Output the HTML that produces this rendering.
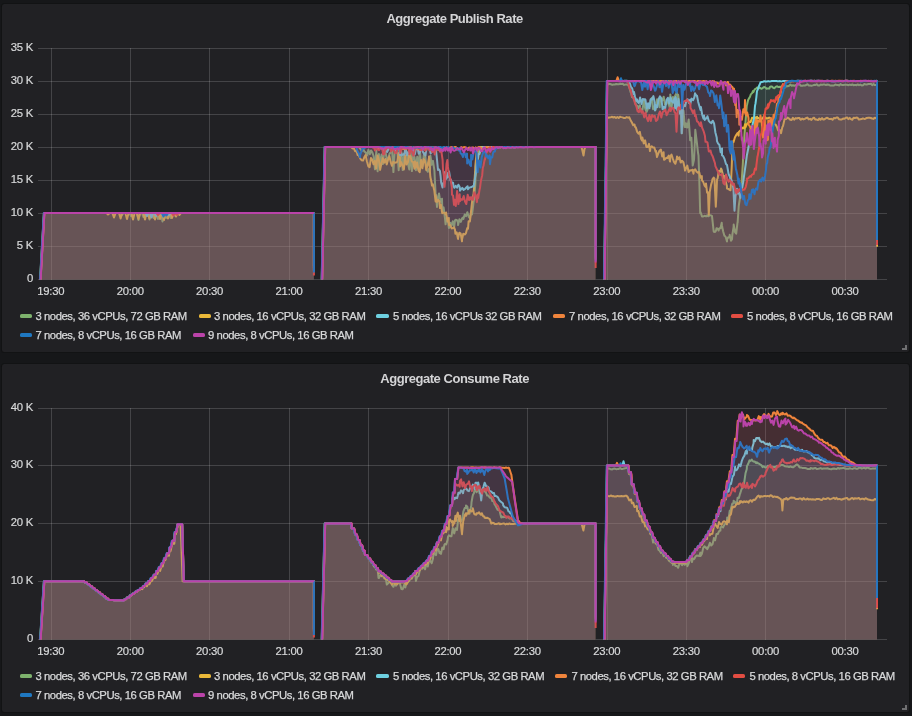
<!DOCTYPE html>
<html lang="en"><head><meta charset="utf-8"><title>Aggregate Publish / Consume Rate</title>
<style>
html,body{margin:0;padding:0;background:#161719;}
body{width:912px;height:716px;position:relative;overflow:hidden;font-family:"Liberation Sans",Arial,sans-serif;color:#d8d9da;}
.panel{position:absolute;width:907px;height:348px;background:#212124;border-radius:2.5px;box-shadow:0 0 0 1px #121314;}
.title{position:absolute;left:-0.9px;right:0.9px;top:6.8px;margin:0;text-align:center;font-size:13px;line-height:16px;font-weight:bold;letter-spacing:-0.47px;color:#d4d4d6;}
.chart{position:absolute;left:0;top:0;}
.yl,.xl,.lt{position:absolute;font-size:11.3px;line-height:15px;white-space:nowrap;}
.yl,.xl{-webkit-text-stroke:0.2px #d8d9da;}
.yl{left:0;width:30.9px;text-align:right;letter-spacing:-0.3px;}
.xl{width:40px;text-align:center;letter-spacing:-0.25px;}
.legend{list-style:none;margin:0;padding:0;}
.legend li{display:block;}
.sw{position:absolute;width:12.3px;height:4.4px;border-radius:1.6px;}
.lt{letter-spacing:-0.45px;-webkit-text-stroke:0.25px #d8d9da;}
.rz{position:absolute;right:2px;bottom:2px;width:5px;height:5px;border-right:2px solid #6f6f71;border-bottom:2px solid #6f6f71;box-sizing:border-box;}
</style></head><body>
<section class="panel" style="left:2px;top:4px">
<h2 class="title">Aggregate Publish Rate</h2>
<svg class="chart" width="907" height="348" viewBox="2 4 907 348">
<path d="M38 48.5 H887 M38 81.5 H887 M38 114.5 H887 M38 147.5 H887 M38 180.5 H887 M38 213.5 H887 M38 246.5 H887 M38 279.5 H887" stroke="#fff" stroke-opacity=".16" stroke-width="1" fill="none" shape-rendering="crispEdges"/>
<path d="M51.5 48 V280 M130.5 48 V280 M209.5 48 V280 M289.5 48 V280 M368.5 48 V280 M448.5 48 V280 M527.5 48 V280 M607.5 48 V280 M686.5 48 V280 M765.5 48 V280 M845.5 48 V280" stroke="#fff" stroke-opacity=".16" stroke-width="1" fill="none" shape-rendering="crispEdges"/>
<path d="M40.2 279.5L44 213L120.4 213L120.6 213.2L121.9 214.8L122 215L123.6 213L129.4 213L129.8 213.8L131 216L132.4 213.3L132.6 213L136.9 213L137.7 216.6L138.5 220L139 217.6L140.1 213L141.9 213L143 215.8L143.5 217L145.1 213L147.9 213L148.3 214.5L149.5 219.5L150.9 213.7L151.1 213L151.9 213L152.2 214.1L153.5 218L153.6 217.8L154.9 213.7L155.1 213L156.4 213L157.5 217.2L158 219L158.8 215.8L159.6 213L160.9 213L161.5 216.1L162.5 221.5L164.1 213L164.4 213L165.4 216.2L166 218L166.8 215.6L167.6 213L168.9 213L169.4 214.6L170.5 218L170.7 217.3L172 213.2L172.1 213L173.4 213L174.7 215L175 215.5L176 213.9L176.6 213L313.9 213L313.9 268L313.9 279.5 L40.2 279.5 Z" fill="#83b66e" fill-opacity="0.106" stroke="none"/>
<path d="M40.2 279.5L44 213L120.4 213L120.6 213.2L121.9 214.8L122 215L123.6 213L129.4 213L129.8 213.8L131 216L132.4 213.3L132.6 213L136.9 213L137.7 216.6L138.5 220L139 217.6L140.1 213L141.9 213L143 215.8L143.5 217L145.1 213L147.9 213L148.3 214.5L149.5 219.5L150.9 213.7L151.1 213L151.9 213L152.2 214.1L153.5 218L153.6 217.8L154.9 213.7L155.1 213L156.4 213L157.5 217.2L158 219L158.8 215.8L159.6 213L160.9 213L161.5 216.1L162.5 221.5L164.1 213L164.4 213L165.4 216.2L166 218L166.8 215.6L167.6 213L168.9 213L169.4 214.6L170.5 218L170.7 217.3L172 213.2L172.1 213L173.4 213L174.7 215L175 215.5L176 213.9L176.6 213L313.9 213L313.9 268" fill="none" stroke="#7eb26d" stroke-width="2" stroke-linejoin="round"/>
<path d="M321.8 279.5L324.8 147L358 147L359.1 147.3L360.4 149L361.8 151.2L362 149.6L363.1 149L364.4 151.4L365.7 152.5L367 155.6L368.4 149.7L369.7 154.2L370 153.9L371 150.4L372.3 152.4L373.6 156L375 169.3L376.3 150.7L377.6 171.3L378.9 154.1L380 163.1L380.2 164L381.6 154.4L382.9 164.1L384.2 151L385.5 152L386.8 159.2L388.2 158.5L389.5 153.9L390.8 152.1L392.1 150.4L393.4 172.1L394.8 150.3L396.1 152.9L397.4 152.3L398.7 170.2L400 150.2L400 162.2L401.4 151.7L402.7 170.1L404 155.4L405.3 151.7L406.6 151.6L408 163.9L409.3 169.6L410.6 150.6L411.9 171.1L413.2 154.9L414.6 157.3L415.9 170.2L417.2 156.8L418.5 168.7L419.8 151L420 151.1L421.2 167L422.5 166.1L423.8 154.9L425.1 152.7L426.4 169.6L427.8 171.8L429.1 168.7L430 170.1L430.4 155.7L431.7 164.7L433 160.9L433 161.1L434.4 170.3L435.7 196.2L436 194.7L437 207L438.3 196.1L439 193.5L439.6 197.2L441 201.9L442 198.8L442.3 210.4L443.6 207.4L444.9 217.5L445.6 224.3L446.2 218.7L447.6 218.2L448.9 227.9L450 227.2L450.2 222.7L451.5 225.7L452.8 221.2L454.2 226.5L455 220.4L455.5 219.8L456.8 219.9L458 222.6L458.1 225.1L459.4 219.2L460.8 221.9L462.1 218.3L463 217.6L463.4 219L464.7 214.5L466 216.2L467 213.2L467.4 212.2L468.7 216.8L470 218.2L471.3 211.1L472 214.4L472.6 210.1L473.6 202L474 199.7L475.3 184.5L475.5 177.3L476.6 166.3L477.8 156.6L477.9 156.1L479.2 151.6L480 147.3L480.6 147.1L481.9 147.2L483 147L595.6 147L595.6 258L595.6 279.5 L321.8 279.5 Z" fill="#83b66e" fill-opacity="0.106" stroke="none"/>
<path d="M321.8 279.5L324.8 147L358 147L359.1 147.3L360.4 149L361.8 151.2L362 149.6L363.1 149L364.4 151.4L365.7 152.5L367 155.6L368.4 149.7L369.7 154.2L370 153.9L371 150.4L372.3 152.4L373.6 156L375 169.3L376.3 150.7L377.6 171.3L378.9 154.1L380 163.1L380.2 164L381.6 154.4L382.9 164.1L384.2 151L385.5 152L386.8 159.2L388.2 158.5L389.5 153.9L390.8 152.1L392.1 150.4L393.4 172.1L394.8 150.3L396.1 152.9L397.4 152.3L398.7 170.2L400 150.2L400 162.2L401.4 151.7L402.7 170.1L404 155.4L405.3 151.7L406.6 151.6L408 163.9L409.3 169.6L410.6 150.6L411.9 171.1L413.2 154.9L414.6 157.3L415.9 170.2L417.2 156.8L418.5 168.7L419.8 151L420 151.1L421.2 167L422.5 166.1L423.8 154.9L425.1 152.7L426.4 169.6L427.8 171.8L429.1 168.7L430 170.1L430.4 155.7L431.7 164.7L433 160.9L433 161.1L434.4 170.3L435.7 196.2L436 194.7L437 207L438.3 196.1L439 193.5L439.6 197.2L441 201.9L442 198.8L442.3 210.4L443.6 207.4L444.9 217.5L445.6 224.3L446.2 218.7L447.6 218.2L448.9 227.9L450 227.2L450.2 222.7L451.5 225.7L452.8 221.2L454.2 226.5L455 220.4L455.5 219.8L456.8 219.9L458 222.6L458.1 225.1L459.4 219.2L460.8 221.9L462.1 218.3L463 217.6L463.4 219L464.7 214.5L466 216.2L467 213.2L467.4 212.2L468.7 216.8L470 218.2L471.3 211.1L472 214.4L472.6 210.1L473.6 202L474 199.7L475.3 184.5L475.5 177.3L476.6 166.3L477.8 156.6L477.9 156.1L479.2 151.6L480 147.3L480.6 147.1L481.9 147.2L483 147L595.6 147L595.6 258" fill="none" stroke="#7eb26d" stroke-width="2" stroke-linejoin="round"/>
<path d="M604.2 279.5L606.9 84.6L608.2 84.3L609.5 83.7L610.9 84.2L612.2 84.9L613.5 84.5L614.8 84.6L616.1 84L617.5 84.3L618.8 84.3L620.1 83.9L621.4 84L622.7 83.8L624.1 84.9L625.4 84.6L626.7 84.5L628 84.9L629.3 87.4L630.7 92.6L631 92.5L632 97L633.3 97.5L634.6 100.9L635 100.1L635.9 105.3L637.3 105.7L638.6 108.3L639.9 105.2L640 110.3L641.2 109.3L642.5 109.9L643.9 99.8L645.2 108.6L646.5 112L647.8 109.2L649.1 104L650 106L650.5 100.3L651.8 97.9L653.1 109.2L654.4 106.4L655.7 109.7L657.1 99.2L658.4 100.3L659.7 107.2L660 96.7L661 101.4L662.3 100.7L663.7 96.7L665 104.6L666.3 104L667.6 99.3L668.9 104.5L670 108.8L670.3 94.4L671.6 107L672.9 97.1L674.2 98.1L675.5 95L676.9 92.6L678 98.9L678.2 94.8L679.5 105L680.8 115L681 114.9L682 133.3L682.1 130.3L683.5 113.9L683.5 110.7L684.8 126.9L686 123.4L686.1 127.1L687.4 127.5L688.7 119.5L690 137L690.1 140.2L691.4 137.7L692.7 165.6L694 159.9L695 138.4L695.3 129.8L696.7 141.2L698 152.5L698.5 155.6L699.3 179.9L700.2 213.3L700.6 212.2L701.9 216.1L702 216.5L703.3 216.4L704.6 215.8L705.9 216.2L707 216.3L707.2 215.2L708.5 216.2L709.9 215.1L711.2 215.4L712 216.1L712.5 220.7L713.6 230.6L713.8 231.7L715.1 231.9L716 230.7L716.5 228.2L717.8 228.6L718.6 230.5L719.1 228.8L720.4 227.8L720.5 228.3L721.7 222.7L722 225.7L723.1 231.3L724.4 235.8L724.5 235.6L725.7 236.9L727 241.6L727 239.5L728.3 237.2L729.5 237L729.7 234.8L731 240.8L732 239.2L732.3 234.9L733.6 227L733.7 224.6L734.9 231L735 232.2L736.2 233.7L736.3 232.9L737.5 222.5L737.6 222.9L738.7 206.5L738.9 204.8L740.2 196.4L741.2 190L741.5 183.7L742.9 162.7L743 160.1L744.2 139.4L744.5 134.3L745.5 122.1L746.8 105.5L747 105L748.1 100L749.5 97.6L750 96.8L750.8 94.4L752.1 93.1L753 91L753.4 92.1L754.7 89.4L756.1 88.5L757 87.6L757.4 87.4L758.7 88.4L760 87.7L761.3 88.8L762.7 88.1L764 86.9L765.3 87.4L766.6 88.7L767.9 88.4L769.3 88.6L770 86.9L770.6 86.6L771.9 86.5L773.2 87.7L774.5 88.2L775.9 86.6L777.2 86.3L778.5 87.1L779.8 86.7L782.5 86.9L783.8 88L785 86.6L785.1 87.4L786.4 86L787.7 86.2L789.1 85.8L790.4 84.6L791.7 85.7L792 85.4L793 85.2L794.3 85.8L795.7 85.3L797 84.3L798.3 84.6L799.6 84.4L800.9 85.7L802.3 85.8L803.6 85.4L804.9 85.6L806.2 85L807.5 84.2L808.9 85.6L810.2 85.5L811.5 85.7L812.8 85.4L814.1 84.8L815.5 85L816.8 84.2L818.1 85.5L819.4 85.5L820.7 84.5L822.1 84.9L823.4 84.4L824.7 84.6L826 85L827.3 84.5L828.7 84.7L830 85.5L831.3 85.5L832.6 85.4L833.9 85.5L835.3 84.5L836.6 84.9L837.9 84.9L839.2 85.5L840.5 84.1L841.9 85L843.2 85L844.5 84.8L845.8 84.7L847.1 84.8L848.5 85.2L849.8 84.6L851.1 85L852.4 84.4L853.7 85.3L855.1 84.9L856.4 85.3L857.7 84.4L859 85.2L860.3 84.6L861.7 85.4L863 85.2L864.3 84L865.6 84.4L866.9 84.4L868.3 84.1L869.6 84.1L870.9 83.7L872.2 85.2L873.5 84L874.9 85.1L876.2 85L877 84.2L877 232L877 279.5 L604.2 279.5 Z" fill="#83b66e" fill-opacity="0.106" stroke="none"/>
<path d="M604.2 279.5L606.9 84.6L608.2 84.3L609.5 83.7L610.9 84.2L612.2 84.9L613.5 84.5L614.8 84.6L616.1 84L617.5 84.3L618.8 84.3L620.1 83.9L621.4 84L622.7 83.8L624.1 84.9L625.4 84.6L626.7 84.5L628 84.9L629.3 87.4L630.7 92.6L631 92.5L632 97L633.3 97.5L634.6 100.9L635 100.1L635.9 105.3L637.3 105.7L638.6 108.3L639.9 105.2L640 110.3L641.2 109.3L642.5 109.9L643.9 99.8L645.2 108.6L646.5 112L647.8 109.2L649.1 104L650 106L650.5 100.3L651.8 97.9L653.1 109.2L654.4 106.4L655.7 109.7L657.1 99.2L658.4 100.3L659.7 107.2L660 96.7L661 101.4L662.3 100.7L663.7 96.7L665 104.6L666.3 104L667.6 99.3L668.9 104.5L670 108.8L670.3 94.4L671.6 107L672.9 97.1L674.2 98.1L675.5 95L676.9 92.6L678 98.9L678.2 94.8L679.5 105L680.8 115L681 114.9L682 133.3L682.1 130.3L683.5 113.9L683.5 110.7L684.8 126.9L686 123.4L686.1 127.1L687.4 127.5L688.7 119.5L690 137L690.1 140.2L691.4 137.7L692.7 165.6L694 159.9L695 138.4L695.3 129.8L696.7 141.2L698 152.5L698.5 155.6L699.3 179.9L700.2 213.3L700.6 212.2L701.9 216.1L702 216.5L703.3 216.4L704.6 215.8L705.9 216.2L707 216.3L707.2 215.2L708.5 216.2L709.9 215.1L711.2 215.4L712 216.1L712.5 220.7L713.6 230.6L713.8 231.7L715.1 231.9L716 230.7L716.5 228.2L717.8 228.6L718.6 230.5L719.1 228.8L720.4 227.8L720.5 228.3L721.7 222.7L722 225.7L723.1 231.3L724.4 235.8L724.5 235.6L725.7 236.9L727 241.6L727 239.5L728.3 237.2L729.5 237L729.7 234.8L731 240.8L732 239.2L732.3 234.9L733.6 227L733.7 224.6L734.9 231L735 232.2L736.2 233.7L736.3 232.9L737.5 222.5L737.6 222.9L738.7 206.5L738.9 204.8L740.2 196.4L741.2 190L741.5 183.7L742.9 162.7L743 160.1L744.2 139.4L744.5 134.3L745.5 122.1L746.8 105.5L747 105L748.1 100L749.5 97.6L750 96.8L750.8 94.4L752.1 93.1L753 91L753.4 92.1L754.7 89.4L756.1 88.5L757 87.6L757.4 87.4L758.7 88.4L760 87.7L761.3 88.8L762.7 88.1L764 86.9L765.3 87.4L766.6 88.7L767.9 88.4L769.3 88.6L770 86.9L770.6 86.6L771.9 86.5L773.2 87.7L774.5 88.2L775.9 86.6L777.2 86.3L778.5 87.1L779.8 86.7L782.5 86.9L783.8 88L785 86.6L785.1 87.4L786.4 86L787.7 86.2L789.1 85.8L790.4 84.6L791.7 85.7L792 85.4L793 85.2L794.3 85.8L795.7 85.3L797 84.3L798.3 84.6L799.6 84.4L800.9 85.7L802.3 85.8L803.6 85.4L804.9 85.6L806.2 85L807.5 84.2L808.9 85.6L810.2 85.5L811.5 85.7L812.8 85.4L814.1 84.8L815.5 85L816.8 84.2L818.1 85.5L819.4 85.5L820.7 84.5L822.1 84.9L823.4 84.4L824.7 84.6L826 85L827.3 84.5L828.7 84.7L830 85.5L831.3 85.5L832.6 85.4L833.9 85.5L835.3 84.5L836.6 84.9L837.9 84.9L839.2 85.5L840.5 84.1L841.9 85L843.2 85L844.5 84.8L845.8 84.7L847.1 84.8L848.5 85.2L849.8 84.6L851.1 85L852.4 84.4L853.7 85.3L855.1 84.9L856.4 85.3L857.7 84.4L859 85.2L860.3 84.6L861.7 85.4L863 85.2L864.3 84L865.6 84.4L866.9 84.4L868.3 84.1L869.6 84.1L870.9 83.7L872.2 85.2L873.5 84L874.9 85.1L876.2 85L877 84.2L877 232" fill="none" stroke="#7eb26d" stroke-width="2" stroke-linejoin="round"/>
<path d="M40.1 279.5L43.9 213L106.4 213L107.3 213.8L108 214.5L108.6 214L109.6 213L112.4 213L112.5 213.4L113.9 217.1L114 217.5L115.2 214.2L115.6 213L119 213L119.1 213.5L120.5 218L120.6 218.5L121.8 214.4L122.2 213L125.4 213L125.7 214.3L127 219L127.1 218.8L128.4 213.8L128.6 213L131.4 213L132.3 216.8L133 219.5L133.7 216.8L134.6 213L136.9 213L137.6 215.7L138.5 219L138.9 217.3L140.1 213L143.4 213L144.2 216.3L145 219.5L145.5 217.3L146.6 213L147.9 213L148.2 214L149.5 218.5L150.8 214L151.1 213L153.4 213L153.5 213.2L154.8 218.6L155 219.5L156.1 215L156.6 213L158.4 213L158.7 214.3L160 219L160.1 218.8L161.4 213.8L161.6 213L162.4 213L164 220L164 219.9L165.3 214.1L165.6 213L166.4 213L166.7 213.9L168 218.4L168 218.5L169.3 214L169.6 213L170.4 213L170.6 213.7L171.9 217.8L172 218L173.3 214.1L173.6 213L174.4 213L174.6 213.4L175.9 216.3L176 216.5L177.2 213.8L177.6 213L177.9 213L178.5 213.8L179.5 215L181.1 213L313.9 213L313.9 270L313.9 279.5 L40.1 279.5 Z" fill="#efbc3a" fill-opacity="0.106" stroke="none"/>
<path d="M40.1 279.5L43.9 213L106.4 213L107.3 213.8L108 214.5L108.6 214L109.6 213L112.4 213L112.5 213.4L113.9 217.1L114 217.5L115.2 214.2L115.6 213L119 213L119.1 213.5L120.5 218L120.6 218.5L121.8 214.4L122.2 213L125.4 213L125.7 214.3L127 219L127.1 218.8L128.4 213.8L128.6 213L131.4 213L132.3 216.8L133 219.5L133.7 216.8L134.6 213L136.9 213L137.6 215.7L138.5 219L138.9 217.3L140.1 213L143.4 213L144.2 216.3L145 219.5L145.5 217.3L146.6 213L147.9 213L148.2 214L149.5 218.5L150.8 214L151.1 213L153.4 213L153.5 213.2L154.8 218.6L155 219.5L156.1 215L156.6 213L158.4 213L158.7 214.3L160 219L160.1 218.8L161.4 213.8L161.6 213L162.4 213L164 220L164 219.9L165.3 214.1L165.6 213L166.4 213L166.7 213.9L168 218.4L168 218.5L169.3 214L169.6 213L170.4 213L170.6 213.7L171.9 217.8L172 218L173.3 214.1L173.6 213L174.4 213L174.6 213.4L175.9 216.3L176 216.5L177.2 213.8L177.6 213L177.9 213L178.5 213.8L179.5 215L181.1 213L313.9 213L313.9 270" fill="none" stroke="#eab839" stroke-width="2" stroke-linejoin="round"/>
<path d="M321.7 279.5L324.7 147L351.1 147L352.4 148.2L352.7 148.4L353.7 148.1L355.1 151.2L356.4 150.7L357.7 155.1L358 154.5L359 155.9L360.3 158.7L361.7 160.3L363 160.6L364.3 157.3L365.6 155L366.9 161.2L367 161.5L368.3 166.3L369.6 167.1L370.9 157.9L372.2 159.6L373.5 164.3L374.9 160.8L376.2 168.6L377.5 155.4L378.8 159.6L380 167.1L380.1 169.9L381.5 163.2L382.8 158.1L384.1 162.7L385.4 159L386.7 164.4L388.1 159.5L389.4 156.3L390.7 162.1L392 165.8L393.3 161.8L394.7 162.8L396 162.6L397.3 161.7L398.6 153.3L399.9 157.8L400 166.5L401.3 162.2L402.6 166L403.9 169.5L405.2 155.5L406.5 164.6L407.9 162.3L409.2 154.3L410.5 156.7L411.8 161.6L413.1 162L414.5 168.7L415 161.6L415.8 167.5L417.1 162.5L418.4 170.3L419.7 172.1L421.1 159.9L422.4 168.3L423.7 159L425 161.1L426.3 169.9L427.7 164.6L429 157.8L429 156.6L430.3 176.7L431.6 182.8L432 185.6L432.9 184.4L434.3 190.4L435.6 201.5L435.6 195.5L436.9 202.1L438.2 199.9L439.5 201.5L440 208.1L440.9 204.7L442.2 213.2L443.5 212.6L444.8 213.2L445.6 214.4L446.1 212.4L447.5 221.5L448.8 218L449 225L450.1 224.9L451.4 227.8L452 228.5L454.1 227.3L455 229.9L455.4 233.7L456.7 232.4L458 238.9L458 238.5L459.3 232.7L460.7 233.6L462 241.3L462 239.6L463.3 233.8L464.6 234.4L465 234.4L465.9 233.2L467.3 228L468 228.8L468.6 221.3L469.9 221.4L470 220.6L471.2 209.9L472 202.4L472.5 198.6L473.6 193.6L473.9 190L475.2 170L475.3 166.3L476.5 153L477.8 149.5L478 148.1L479.1 147.6L480 147L581.5 147L582.5 151L583.4 155.1L583.5 155.5L584.5 149L584.7 148.5L585.5 147L595.6 147L595.6 259L595.6 279.5 L321.7 279.5 Z" fill="#efbc3a" fill-opacity="0.106" stroke="none"/>
<path d="M321.7 279.5L324.7 147L351.1 147L352.4 148.2L352.7 148.4L353.7 148.1L355.1 151.2L356.4 150.7L357.7 155.1L358 154.5L359 155.9L360.3 158.7L361.7 160.3L363 160.6L364.3 157.3L365.6 155L366.9 161.2L367 161.5L368.3 166.3L369.6 167.1L370.9 157.9L372.2 159.6L373.5 164.3L374.9 160.8L376.2 168.6L377.5 155.4L378.8 159.6L380 167.1L380.1 169.9L381.5 163.2L382.8 158.1L384.1 162.7L385.4 159L386.7 164.4L388.1 159.5L389.4 156.3L390.7 162.1L392 165.8L393.3 161.8L394.7 162.8L396 162.6L397.3 161.7L398.6 153.3L399.9 157.8L400 166.5L401.3 162.2L402.6 166L403.9 169.5L405.2 155.5L406.5 164.6L407.9 162.3L409.2 154.3L410.5 156.7L411.8 161.6L413.1 162L414.5 168.7L415 161.6L415.8 167.5L417.1 162.5L418.4 170.3L419.7 172.1L421.1 159.9L422.4 168.3L423.7 159L425 161.1L426.3 169.9L427.7 164.6L429 157.8L429 156.6L430.3 176.7L431.6 182.8L432 185.6L432.9 184.4L434.3 190.4L435.6 201.5L435.6 195.5L436.9 202.1L438.2 199.9L439.5 201.5L440 208.1L440.9 204.7L442.2 213.2L443.5 212.6L444.8 213.2L445.6 214.4L446.1 212.4L447.5 221.5L448.8 218L449 225L450.1 224.9L451.4 227.8L452 228.5L454.1 227.3L455 229.9L455.4 233.7L456.7 232.4L458 238.9L458 238.5L459.3 232.7L460.7 233.6L462 241.3L462 239.6L463.3 233.8L464.6 234.4L465 234.4L465.9 233.2L467.3 228L468 228.8L468.6 221.3L469.9 221.4L470 220.6L471.2 209.9L472 202.4L472.5 198.6L473.6 193.6L473.9 190L475.2 170L475.3 166.3L476.5 153L477.8 149.5L478 148.1L479.1 147.6L480 147L581.5 147L582.5 151L583.4 155.1L583.5 155.5L584.5 149L584.7 148.5L585.5 147L595.6 147L595.6 259" fill="none" stroke="#eab839" stroke-width="2" stroke-linejoin="round"/>
<path d="M604.1 279.5L606.8 117.1L608.1 117.8L609.4 117.4L610.8 117.2L612.1 116.8L613.4 117.5L614.7 116.9L616 118L617.4 117L618.7 118L620 116.7L621.3 117.1L622.6 117.4L624 118.1L625.3 118L626.6 117.1L627.9 117.5L629 117.9L629.2 117.2L630.6 120.2L631.9 122.5L633.2 125.2L634.5 124.5L635 126.9L635.8 127.4L637.2 131.9L638.5 133.8L639.8 131.8L641.1 138.8L642 140.4L642.4 137.6L643.8 143.4L645.1 140.3L646.4 147.1L647.7 147.1L649 143.9L650 151.1L650.4 148L651.7 146.2L653 147.4L654.3 147.5L655.6 151.6L656 150.8L657 157L658.3 153.3L659.6 150.5L660.9 149.5L662.2 156.5L663.6 152.3L664 159.8L664.9 159.3L666.2 157.8L667.5 158L668.8 155.6L670 161.6L670.2 156.7L671.5 154.6L672.8 158.6L674.1 162.1L675.4 163.8L676.8 158.6L677 156.4L678.1 159.2L679.4 157.2L680.7 162.6L682 160.8L683.4 162.2L684.7 168.1L685 170.6L686 168.4L687.3 165.6L688.6 172L690 170.3L691.3 170.4L692.6 169.7L693.5 173.7L693.9 170.2L695.2 169.3L696.6 171.8L697.9 172.7L698.5 171.9L699.2 172.1L700.5 177.8L701.8 176.1L702 180.4L703.2 181.7L704.5 185.5L705.8 187L706 183.4L707.1 192.6L708 192.2L708.4 204.8L708.8 214.7L709.8 191.4L709.8 191.8L711.1 184.6L712 181.8L712.4 179.3L713.7 177.6L714.5 178.7L715 190L715.8 206.7L716.4 195.2L717 179.7L717.7 178.2L718.5 172.3L719 170.9L720.3 171.7L721 168.6L721.6 169.5L723 175.1L724 178.1L724.3 176L725.6 181.2L726.9 186.1L727 188.5L728.2 188.9L729.6 189.8L730.5 190.3L730.9 184.5L731.8 164.6L732.2 153.8L732.7 141.5L733.5 142.2L734.8 137.7L735 137.2L736.2 135L737.5 133L738.6 135.6L738.8 132L740.1 130.8L741.4 129.1L742.8 127.6L744.1 128.5L745 124.3L745.4 127.3L746.7 124.4L748 122.9L749.4 121.7L750.7 122L752 117.8L753.3 118.3L754.6 117L756 118.3L757 116.7L757.3 118.6L758.6 117.9L759.9 119.2L761.2 119.3L762.6 118.5L763.9 116.4L765.2 117.3L766.5 118.4L767.8 118.2L768 118.4L769.2 117.6L770.5 118.1L771.8 120.2L773.1 122.2L774 120.1L774.4 123.8L775.8 124.8L777.1 127.3L778 130.2L778.4 130.7L779.7 129.9L781 132.5L781 133.3L782.4 126.9L783 125.9L783.7 122.9L784.5 119.4L785 118.8L786.3 118.9L787.6 117.6L789 118.5L790.3 119.8L791.6 120L792.9 117.8L794.2 119.7L795.6 118.1L796.9 118.5L798.2 117.9L799.5 117.9L800 119L800.8 119.7L802.2 118.6L803.5 119.4L804.8 118.9L806.1 118L807.4 117.6L808.8 119.4L810.1 118.8L811.4 119.9L812.7 118.4L814 117.7L815.4 119.6L816.7 119.6L818 120.1L819.3 118.5L820.6 119.7L822 118.1L823.3 119.6L824.6 119.2L825.9 118.2L827.2 117.8L828.6 118.7L829.9 119.1L831.2 118.8L832.5 119.8L833.8 118.1L835.2 118.3L836.5 117.5L837.8 117.6L839.1 119.3L840.4 119.5L841.8 119.4L843.1 118.6L844.4 118.8L845.7 117.9L847 117.4L848.4 119.1L849.7 117.9L851 119.2L852.3 119.8L853.6 117.7L855 118L856.3 117.6L857.6 117.7L858.9 119.6L860.2 119.2L861.6 119.1L862.9 118.4L864.2 118.9L865.5 118.7L866.8 117.9L868.2 117.8L869.5 117.8L870.8 118L872.1 118.5L873.4 118.9L874.8 117.8L876.1 117.9L877 119.1L877 246.8L877 279.5 L604.1 279.5 Z" fill="#efbc3a" fill-opacity="0.106" stroke="none"/>
<path d="M604.1 279.5L606.8 117.1L608.1 117.8L609.4 117.4L610.8 117.2L612.1 116.8L613.4 117.5L614.7 116.9L616 118L617.4 117L618.7 118L620 116.7L621.3 117.1L622.6 117.4L624 118.1L625.3 118L626.6 117.1L627.9 117.5L629 117.9L629.2 117.2L630.6 120.2L631.9 122.5L633.2 125.2L634.5 124.5L635 126.9L635.8 127.4L637.2 131.9L638.5 133.8L639.8 131.8L641.1 138.8L642 140.4L642.4 137.6L643.8 143.4L645.1 140.3L646.4 147.1L647.7 147.1L649 143.9L650 151.1L650.4 148L651.7 146.2L653 147.4L654.3 147.5L655.6 151.6L656 150.8L657 157L658.3 153.3L659.6 150.5L660.9 149.5L662.2 156.5L663.6 152.3L664 159.8L664.9 159.3L666.2 157.8L667.5 158L668.8 155.6L670 161.6L670.2 156.7L671.5 154.6L672.8 158.6L674.1 162.1L675.4 163.8L676.8 158.6L677 156.4L678.1 159.2L679.4 157.2L680.7 162.6L682 160.8L683.4 162.2L684.7 168.1L685 170.6L686 168.4L687.3 165.6L688.6 172L690 170.3L691.3 170.4L692.6 169.7L693.5 173.7L693.9 170.2L695.2 169.3L696.6 171.8L697.9 172.7L698.5 171.9L699.2 172.1L700.5 177.8L701.8 176.1L702 180.4L703.2 181.7L704.5 185.5L705.8 187L706 183.4L707.1 192.6L708 192.2L708.4 204.8L708.8 214.7L709.8 191.4L709.8 191.8L711.1 184.6L712 181.8L712.4 179.3L713.7 177.6L714.5 178.7L715 190L715.8 206.7L716.4 195.2L717 179.7L717.7 178.2L718.5 172.3L719 170.9L720.3 171.7L721 168.6L721.6 169.5L723 175.1L724 178.1L724.3 176L725.6 181.2L726.9 186.1L727 188.5L728.2 188.9L729.6 189.8L730.5 190.3L730.9 184.5L731.8 164.6L732.2 153.8L732.7 141.5L733.5 142.2L734.8 137.7L735 137.2L736.2 135L737.5 133L738.6 135.6L738.8 132L740.1 130.8L741.4 129.1L742.8 127.6L744.1 128.5L745 124.3L745.4 127.3L746.7 124.4L748 122.9L749.4 121.7L750.7 122L752 117.8L753.3 118.3L754.6 117L756 118.3L757 116.7L757.3 118.6L758.6 117.9L759.9 119.2L761.2 119.3L762.6 118.5L763.9 116.4L765.2 117.3L766.5 118.4L767.8 118.2L768 118.4L769.2 117.6L770.5 118.1L771.8 120.2L773.1 122.2L774 120.1L774.4 123.8L775.8 124.8L777.1 127.3L778 130.2L778.4 130.7L779.7 129.9L781 132.5L781 133.3L782.4 126.9L783 125.9L783.7 122.9L784.5 119.4L785 118.8L786.3 118.9L787.6 117.6L789 118.5L790.3 119.8L791.6 120L792.9 117.8L794.2 119.7L795.6 118.1L796.9 118.5L798.2 117.9L799.5 117.9L800 119L800.8 119.7L802.2 118.6L803.5 119.4L804.8 118.9L806.1 118L807.4 117.6L808.8 119.4L810.1 118.8L811.4 119.9L812.7 118.4L814 117.7L815.4 119.6L816.7 119.6L818 120.1L819.3 118.5L820.6 119.7L822 118.1L823.3 119.6L824.6 119.2L825.9 118.2L827.2 117.8L828.6 118.7L829.9 119.1L831.2 118.8L832.5 119.8L833.8 118.1L835.2 118.3L836.5 117.5L837.8 117.6L839.1 119.3L840.4 119.5L841.8 119.4L843.1 118.6L844.4 118.8L845.7 117.9L847 117.4L848.4 119.1L849.7 117.9L851 119.2L852.3 119.8L853.6 117.7L855 118L856.3 117.6L857.6 117.7L858.9 119.6L860.2 119.2L861.6 119.1L862.9 118.4L864.2 118.9L865.5 118.7L866.8 117.9L868.2 117.8L869.5 117.8L870.8 118L872.1 118.5L873.4 118.9L874.8 117.8L876.1 117.9L877 119.1L877 246.8" fill="none" stroke="#eab839" stroke-width="2" stroke-linejoin="round"/>
<path d="M40.5 279.5L44.2 213L145.4 213L145.9 213.9L147 216L147.2 215.6L148.5 213.1L148.6 213L149.9 213L151.2 216.6L151.5 217.5L153.1 213L154.4 213L155.1 214.4L156 216L156.4 215.2L157.6 213L161.4 213L161.7 213.6L163 216L163.1 215.9L164.4 213.4L164.6 213L167.4 213L168.3 214.2L169 215L169.7 214.2L170.6 213L313.9 213L313.9 266L313.9 279.5 L40.5 279.5 Z" fill="#73d4e1" fill-opacity="0.106" stroke="none"/>
<path d="M40.5 279.5L44.2 213L145.4 213L145.9 213.9L147 216L147.2 215.6L148.5 213.1L148.6 213L149.9 213L151.2 216.6L151.5 217.5L153.1 213L154.4 213L155.1 214.4L156 216L156.4 215.2L157.6 213L161.4 213L161.7 213.6L163 216L163.1 215.9L164.4 213.4L164.6 213L167.4 213L168.3 214.2L169 215L169.7 214.2L170.6 213L313.9 213L313.9 266" fill="none" stroke="#6ed0e0" stroke-width="2" stroke-linejoin="round"/>
<path d="M322.1 279.5L325.1 147L380 147L380.5 147.3L381.8 147.4L383.1 149.4L384 152.9L384.4 148.4L385.8 147.5L387.1 152L388.4 149.3L389.7 147.3L391.1 147L392.4 147.1L393.7 147.6L395 150.5L396.3 147.1L397.6 147.6L399 147.7L400 155L400.3 147.2L401.6 155.4L402.9 154.4L404.2 154.8L405.6 147.3L406.9 155.2L408.2 152.4L409.5 153.1L410.9 150.6L412.2 151.5L413.5 147.9L414.8 154.4L416.1 148.2L417.4 147.7L418.8 153.8L420 151.7L420.1 150.3L421.4 147.1L422.7 151.5L424.1 154L425.4 155.4L426.7 147.7L428 147.6L429 147L429.3 147.5L430.6 153.4L432 151.2L433.3 150.3L434.6 149.8L435.6 147.4L435.9 149.2L437.2 161.7L438 170L438.6 169L439.9 170.8L440.6 176L441.2 182.8L442.5 187.6L443 183.9L443.9 181.9L445 172L445.2 177.3L446.5 178.8L447.8 173L448 176.9L449.1 171.6L450.4 180.3L451 179.9L451.8 183.3L453.1 182.8L453.5 186.3L454.4 187.8L455.7 185.7L457.1 187.7L458.4 184.7L459.7 187L460 190.7L461 189.2L462.3 187.9L463.6 189.9L465 189L466.3 187.5L467.6 186.3L468 189.3L468.9 187.9L470.2 187.4L471.6 187L472.9 186.2L473.6 186.5L474.2 183.8L475 178.2L475.5 174.6L476.5 165L476.9 162.8L478.2 157.2L478.6 154L479.5 153.9L480.8 149L481 147.6L482.1 147.6L483.4 147.3L484 147L595.6 147L595.6 257L595.6 279.5 L322.1 279.5 Z" fill="#73d4e1" fill-opacity="0.106" stroke="none"/>
<path d="M322.1 279.5L325.1 147L380 147L380.5 147.3L381.8 147.4L383.1 149.4L384 152.9L384.4 148.4L385.8 147.5L387.1 152L388.4 149.3L389.7 147.3L391.1 147L392.4 147.1L393.7 147.6L395 150.5L396.3 147.1L397.6 147.6L399 147.7L400 155L400.3 147.2L401.6 155.4L402.9 154.4L404.2 154.8L405.6 147.3L406.9 155.2L408.2 152.4L409.5 153.1L410.9 150.6L412.2 151.5L413.5 147.9L414.8 154.4L416.1 148.2L417.4 147.7L418.8 153.8L420 151.7L420.1 150.3L421.4 147.1L422.7 151.5L424.1 154L425.4 155.4L426.7 147.7L428 147.6L429 147L429.3 147.5L430.6 153.4L432 151.2L433.3 150.3L434.6 149.8L435.6 147.4L435.9 149.2L437.2 161.7L438 170L438.6 169L439.9 170.8L440.6 176L441.2 182.8L442.5 187.6L443 183.9L443.9 181.9L445 172L445.2 177.3L446.5 178.8L447.8 173L448 176.9L449.1 171.6L450.4 180.3L451 179.9L451.8 183.3L453.1 182.8L453.5 186.3L454.4 187.8L455.7 185.7L457.1 187.7L458.4 184.7L459.7 187L460 190.7L461 189.2L462.3 187.9L463.6 189.9L465 189L466.3 187.5L467.6 186.3L468 189.3L468.9 187.9L470.2 187.4L471.6 187L472.9 186.2L473.6 186.5L474.2 183.8L475 178.2L475.5 174.6L476.5 165L476.9 162.8L478.2 157.2L478.6 154L479.5 153.9L480.8 149L481 147.6L482.1 147.6L483.4 147.3L484 147L595.6 147L595.6 257" fill="none" stroke="#6ed0e0" stroke-width="2" stroke-linejoin="round"/>
<path d="M604.5 279.5L607.1 81L611.1 81L612.4 80.9L613.8 80.9L615.1 81L616.4 81L617.7 81.1L619 81L620.4 81.2L621.7 80.9L623 81.1L624.3 80.7L625.6 80.8L627 80.7L627 81.3L628.3 82.2L629.6 82.9L630 83.8L630.9 86.8L632.2 88.4L633.5 94L634 92L634.9 96.3L636.2 100.9L637 99.4L637.5 101.5L638.8 103.1L640.1 97.4L641.5 103.9L642.8 99L644.1 99.6L645 99.2L645.4 99.7L646.8 108.5L648.1 103.2L649.4 108.3L650.7 99.2L652 99.5L653.4 96.1L654.7 102.4L655 110.5L656 105.2L657.3 107.2L658.6 99.2L660 96.3L661.3 98.2L662.6 109.2L663.9 106.9L665 110L665.2 108.1L666.5 100.1L667.9 97.7L669.2 103.5L670.5 97.3L671.8 101.3L673.1 102.6L674.5 98.4L675 108.5L675.8 97.1L677.1 109.9L678.4 98.9L679.8 113.5L681 107.5L681.1 105.4L681.6 133.3L682.4 119.7L683 105.1L683.7 105L685 106.3L686.4 100.6L687.7 99.2L689 103L690 99.8L690.3 103.9L691.6 98.6L693 100.2L694.3 97.5L695 93.3L695.6 94.3L696.9 96.3L697 95.8L698.2 101.9L699.5 106.5L700.5 109.9L700.9 107L702.2 114.7L703.5 118.8L704 115.4L704.8 119.9L706.1 118.4L707 117.6L707.5 116.2L708.8 120.9L710.1 122.4L711.4 123.2L712 121.6L712.8 120.8L714.1 123.5L715.4 132.5L716.7 137.5L717 141.1L718 143.3L719.4 144.9L720.7 152.2L722 148.5L722 155.2L723.3 156.3L724.6 159.2L726 164L727 164.9L727.3 166.7L728.6 174L729.9 176.8L731 181.8L731.2 179.6L732.5 183.2L733.5 189.6L733.9 198.9L734.5 210.7L735.2 200.3L735.5 195.8L736.5 192.4L737 188.7L737.8 193.6L739.1 192.8L740.4 197.9L740.5 192L741.8 189.8L742 188.7L743.1 182.5L744.4 173.4L745.8 163.5L747 154.3L747.1 154.3L748.4 147.8L749.7 139.6L750 137.2L751 130.6L752.4 125.2L753.6 120L753.7 121.9L755 105.9L755.5 103.5L756.3 97.6L757 91.2L757.6 89.9L759 86.2L759 86L760.3 83.2L760.4 82.4L761.6 82L762.9 81.7L764.2 81.3L765 81.2L765.5 81.6L766.9 81.5L768.2 81.1L769.5 81.4L770.8 81.3L772.1 80.9L773.5 81L774.8 81L776.1 80.9L777.4 81.3L778.8 81.3L780.1 81.1L781.4 81.4L782.7 81.1L784 80.9L785.4 81.1L786.7 81.1L788 80.9L789.3 81L790.6 81.2L792 81.1L793.3 80.9L794.6 81.1L795.9 81.1L797.2 80.8L798.5 80.9L799.9 81.1L801.2 81.1L802.5 81L803.8 81.2L805.1 81L806.5 81.1L807.8 80.9L809.1 80.9L810.4 80.8L811.8 80.8L813.1 81.1L814.4 80.8L815.7 81L817 81L818.4 80.9L821 81.1L822.3 81.1L823.6 81L826.3 81L827.6 80.8L828.9 80.9L830.2 81.1L831.5 81.2L832.9 81.1L834.2 81.2L835.5 81.1L836.8 81.1L838.1 81.2L839.5 80.9L842.1 81.1L843.4 80.9L844.8 81L846.1 80.8L847.4 80.8L848.7 80.9L850 81.1L851.4 81.1L852.7 81L854 81.1L856.6 80.9L859.3 80.9L860.6 81.2L863.2 81L865.9 81L867.2 81.1L868.5 81L869.8 81L871.1 80.9L872.5 81.1L873.8 81.2L875.1 81.1L876.4 80.8L877 80.9L877 233L877 279.5 L604.5 279.5 Z" fill="#73d4e1" fill-opacity="0.106" stroke="none"/>
<path d="M604.5 279.5L607.1 81L611.1 81L612.4 80.9L613.8 80.9L615.1 81L616.4 81L617.7 81.1L619 81L620.4 81.2L621.7 80.9L623 81.1L624.3 80.7L625.6 80.8L627 80.7L627 81.3L628.3 82.2L629.6 82.9L630 83.8L630.9 86.8L632.2 88.4L633.5 94L634 92L634.9 96.3L636.2 100.9L637 99.4L637.5 101.5L638.8 103.1L640.1 97.4L641.5 103.9L642.8 99L644.1 99.6L645 99.2L645.4 99.7L646.8 108.5L648.1 103.2L649.4 108.3L650.7 99.2L652 99.5L653.4 96.1L654.7 102.4L655 110.5L656 105.2L657.3 107.2L658.6 99.2L660 96.3L661.3 98.2L662.6 109.2L663.9 106.9L665 110L665.2 108.1L666.5 100.1L667.9 97.7L669.2 103.5L670.5 97.3L671.8 101.3L673.1 102.6L674.5 98.4L675 108.5L675.8 97.1L677.1 109.9L678.4 98.9L679.8 113.5L681 107.5L681.1 105.4L681.6 133.3L682.4 119.7L683 105.1L683.7 105L685 106.3L686.4 100.6L687.7 99.2L689 103L690 99.8L690.3 103.9L691.6 98.6L693 100.2L694.3 97.5L695 93.3L695.6 94.3L696.9 96.3L697 95.8L698.2 101.9L699.5 106.5L700.5 109.9L700.9 107L702.2 114.7L703.5 118.8L704 115.4L704.8 119.9L706.1 118.4L707 117.6L707.5 116.2L708.8 120.9L710.1 122.4L711.4 123.2L712 121.6L712.8 120.8L714.1 123.5L715.4 132.5L716.7 137.5L717 141.1L718 143.3L719.4 144.9L720.7 152.2L722 148.5L722 155.2L723.3 156.3L724.6 159.2L726 164L727 164.9L727.3 166.7L728.6 174L729.9 176.8L731 181.8L731.2 179.6L732.5 183.2L733.5 189.6L733.9 198.9L734.5 210.7L735.2 200.3L735.5 195.8L736.5 192.4L737 188.7L737.8 193.6L739.1 192.8L740.4 197.9L740.5 192L741.8 189.8L742 188.7L743.1 182.5L744.4 173.4L745.8 163.5L747 154.3L747.1 154.3L748.4 147.8L749.7 139.6L750 137.2L751 130.6L752.4 125.2L753.6 120L753.7 121.9L755 105.9L755.5 103.5L756.3 97.6L757 91.2L757.6 89.9L759 86.2L759 86L760.3 83.2L760.4 82.4L761.6 82L762.9 81.7L764.2 81.3L765 81.2L765.5 81.6L766.9 81.5L768.2 81.1L769.5 81.4L770.8 81.3L772.1 80.9L773.5 81L774.8 81L776.1 80.9L777.4 81.3L778.8 81.3L780.1 81.1L781.4 81.4L782.7 81.1L784 80.9L785.4 81.1L786.7 81.1L788 80.9L789.3 81L790.6 81.2L792 81.1L793.3 80.9L794.6 81.1L795.9 81.1L797.2 80.8L798.5 80.9L799.9 81.1L801.2 81.1L802.5 81L803.8 81.2L805.1 81L806.5 81.1L807.8 80.9L809.1 80.9L810.4 80.8L811.8 80.8L813.1 81.1L814.4 80.8L815.7 81L817 81L818.4 80.9L821 81.1L822.3 81.1L823.6 81L826.3 81L827.6 80.8L828.9 80.9L830.2 81.1L831.5 81.2L832.9 81.1L834.2 81.2L835.5 81.1L836.8 81.1L838.1 81.2L839.5 80.9L842.1 81.1L843.4 80.9L844.8 81L846.1 80.8L847.4 80.8L848.7 80.9L850 81.1L851.4 81.1L852.7 81L854 81.1L856.6 80.9L859.3 80.9L860.6 81.2L863.2 81L865.9 81L867.2 81.1L868.5 81L869.8 81L871.1 80.9L872.5 81.1L873.8 81.2L875.1 81.1L876.4 80.8L877 80.9L877 233" fill="none" stroke="#6ed0e0" stroke-width="2" stroke-linejoin="round"/>
<path d="M40.6 279.5L44.4 213L313.9 213L313.9 271L313.9 279.5 L40.6 279.5 Z" fill="#f4883d" fill-opacity="0.106" stroke="none"/>
<path d="M40.6 279.5L44.4 213L313.9 213L313.9 271" fill="none" stroke="#ef843c" stroke-width="2" stroke-linejoin="round"/>
<path d="M322.2 279.5L325.2 147L371.4 147L374 147.2L375 148.6L375.4 147.5L376.7 147.4L378 148.7L379.3 147.6L380.6 148.4L382 147.6L383.3 148.6L384.6 147.6L385.9 147.4L387.2 147.4L388.6 147.6L389.9 147L391.2 148.8L392.5 147.8L393.8 147L395.2 147.3L396.5 147.1L397.8 147L399.1 147.8L400.4 148.9L401.8 148.9L403.1 149.3L404.4 148.7L405.7 149.3L407 147.4L408.4 147.3L409.7 147L411 147.1L412.3 148.1L413.6 147.1L415 148.7L416.3 147L417.6 149.4L420.2 147L421.6 149.7L422.9 148L424.2 147.9L425.5 148.5L426.8 147L428.2 148.1L429.5 147.8L430.8 147L432.1 147.3L433.4 147L434.8 147.7L436.1 148.4L437.4 149.6L438.7 150L440 149.3L440 147L441.4 149.1L442.7 147.8L444 147L445.3 148.6L446.6 147.4L448 148.8L449.3 149L450.6 147.2L451.9 147L453.2 147.8L454.6 147.1L455.9 147L457.2 149.7L458.5 149.1L459.8 149.2L461.2 147.1L462.5 147.9L463.8 147.2L465.1 147.1L466.4 148.7L467.8 148.8L469.1 147.6L470.4 147.8L471.7 148.1L473 147.4L474.4 149L475.7 147.4L477 149L478.3 147.1L479.6 147.2L481 147.7L482.3 149.4L483.6 148.7L484.9 147.7L486.2 147L487.6 147.2L488.9 147.5L490 147.1L490.2 148.7L491.5 149.2L492.8 147L494.2 147L495.5 148.1L496.8 147L498.1 148L499.4 147.3L500 147.9L500.8 147.1L502.1 147L503.4 147L507.4 147.3L508.7 147.1L510 147L511.3 147.4L512.6 147L514 147.2L515.3 147.3L516.6 147L517.9 147L519.2 147.1L520.6 147L521.9 147.1L523.2 147L595.6 147L595.6 260L595.6 279.5 L322.2 279.5 Z" fill="#f4883d" fill-opacity="0.106" stroke="none"/>
<path d="M322.2 279.5L325.2 147L371.4 147L374 147.2L375 148.6L375.4 147.5L376.7 147.4L378 148.7L379.3 147.6L380.6 148.4L382 147.6L383.3 148.6L384.6 147.6L385.9 147.4L387.2 147.4L388.6 147.6L389.9 147L391.2 148.8L392.5 147.8L393.8 147L395.2 147.3L396.5 147.1L397.8 147L399.1 147.8L400.4 148.9L401.8 148.9L403.1 149.3L404.4 148.7L405.7 149.3L407 147.4L408.4 147.3L409.7 147L411 147.1L412.3 148.1L413.6 147.1L415 148.7L416.3 147L417.6 149.4L420.2 147L421.6 149.7L422.9 148L424.2 147.9L425.5 148.5L426.8 147L428.2 148.1L429.5 147.8L430.8 147L432.1 147.3L433.4 147L434.8 147.7L436.1 148.4L437.4 149.6L438.7 150L440 149.3L440 147L441.4 149.1L442.7 147.8L444 147L445.3 148.6L446.6 147.4L448 148.8L449.3 149L450.6 147.2L451.9 147L453.2 147.8L454.6 147.1L455.9 147L457.2 149.7L458.5 149.1L459.8 149.2L461.2 147.1L462.5 147.9L463.8 147.2L465.1 147.1L466.4 148.7L467.8 148.8L469.1 147.6L470.4 147.8L471.7 148.1L473 147.4L474.4 149L475.7 147.4L477 149L478.3 147.1L479.6 147.2L481 147.7L482.3 149.4L483.6 148.7L484.9 147.7L486.2 147L487.6 147.2L488.9 147.5L490 147.1L490.2 148.7L491.5 149.2L492.8 147L494.2 147L495.5 148.1L496.8 147L498.1 148L499.4 147.3L500 147.9L500.8 147.1L502.1 147L503.4 147L507.4 147.3L508.7 147.1L510 147L511.3 147.4L512.6 147L514 147.2L515.3 147.3L516.6 147L517.9 147L519.2 147.1L520.6 147L521.9 147.1L523.2 147L595.6 147L595.6 260" fill="none" stroke="#ef843c" stroke-width="2" stroke-linejoin="round"/>
<path d="M604.6 279.5L607.3 81L616.4 81L616.5 80.6L617.6 77.3L617.9 78.1L618.8 81L631.1 81L632.4 81.1L633.7 81L635 81L636.3 81.1L637.7 81L640.3 81L641.6 81.1L642.9 81L645.6 81L646.9 81.2L648.2 81.2L649.5 81L650.9 81.2L652.2 81.1L656.1 81.1L657.5 81L658.8 81.2L661.4 81L662.7 81L664.1 81.2L665.4 81L666.7 81.1L668 81L669.3 81.2L670.7 81.2L672 81.4L673.3 81.3L674.6 81.1L675.9 81L677.3 81.2L679.9 81.4L681.2 81.4L682.5 81L685.2 81.2L686.5 81.1L687.8 81.4L689.1 81L690.5 81.3L691.8 81.3L693.1 81.1L694.4 81L695.7 81.5L697.1 81.3L698.4 81L699.7 81.1L700 81.1L701 81.5L702.3 81.2L703.7 81L705 81.5L706.3 81.1L707.6 82.1L708.9 82.2L710.3 81.7L711.6 81.6L712.9 81L714 82.4L714.2 81.2L715.5 83.2L716.9 82.5L718 83.6L718.2 83.2L719.5 83.7L720.8 83L722 83.7L722.1 83.1L723.5 82.5L724.8 82.7L725 82.1L726.1 85.5L727.4 82L728 82L728.7 84.9L730.1 84.6L731.4 86.2L732.7 87.5L733 90.2L734 88.7L735.3 105.2L735.5 93.5L736.7 117.2L737 109.8L738 110L739 114.2L739.3 124.8L740.6 116.4L741 119.2L741.9 119.8L743.3 109.2L744.6 112.7L745 100L745.9 115.2L747.2 112.5L748.5 118L748.6 124.7L749.9 126.3L751.2 130.6L752 129.1L752.5 129.5L753.8 138.3L755.1 122.7L756 119.6L756.5 131L757.8 120.5L759.1 121.6L760 121.6L760.4 115.4L761.7 122L763.1 137.6L764 136.8L764.4 114.4L765.7 138.2L767 140.2L768 139.8L768.3 120.8L769.7 121.6L771 118.1L771 129.9L772.3 125.9L773.6 114.8L773.7 122.5L774.9 115.4L776.3 109.4L777 103.7L777.6 104.9L778.9 98.2L780.2 94.9L780.5 94.9L781.5 87.5L782.9 84.1L783 84.6L784.2 85.8L785.5 82.8L786.8 82L788 81.5L789.5 81.4L790.8 81.6L792.1 81.2L793.4 81.3L794.7 80.9L795 81.1L796.1 81L797.4 81L798.7 80.8L800 81.1L801.3 80.9L802.7 81.1L804 81L805.3 80.8L806.6 81.2L807.9 81.1L809.3 80.9L810.6 80.8L811.9 81.2L813.2 81L815.9 81L817.2 80.8L818.5 80.8L819.8 80.9L821.1 80.8L822.5 80.9L823.8 80.9L825.1 81.1L826.4 80.8L827.7 81L829.1 80.9L830.4 81L833 80.8L834.3 81.1L835.7 80.8L837 81.1L838.3 80.9L839.6 80.8L840.9 81L843.6 81.2L844.9 80.9L846.2 80.8L847.5 81.2L848.9 80.9L850.2 81L851.5 81L852.8 81.2L854.1 81.1L855.5 81.1L856.8 80.9L858.1 81.1L859.4 81L860.7 81.1L862.1 81.1L863.4 80.9L864.7 80.9L866 81L867.3 80.9L870 80.9L871.3 81L872.6 81.2L873.9 81.2L875.3 81.1L876.6 81.1L877 81.2L877 236L877 279.5 L604.6 279.5 Z" fill="#f4883d" fill-opacity="0.106" stroke="none"/>
<path d="M604.6 279.5L607.3 81L616.4 81L616.5 80.6L617.6 77.3L617.9 78.1L618.8 81L631.1 81L632.4 81.1L633.7 81L635 81L636.3 81.1L637.7 81L640.3 81L641.6 81.1L642.9 81L645.6 81L646.9 81.2L648.2 81.2L649.5 81L650.9 81.2L652.2 81.1L656.1 81.1L657.5 81L658.8 81.2L661.4 81L662.7 81L664.1 81.2L665.4 81L666.7 81.1L668 81L669.3 81.2L670.7 81.2L672 81.4L673.3 81.3L674.6 81.1L675.9 81L677.3 81.2L679.9 81.4L681.2 81.4L682.5 81L685.2 81.2L686.5 81.1L687.8 81.4L689.1 81L690.5 81.3L691.8 81.3L693.1 81.1L694.4 81L695.7 81.5L697.1 81.3L698.4 81L699.7 81.1L700 81.1L701 81.5L702.3 81.2L703.7 81L705 81.5L706.3 81.1L707.6 82.1L708.9 82.2L710.3 81.7L711.6 81.6L712.9 81L714 82.4L714.2 81.2L715.5 83.2L716.9 82.5L718 83.6L718.2 83.2L719.5 83.7L720.8 83L722 83.7L722.1 83.1L723.5 82.5L724.8 82.7L725 82.1L726.1 85.5L727.4 82L728 82L728.7 84.9L730.1 84.6L731.4 86.2L732.7 87.5L733 90.2L734 88.7L735.3 105.2L735.5 93.5L736.7 117.2L737 109.8L738 110L739 114.2L739.3 124.8L740.6 116.4L741 119.2L741.9 119.8L743.3 109.2L744.6 112.7L745 100L745.9 115.2L747.2 112.5L748.5 118L748.6 124.7L749.9 126.3L751.2 130.6L752 129.1L752.5 129.5L753.8 138.3L755.1 122.7L756 119.6L756.5 131L757.8 120.5L759.1 121.6L760 121.6L760.4 115.4L761.7 122L763.1 137.6L764 136.8L764.4 114.4L765.7 138.2L767 140.2L768 139.8L768.3 120.8L769.7 121.6L771 118.1L771 129.9L772.3 125.9L773.6 114.8L773.7 122.5L774.9 115.4L776.3 109.4L777 103.7L777.6 104.9L778.9 98.2L780.2 94.9L780.5 94.9L781.5 87.5L782.9 84.1L783 84.6L784.2 85.8L785.5 82.8L786.8 82L788 81.5L789.5 81.4L790.8 81.6L792.1 81.2L793.4 81.3L794.7 80.9L795 81.1L796.1 81L797.4 81L798.7 80.8L800 81.1L801.3 80.9L802.7 81.1L804 81L805.3 80.8L806.6 81.2L807.9 81.1L809.3 80.9L810.6 80.8L811.9 81.2L813.2 81L815.9 81L817.2 80.8L818.5 80.8L819.8 80.9L821.1 80.8L822.5 80.9L823.8 80.9L825.1 81.1L826.4 80.8L827.7 81L829.1 80.9L830.4 81L833 80.8L834.3 81.1L835.7 80.8L837 81.1L838.3 80.9L839.6 80.8L840.9 81L843.6 81.2L844.9 80.9L846.2 80.8L847.5 81.2L848.9 80.9L850.2 81L851.5 81L852.8 81.2L854.1 81.1L855.5 81.1L856.8 80.9L858.1 81.1L859.4 81L860.7 81.1L862.1 81.1L863.4 80.9L864.7 80.9L866 81L867.3 80.9L870 80.9L871.3 81L872.6 81.2L873.9 81.2L875.3 81.1L876.6 81.1L877 81.2L877 236" fill="none" stroke="#ef843c" stroke-width="2" stroke-linejoin="round"/>
<path d="M40.5 279.5L44.3 213L156.4 213L156.5 213.1L157.8 214.8L158 215L159.1 213.6L159.6 213L163.4 213L164.4 214.6L165 215.5L165.7 214.3L166.6 213L171.9 213L172.3 213.7L173.5 215.5L175 213.2L175.1 213L175.4 213L176.3 214.1L177 215L177.6 214.2L178.6 213L313.9 213L313.9 275.5L313.9 279.5 L40.5 279.5 Z" fill="#e75143" fill-opacity="0.106" stroke="none"/>
<path d="M40.5 279.5L44.3 213L156.4 213L156.5 213.1L157.8 214.8L158 215L159.1 213.6L159.6 213L163.4 213L164.4 214.6L165 215.5L165.7 214.3L166.6 213L171.9 213L172.3 213.7L173.5 215.5L175 213.2L175.1 213L175.4 213L176.3 214.1L177 215L177.6 214.2L178.6 213L313.9 213L313.9 275.5" fill="none" stroke="#e24d42" stroke-width="2" stroke-linejoin="round"/>
<path d="M322.1 279.5L325.1 147L372 147L372.6 147.4L373.9 147L375 150.5L375.3 149.2L376.6 148.5L377.9 149.7L379.2 149.9L380.5 147.6L381.9 147L383.2 154.4L384.5 154L385 147.3L385.8 149.8L387.1 147.5L388.5 147.2L389.8 148.3L391.1 151.4L392.4 149.3L393.7 149.7L395.1 152.9L396.4 153.1L397.7 147L399 147.1L400 148.1L400.3 153.1L401.7 148.4L403 147.3L404.3 147L405.6 148L406.9 148.6L408.3 147.1L409.6 154.3L410.9 147.5L412.2 152.2L413.5 155.6L414.9 148.7L416.2 147.2L417.5 147L418.8 147.4L420 150L420.1 149.3L421.5 150.4L422.8 147.4L424.1 149.1L425.4 150.6L426.7 148.9L428.1 147.1L429.4 150.4L430.7 147.5L432 151.9L433.3 151.6L434 147L434.7 154.4L436 148.3L437.3 149.4L438.6 147.8L439.9 151.8L441 151.7L441.3 151L442.6 159.9L443 169.2L443.9 176.2L444.5 186.8L445.2 179.3L446 171.2L446.5 164.3L447.3 160.1L447.9 166.7L449 174.8L449.2 175.6L450.5 178.9L451.8 187.1L452 194.6L453.1 195.8L454 204.8L454.5 199.8L455.8 206.1L457.1 190.9L458.4 204.1L459.7 194.2L460 201.2L461.1 199.3L462.4 199.7L463.7 196L465 201.5L466.3 204L467.7 194.7L469 200.1L470 197.3L470.3 199.5L471.6 197.2L472.9 199.9L474.3 192.3L475.6 195.4L476.9 202.2L477.8 194.5L478.2 198.1L479.5 190L480 187.9L480.9 180.9L482.2 175.2L482.8 168L483.5 165.7L484.8 158.9L485 159.5L486.1 153.5L487 151.8L487.5 151.4L488.8 148.5L490 147L490.1 147.6L491.4 148L492.7 147.1L493 147L595.6 147L595.6 268L595.6 279.5 L322.1 279.5 Z" fill="#e75143" fill-opacity="0.106" stroke="none"/>
<path d="M322.1 279.5L325.1 147L372 147L372.6 147.4L373.9 147L375 150.5L375.3 149.2L376.6 148.5L377.9 149.7L379.2 149.9L380.5 147.6L381.9 147L383.2 154.4L384.5 154L385 147.3L385.8 149.8L387.1 147.5L388.5 147.2L389.8 148.3L391.1 151.4L392.4 149.3L393.7 149.7L395.1 152.9L396.4 153.1L397.7 147L399 147.1L400 148.1L400.3 153.1L401.7 148.4L403 147.3L404.3 147L405.6 148L406.9 148.6L408.3 147.1L409.6 154.3L410.9 147.5L412.2 152.2L413.5 155.6L414.9 148.7L416.2 147.2L417.5 147L418.8 147.4L420 150L420.1 149.3L421.5 150.4L422.8 147.4L424.1 149.1L425.4 150.6L426.7 148.9L428.1 147.1L429.4 150.4L430.7 147.5L432 151.9L433.3 151.6L434 147L434.7 154.4L436 148.3L437.3 149.4L438.6 147.8L439.9 151.8L441 151.7L441.3 151L442.6 159.9L443 169.2L443.9 176.2L444.5 186.8L445.2 179.3L446 171.2L446.5 164.3L447.3 160.1L447.9 166.7L449 174.8L449.2 175.6L450.5 178.9L451.8 187.1L452 194.6L453.1 195.8L454 204.8L454.5 199.8L455.8 206.1L457.1 190.9L458.4 204.1L459.7 194.2L460 201.2L461.1 199.3L462.4 199.7L463.7 196L465 201.5L466.3 204L467.7 194.7L469 200.1L470 197.3L470.3 199.5L471.6 197.2L472.9 199.9L474.3 192.3L475.6 195.4L476.9 202.2L477.8 194.5L478.2 198.1L479.5 190L480 187.9L480.9 180.9L482.2 175.2L482.8 168L483.5 165.7L484.8 158.9L485 159.5L486.1 153.5L487 151.8L487.5 151.4L488.8 148.5L490 147L490.1 147.6L491.4 148L492.7 147.1L493 147L595.6 147L595.6 268" fill="none" stroke="#e24d42" stroke-width="2" stroke-linejoin="round"/>
<path d="M604.5 279.5L607.2 81L616.4 81L617.8 80.9L619.1 81.1L620.4 80.9L621.7 80.9L623 81.1L624.4 80.9L626 80.9L627 81.6L628.3 82.9L628.5 84L629.6 88.4L631 91L632 96.1L632.3 95.9L633.6 98.2L634.9 102.9L635 103.6L636.2 105.5L637.6 111.3L638.9 112.2L640.2 108.2L641.5 112.7L642 111.3L642.8 111.3L644.2 117.4L645.5 112.4L646.8 118.1L648.1 121.1L649.4 114.9L650 116.7L650.8 121L652.1 115.1L653.4 116.8L654.7 115.7L656 120.9L656 121L657.4 119.7L658.7 114.5L660 111.5L661.3 117.5L662.6 112.3L664 111.1L665.3 109.5L666.6 115.2L667.9 112.5L669.2 109.5L670 107.5L670.6 111.1L671.9 108.3L673.2 107.7L674.5 111.9L675.5 113.4L675.8 119.1L676.5 131.8L677.2 118.8L677.8 108.9L678.5 107.4L679.8 108.7L680 109.4L681.1 105.1L682.4 106.6L683.8 101.6L685.1 100.7L686.4 101L687 99.5L687.7 100.9L689 102.1L690.4 103.8L690.5 107.9L691.7 110L693 113L694.3 110.2L695 116.1L695.6 114.6L697 121.3L698.3 122.1L699.6 125L700.5 126L700.9 122.3L702.2 127.9L703.6 131.1L704.9 135.7L705.5 141.8L706.2 141.4L707.5 142.5L708.8 151.4L710.2 151.5L710.5 150.4L711.5 154.2L712.8 156.6L714.1 160.6L715 163.3L715.4 166.1L716.8 169L718.1 172.2L718.6 172.3L719.4 174.7L720.7 174.8L722 175.7L722 174.1L723.4 183.1L724.5 184.4L724.7 184.1L726 174.6L727.3 178.6L728.6 181.8L729 181.1L730 179.9L731.3 183.4L732 182.1L732.6 184.8L733.9 183.7L735.2 190.1L736.6 193.5L737 189.5L737.9 192L739.2 189.1L740.5 189.4L741 192.2L741.8 189.1L743.2 189.7L743.8 189.7L744.5 189.6L745.8 186.8L747 181.2L747.1 178.4L748.4 178.3L749.8 176.2L751 176.8L751.1 175.9L752.4 174.4L753.7 174L753.8 173.5L755 168.4L756 169.7L756.4 165.1L757.5 156.2L757.7 156L759 148.4L760.3 139.7L760.4 137L761.6 132.2L763 125.2L763 124.1L764.3 116.9L765.4 110.1L765.6 108.5L766.9 108.8L768 104.2L768.2 107.7L769.6 102.9L770.4 102L770.9 99.9L772.2 101L773.5 100.2L774 101.4L774.8 102.2L776.2 97.1L777 99.8L777.5 96L778.8 94.9L780 94.6L780.1 92.4L781.4 88.8L782 87.7L783.8 84.1L784.1 84L785.4 82.8L786 82.2L786.7 81.4L788 81.2L790 80.9L790.7 81L792 81L793.3 81.2L796 81.2L797.3 81L798.6 80.9L799.9 81.1L801.2 80.8L802.6 81.2L803.9 81.1L805.2 80.9L806.5 81.1L809.2 81.1L810.5 81.2L811.8 81L814.4 80.8L815.8 81.2L817.1 81L818.4 81.2L821 81.2L822.4 81L823.7 81.2L825 81L827.6 81L829 81.1L830.3 80.9L831.6 80.8L834.2 81.2L835.6 81.2L836.9 81.1L838.2 80.8L839.5 81L842.2 80.8L843.5 81L844.8 80.9L846.1 80.9L847.4 80.8L848.8 81L850.1 80.9L851.4 81L854 80.8L855.4 81L858 81.2L859.3 81.1L860.6 80.8L862 81.1L864.6 81.1L865.9 80.9L867.2 81.1L868.6 81L869.9 81L871.2 80.8L872.5 81.1L873.8 80.9L875.2 80.9L876.5 81.1L877 81.2L877 245L877 279.5 L604.5 279.5 Z" fill="#e75143" fill-opacity="0.106" stroke="none"/>
<path d="M604.5 279.5L607.2 81L616.4 81L617.8 80.9L619.1 81.1L620.4 80.9L621.7 80.9L623 81.1L624.4 80.9L626 80.9L627 81.6L628.3 82.9L628.5 84L629.6 88.4L631 91L632 96.1L632.3 95.9L633.6 98.2L634.9 102.9L635 103.6L636.2 105.5L637.6 111.3L638.9 112.2L640.2 108.2L641.5 112.7L642 111.3L642.8 111.3L644.2 117.4L645.5 112.4L646.8 118.1L648.1 121.1L649.4 114.9L650 116.7L650.8 121L652.1 115.1L653.4 116.8L654.7 115.7L656 120.9L656 121L657.4 119.7L658.7 114.5L660 111.5L661.3 117.5L662.6 112.3L664 111.1L665.3 109.5L666.6 115.2L667.9 112.5L669.2 109.5L670 107.5L670.6 111.1L671.9 108.3L673.2 107.7L674.5 111.9L675.5 113.4L675.8 119.1L676.5 131.8L677.2 118.8L677.8 108.9L678.5 107.4L679.8 108.7L680 109.4L681.1 105.1L682.4 106.6L683.8 101.6L685.1 100.7L686.4 101L687 99.5L687.7 100.9L689 102.1L690.4 103.8L690.5 107.9L691.7 110L693 113L694.3 110.2L695 116.1L695.6 114.6L697 121.3L698.3 122.1L699.6 125L700.5 126L700.9 122.3L702.2 127.9L703.6 131.1L704.9 135.7L705.5 141.8L706.2 141.4L707.5 142.5L708.8 151.4L710.2 151.5L710.5 150.4L711.5 154.2L712.8 156.6L714.1 160.6L715 163.3L715.4 166.1L716.8 169L718.1 172.2L718.6 172.3L719.4 174.7L720.7 174.8L722 175.7L722 174.1L723.4 183.1L724.5 184.4L724.7 184.1L726 174.6L727.3 178.6L728.6 181.8L729 181.1L730 179.9L731.3 183.4L732 182.1L732.6 184.8L733.9 183.7L735.2 190.1L736.6 193.5L737 189.5L737.9 192L739.2 189.1L740.5 189.4L741 192.2L741.8 189.1L743.2 189.7L743.8 189.7L744.5 189.6L745.8 186.8L747 181.2L747.1 178.4L748.4 178.3L749.8 176.2L751 176.8L751.1 175.9L752.4 174.4L753.7 174L753.8 173.5L755 168.4L756 169.7L756.4 165.1L757.5 156.2L757.7 156L759 148.4L760.3 139.7L760.4 137L761.6 132.2L763 125.2L763 124.1L764.3 116.9L765.4 110.1L765.6 108.5L766.9 108.8L768 104.2L768.2 107.7L769.6 102.9L770.4 102L770.9 99.9L772.2 101L773.5 100.2L774 101.4L774.8 102.2L776.2 97.1L777 99.8L777.5 96L778.8 94.9L780 94.6L780.1 92.4L781.4 88.8L782 87.7L783.8 84.1L784.1 84L785.4 82.8L786 82.2L786.7 81.4L788 81.2L790 80.9L790.7 81L792 81L793.3 81.2L796 81.2L797.3 81L798.6 80.9L799.9 81.1L801.2 80.8L802.6 81.2L803.9 81.1L805.2 80.9L806.5 81.1L809.2 81.1L810.5 81.2L811.8 81L814.4 80.8L815.8 81.2L817.1 81L818.4 81.2L821 81.2L822.4 81L823.7 81.2L825 81L827.6 81L829 81.1L830.3 80.9L831.6 80.8L834.2 81.2L835.6 81.2L836.9 81.1L838.2 80.8L839.5 81L842.2 80.8L843.5 81L844.8 80.9L846.1 80.9L847.4 80.8L848.8 81L850.1 80.9L851.4 81L854 80.8L855.4 81L858 81.2L859.3 81.1L860.6 80.8L862 81.1L864.6 81.1L865.9 80.9L867.2 81.1L868.6 81L869.9 81L871.2 80.8L872.5 81.1L873.8 80.9L875.2 80.9L876.5 81.1L877 81.2L877 245" fill="none" stroke="#e24d42" stroke-width="2" stroke-linejoin="round"/>
<path d="M40 279.5L43.8 213L161.9 213L162.6 214.5L163.5 216.5L164.9 213.4L165.1 213L165.2 213.5L166.5 215.5L166.6 215.4L167.9 213.3L168.1 213L313.9 213L313.9 272.5L313.9 279.5 L40 279.5 Z" fill="#247cc2" fill-opacity="0.106" stroke="none"/>
<path d="M40 279.5L43.8 213L161.9 213L162.6 214.5L163.5 216.5L164.9 213.4L165.1 213L165.2 213.5L166.5 215.5L166.6 215.4L167.9 213.3L168.1 213L313.9 213L313.9 272.5" fill="none" stroke="#1f78c1" stroke-width="2" stroke-linejoin="round"/>
<path d="M321.6 279.5L324.6 147L356 147L357.6 151.2L358 152L358.9 153.5L360 157.2L360.2 154.9L361.6 151L362.9 148.2L363 148.4L364.2 148.3L365.5 147.4L366 147L370.8 147L372.1 147.1L373.4 147L374.8 147L376.1 147.2L377.4 147L378.7 147L380 147.1L381.4 147L382.7 147.2L384 147L385.3 147.1L386.6 147.1L388 147L389.3 147.3L390.6 147L393.2 147.2L395.9 147L397.2 147L398.5 147.5L399.8 147L401.2 147.1L402.5 147.1L403.8 147L405.1 147L406.4 147.1L407.8 147L409.1 147.4L410.4 147.4L411.7 147.5L413 147.3L414.4 147.4L415.7 147.9L417 147.4L418.3 147.4L419.6 148.1L421 147.1L422.3 147.2L423.6 147.4L426.2 147L430.2 147L431.5 147.4L432.8 147.3L434.2 147.7L435.5 147.5L436.8 147.5L438.1 147.1L439.4 147.3L440 147L440.8 147.1L442.1 148.2L443.4 147.1L444.7 147.1L446 147.5L447.4 147.2L448.7 147.3L450 148.6L451.3 149.4L452.6 147.4L454 148.1L455.3 148.6L456.6 149.8L457 147.9L457.9 148.3L459.2 150.7L460 147.7L460.6 153.3L461.9 154.4L463 157L463.2 153.5L464.5 152.6L465.8 157.2L467 153.6L467.2 163.5L468.5 159.6L469.8 164.6L471 166L471.1 154.7L472.4 159.4L473.8 151.6L475.1 151.4L476.4 150.9L477.7 172.3L478 163.6L479 160.6L480.4 167.6L481.7 157.1L483 153L484.3 151.6L485.6 152.9L486 156.6L487 155.2L488.3 158.3L489.6 155.3L490 164.2L490.9 157.3L492.2 157.6L493 153.1L493.6 151.8L494.9 151.6L495.5 147.3L496.2 148.7L497.5 147.6L498 147.8L498.8 147.8L500.2 147.1L505.4 147.1L506.8 147L508.1 147L509.4 147.2L510.7 147.1L512 147.2L513.4 147L514.7 147.2L516 147L517.3 147.1L518.6 147L520 147.1L521.3 147.4L522.6 147L526.6 147L527.9 147.1L529.2 147.1L530.5 147L531.8 147.1L533.2 147L534.5 147L535.8 147.1L537.1 147L595.6 147L595.6 261L595.6 279.5 L321.6 279.5 Z" fill="#247cc2" fill-opacity="0.106" stroke="none"/>
<path d="M321.6 279.5L324.6 147L356 147L357.6 151.2L358 152L358.9 153.5L360 157.2L360.2 154.9L361.6 151L362.9 148.2L363 148.4L364.2 148.3L365.5 147.4L366 147L370.8 147L372.1 147.1L373.4 147L374.8 147L376.1 147.2L377.4 147L378.7 147L380 147.1L381.4 147L382.7 147.2L384 147L385.3 147.1L386.6 147.1L388 147L389.3 147.3L390.6 147L393.2 147.2L395.9 147L397.2 147L398.5 147.5L399.8 147L401.2 147.1L402.5 147.1L403.8 147L405.1 147L406.4 147.1L407.8 147L409.1 147.4L410.4 147.4L411.7 147.5L413 147.3L414.4 147.4L415.7 147.9L417 147.4L418.3 147.4L419.6 148.1L421 147.1L422.3 147.2L423.6 147.4L426.2 147L430.2 147L431.5 147.4L432.8 147.3L434.2 147.7L435.5 147.5L436.8 147.5L438.1 147.1L439.4 147.3L440 147L440.8 147.1L442.1 148.2L443.4 147.1L444.7 147.1L446 147.5L447.4 147.2L448.7 147.3L450 148.6L451.3 149.4L452.6 147.4L454 148.1L455.3 148.6L456.6 149.8L457 147.9L457.9 148.3L459.2 150.7L460 147.7L460.6 153.3L461.9 154.4L463 157L463.2 153.5L464.5 152.6L465.8 157.2L467 153.6L467.2 163.5L468.5 159.6L469.8 164.6L471 166L471.1 154.7L472.4 159.4L473.8 151.6L475.1 151.4L476.4 150.9L477.7 172.3L478 163.6L479 160.6L480.4 167.6L481.7 157.1L483 153L484.3 151.6L485.6 152.9L486 156.6L487 155.2L488.3 158.3L489.6 155.3L490 164.2L490.9 157.3L492.2 157.6L493 153.1L493.6 151.8L494.9 151.6L495.5 147.3L496.2 148.7L497.5 147.6L498 147.8L498.8 147.8L500.2 147.1L505.4 147.1L506.8 147L508.1 147L509.4 147.2L510.7 147.1L512 147.2L513.4 147L514.7 147.2L516 147L517.3 147.1L518.6 147L520 147.1L521.3 147.4L522.6 147L526.6 147L527.9 147.1L529.2 147.1L530.5 147L531.8 147.1L533.2 147L534.5 147L535.8 147.1L537.1 147L595.6 147L595.6 261" fill="none" stroke="#1f78c1" stroke-width="2" stroke-linejoin="round"/>
<path d="M604 279.5L606.7 81L619.9 81L621 78.2L621.2 78.8L622.1 81L625.2 81L626.5 81.2L627.8 81.1L629.1 81.2L630.5 81.2L631.8 81L632 81.3L633.1 81.2L634.4 86.3L635 85.5L635.7 82.8L637.1 81L638.4 81.2L639.7 81.8L641 82.3L642.3 90.1L643.7 82.7L645 86.8L645 81L646.3 81L647.6 89.2L648.9 81.9L650.3 81.2L651.6 84.4L652.9 84.3L654.2 87.7L655 90.7L655.5 90.6L656.9 85.7L658.2 81.1L659.5 87.2L660.8 83.2L662.1 91.8L663.5 82.2L664.8 81.3L665 82.7L666.1 86.1L667.4 81L668.7 87.7L670.1 82.6L671.4 81.1L672.7 92.9L674 88.8L675 82.5L675.3 89.9L676.7 92.8L678 81.6L679.3 87.1L680.6 83.9L681 82.4L681.9 96.8L682 108.5L683.3 85L683.5 89.3L684.6 89.7L685.9 83.9L687.2 82.4L688.5 83.2L689.9 86L690 82.7L691.2 90.9L692.5 86.4L693.8 90.7L695.1 88.2L696.5 82.6L697.8 84.3L699.1 89.3L700 85.3L700.4 83.2L701.7 83.6L703.1 85L704.4 84.5L705.7 85.7L706 85.9L707 86.8L708.3 92.4L709.7 94L710 96.1L711 90.5L712.3 91.2L713.6 93.5L714.9 102L715 98.1L716.3 95.4L717.6 105.4L718.9 104.9L719 108.2L720.2 95.4L721.5 104.8L722.9 118.3L723.5 112.5L724.2 126.2L725.5 123.8L726 114.9L726.8 131.8L728.1 125L728.5 128.9L729.5 149.1L730.8 153.6L731 141.2L732.1 141.9L733.4 159.6L733.5 150.3L734.7 157.6L736 169.6L736.1 169.3L737.4 175.2L738.5 183.5L738.7 178.5L740 186.6L740.4 183.5L741.3 192.1L742.7 197.6L743 199.3L744 196L745.3 203.8L746.3 205L746.6 205.1L747.9 200.2L749 199.3L749.3 194.2L750.6 198.8L751.9 189.8L752 192.4L753.2 189.2L754.5 194.3L755 191.1L755.9 188.5L757 188.5L757.2 189.7L758.5 181.6L759.8 180.3L760.5 179.5L761.1 181.6L762.5 177.6L763.8 180.6L764 179.8L765.1 175.7L766 169.6L766.4 164.7L767.2 162.8L767.7 157.4L769.1 152.2L769.7 147.2L770.4 147.7L771.7 138L772 134.3L773 127.9L774.3 121.6L774.5 120.5L775.7 118.3L777 110.7L777 108.9L778.3 104L779.6 102.2L780 98.8L780.9 99.2L782.3 94.7L783.6 90.3L783.8 87.5L784.9 87.5L786.2 82.6L786.3 82.9L787.5 82.4L788.9 81.4L789 80.9L790.2 81.3L791.5 80.7L792.8 80.7L794.1 81.1L795.5 81.1L796.8 81.3L798.1 80.8L800.7 80.8L802.1 80.9L803.4 80.7L804.7 80.9L806 81.2L807.3 81.3L808.7 80.9L810 80.9L811.3 80.8L812.6 81L813.9 81.1L815.3 81.1L816.6 80.8L817.9 80.8L820.5 81L821.9 81.2L823.2 80.9L824.5 81.2L825.8 80.9L827.1 81.2L828.5 81.2L829.8 80.9L832.4 81.3L835.1 81.1L836.4 81.2L837.7 81L839 81L840.3 81.2L841.7 80.9L843 80.9L844.3 81.2L845.6 80.9L848.3 81.1L849.6 80.9L850.9 80.8L852.2 81.1L854.9 81.1L856.2 80.9L857.5 81.1L858.8 81L860.1 81.2L862.8 81.2L864.1 80.9L865.4 80.8L866.7 81L868.1 81.1L869.4 81L870.7 81.1L872 81.1L873.3 80.9L874.7 80.8L876 81.1L877 80.9L877 240L877 279.5 L604 279.5 Z" fill="#247cc2" fill-opacity="0.106" stroke="none"/>
<path d="M604 279.5L606.7 81L619.9 81L621 78.2L621.2 78.8L622.1 81L625.2 81L626.5 81.2L627.8 81.1L629.1 81.2L630.5 81.2L631.8 81L632 81.3L633.1 81.2L634.4 86.3L635 85.5L635.7 82.8L637.1 81L638.4 81.2L639.7 81.8L641 82.3L642.3 90.1L643.7 82.7L645 86.8L645 81L646.3 81L647.6 89.2L648.9 81.9L650.3 81.2L651.6 84.4L652.9 84.3L654.2 87.7L655 90.7L655.5 90.6L656.9 85.7L658.2 81.1L659.5 87.2L660.8 83.2L662.1 91.8L663.5 82.2L664.8 81.3L665 82.7L666.1 86.1L667.4 81L668.7 87.7L670.1 82.6L671.4 81.1L672.7 92.9L674 88.8L675 82.5L675.3 89.9L676.7 92.8L678 81.6L679.3 87.1L680.6 83.9L681 82.4L681.9 96.8L682 108.5L683.3 85L683.5 89.3L684.6 89.7L685.9 83.9L687.2 82.4L688.5 83.2L689.9 86L690 82.7L691.2 90.9L692.5 86.4L693.8 90.7L695.1 88.2L696.5 82.6L697.8 84.3L699.1 89.3L700 85.3L700.4 83.2L701.7 83.6L703.1 85L704.4 84.5L705.7 85.7L706 85.9L707 86.8L708.3 92.4L709.7 94L710 96.1L711 90.5L712.3 91.2L713.6 93.5L714.9 102L715 98.1L716.3 95.4L717.6 105.4L718.9 104.9L719 108.2L720.2 95.4L721.5 104.8L722.9 118.3L723.5 112.5L724.2 126.2L725.5 123.8L726 114.9L726.8 131.8L728.1 125L728.5 128.9L729.5 149.1L730.8 153.6L731 141.2L732.1 141.9L733.4 159.6L733.5 150.3L734.7 157.6L736 169.6L736.1 169.3L737.4 175.2L738.5 183.5L738.7 178.5L740 186.6L740.4 183.5L741.3 192.1L742.7 197.6L743 199.3L744 196L745.3 203.8L746.3 205L746.6 205.1L747.9 200.2L749 199.3L749.3 194.2L750.6 198.8L751.9 189.8L752 192.4L753.2 189.2L754.5 194.3L755 191.1L755.9 188.5L757 188.5L757.2 189.7L758.5 181.6L759.8 180.3L760.5 179.5L761.1 181.6L762.5 177.6L763.8 180.6L764 179.8L765.1 175.7L766 169.6L766.4 164.7L767.2 162.8L767.7 157.4L769.1 152.2L769.7 147.2L770.4 147.7L771.7 138L772 134.3L773 127.9L774.3 121.6L774.5 120.5L775.7 118.3L777 110.7L777 108.9L778.3 104L779.6 102.2L780 98.8L780.9 99.2L782.3 94.7L783.6 90.3L783.8 87.5L784.9 87.5L786.2 82.6L786.3 82.9L787.5 82.4L788.9 81.4L789 80.9L790.2 81.3L791.5 80.7L792.8 80.7L794.1 81.1L795.5 81.1L796.8 81.3L798.1 80.8L800.7 80.8L802.1 80.9L803.4 80.7L804.7 80.9L806 81.2L807.3 81.3L808.7 80.9L810 80.9L811.3 80.8L812.6 81L813.9 81.1L815.3 81.1L816.6 80.8L817.9 80.8L820.5 81L821.9 81.2L823.2 80.9L824.5 81.2L825.8 80.9L827.1 81.2L828.5 81.2L829.8 80.9L832.4 81.3L835.1 81.1L836.4 81.2L837.7 81L839 81L840.3 81.2L841.7 80.9L843 80.9L844.3 81.2L845.6 80.9L848.3 81.1L849.6 80.9L850.9 80.8L852.2 81.1L854.9 81.1L856.2 80.9L857.5 81.1L858.8 81L860.1 81.2L862.8 81.2L864.1 80.9L865.4 80.8L866.7 81L868.1 81.1L869.4 81L870.7 81.1L872 81.1L873.3 80.9L874.7 80.8L876 81.1L877 80.9L877 240" fill="none" stroke="#1f78c1" stroke-width="2" stroke-linejoin="round"/>
<path d="M40.6 279.5L44.4 213L313.9 213L313.9 279.5 L40.6 279.5 Z" fill="#bf47aa" fill-opacity="0.106" stroke="none"/>
<path d="M40.6 279.5L44.4 213L313.9 213" fill="none" stroke="#ba43a9" stroke-width="2" stroke-linejoin="round"/>
<path d="M322.2 279.5L325.2 147L378 147L379.3 147.3L380.6 147.7L382 148.9L382 148.1L383.3 148.5L384.6 148.2L385.9 147.2L387.2 147.2L388.6 147.3L391.2 147.9L392.5 147L393.8 149L395.2 149.2L396.5 148.8L397.8 148.3L399.1 149L400.4 147L401.8 147L403.1 147.5L404.4 147.2L405.7 148.1L407 147.7L408.4 147.4L409.7 148.9L411 147.1L412.3 149.6L413.6 147.6L415 147.2L416.3 147.4L417.6 147L418.9 147.1L420.2 147.5L421.6 147.2L422.9 149.4L424.2 147L425.5 147L426.8 147.5L428.2 147.3L429.5 147.7L430 149.2L430.8 147.5L432.1 149.9L433 148.5L433.4 150.6L434.8 147.4L436 147.1L436.1 147.7L438.7 147.5L440 150.8L441.4 149.2L442.7 151.2L444 148.5L445 147.8L445.3 150.7L446.6 147.5L448 150.6L449.3 147.9L450.6 152.6L451.9 147.5L453.2 150.4L454.6 150.7L455.9 149.7L457.2 148L458.5 149.1L459.8 149.6L461.2 147.5L462.5 149.6L463.8 152.3L465.1 149.7L466.4 147.5L467.8 150.1L469.1 149.3L470 148.1L470.4 150.5L471.7 147.5L473 153.4L474.4 147.9L475.7 147.9L477 150.7L478.3 147.7L479.6 148.2L481 151.1L482.3 151.2L483.6 147.5L484.9 147.5L486.2 151.7L487.6 149.7L488.9 148.7L490.2 151.8L491.5 148.8L492 147.5L492.8 149.2L494.2 148.7L495.5 147.4L496.8 147.1L497 147L498.1 148L499.4 147L500.8 147.3L502.1 147.1L503.4 148.3L504.7 147.6L506 148.3L507.4 147.3L508.7 147.5L510 147.9L511.3 147.6L512.6 147.1L514 147.8L515.3 147.7L516.6 147.1L517.9 147.6L519.2 147.2L520.6 147L521.9 147.2L523.2 147.5L524.5 147.4L525.8 147L527.2 147.3L528.5 147.2L529.8 147L531.1 147.1L532.4 147L533.8 147.2L536.4 147L595.6 147L595.6 262.5L595.6 279.5 L322.2 279.5 Z" fill="#bf47aa" fill-opacity="0.106" stroke="none"/>
<path d="M322.2 279.5L325.2 147L378 147L379.3 147.3L380.6 147.7L382 148.9L382 148.1L383.3 148.5L384.6 148.2L385.9 147.2L387.2 147.2L388.6 147.3L391.2 147.9L392.5 147L393.8 149L395.2 149.2L396.5 148.8L397.8 148.3L399.1 149L400.4 147L401.8 147L403.1 147.5L404.4 147.2L405.7 148.1L407 147.7L408.4 147.4L409.7 148.9L411 147.1L412.3 149.6L413.6 147.6L415 147.2L416.3 147.4L417.6 147L418.9 147.1L420.2 147.5L421.6 147.2L422.9 149.4L424.2 147L425.5 147L426.8 147.5L428.2 147.3L429.5 147.7L430 149.2L430.8 147.5L432.1 149.9L433 148.5L433.4 150.6L434.8 147.4L436 147.1L436.1 147.7L438.7 147.5L440 150.8L441.4 149.2L442.7 151.2L444 148.5L445 147.8L445.3 150.7L446.6 147.5L448 150.6L449.3 147.9L450.6 152.6L451.9 147.5L453.2 150.4L454.6 150.7L455.9 149.7L457.2 148L458.5 149.1L459.8 149.6L461.2 147.5L462.5 149.6L463.8 152.3L465.1 149.7L466.4 147.5L467.8 150.1L469.1 149.3L470 148.1L470.4 150.5L471.7 147.5L473 153.4L474.4 147.9L475.7 147.9L477 150.7L478.3 147.7L479.6 148.2L481 151.1L482.3 151.2L483.6 147.5L484.9 147.5L486.2 151.7L487.6 149.7L488.9 148.7L490.2 151.8L491.5 148.8L492 147.5L492.8 149.2L494.2 148.7L495.5 147.4L496.8 147.1L497 147L498.1 148L499.4 147L500.8 147.3L502.1 147.1L503.4 148.3L504.7 147.6L506 148.3L507.4 147.3L508.7 147.5L510 147.9L511.3 147.6L512.6 147.1L514 147.8L515.3 147.7L516.6 147.1L517.9 147.6L519.2 147.2L520.6 147L521.9 147.2L523.2 147.5L524.5 147.4L525.8 147L527.2 147.3L528.5 147.2L529.8 147L531.1 147.1L532.4 147L533.8 147.2L536.4 147L595.6 147L595.6 262.5" fill="none" stroke="#ba43a9" stroke-width="2" stroke-linejoin="round"/>
<path d="M604.6 279.5L607.3 81L617.9 81L619.2 81.2L621.8 81.2L623.1 81.1L624.5 81.2L627.1 81L629.7 81L631.1 81.3L632.4 81L633.7 81.3L635 81.3L636.3 81.1L637.7 81L639 81L640 81.2L640.3 81.1L641.6 81.2L642.9 81.1L644.3 81.1L645.6 81.6L646.9 82.5L648 82.6L648.2 81L649.5 81L650.9 90.1L652 86L652.2 81L653.5 82.7L654 82L654.8 81L656.1 83.6L657.5 81L658.8 82.3L660.1 84.4L661.4 81.8L662.7 81.1L664.1 83.2L665 83.1L665.4 81.2L666.7 81.9L668 82.8L669.3 84.2L670.7 81L672 81.5L673.3 85.2L674.6 81L675.9 82.4L677.3 83.3L678.6 81L679.9 82.8L680 83.7L681.2 81.3L682.5 81L683.9 81.1L685.2 82.3L686.5 81.1L687.8 84.9L689.1 82.5L690.5 81.8L691.8 81.4L693.1 81.3L694.4 82.6L695.7 81.7L697.1 85.4L698.4 82.9L699.7 81.1L700 83.5L701 81.9L702.3 82.9L703.7 82.1L705 84.5L706.3 81.1L707.6 83.8L708.9 81.6L710.3 81L711.6 85.5L712.9 81.4L714.2 87L715 83.6L715.5 82.2L716.9 86.7L718.2 86.6L719.5 85.9L720.8 81L721 81.1L722.1 83.1L723.5 89.8L723.5 84.1L724.8 82.5L725 82L726.1 84L727.4 84.3L728 93.1L728.7 87.5L730.1 85.6L731 95.9L731.4 91L732.7 90.2L734 101.9L735 90.9L735.3 102.9L736.7 94.7L738 94L738.6 98.7L739.3 109.1L740.3 111.4L740.6 122.7L741.8 140L741.9 137L743.3 149.3L743.6 158.4L744.6 148.7L745 143.6L745.9 141.6L747 133L747.2 133.6L748.5 143.9L749.9 145.3L750 129.9L751.2 144.4L752.5 126.1L753.6 138.8L753.8 149L755.1 138.9L756.5 128.9L757 132.9L757.8 127.4L759.1 136L759.5 145.8L760.4 143.4L761.7 151L762 157.4L763.1 153.2L763.5 140.3L764.4 140.6L765.4 131.5L765.7 143.8L767 125.5L768 124.2L768.3 135.1L769.7 123.4L771 127.5L772 141.4L772.3 133.2L773.6 147.9L774.9 137.7L775 145.9L776.3 145L777 151.6L777.6 140.1L778.8 135.7L778.9 121.3L780.2 120.7L781 113.1L781.5 119L782.9 111.6L784.2 105.9L785.5 117.8L786.8 107.9L788.1 103L789.5 99.4L790.5 108.1L790.8 97.6L792.1 91.9L793.4 94.7L794 98.3L796.1 88.1L797.2 83.2L797.4 83.2L798.7 84.2L800 82.2L800 81L801.3 81.8L802.7 81.4L803 81.1L804 81L805.3 80.8L806.6 81L807.9 80.8L809.3 80.8L810.6 80.9L811.9 80.8L813.2 81.2L814.5 81.3L815.9 81.1L817.2 81.3L818.5 80.8L819.8 80.7L821.1 81.2L822.5 80.8L823.8 81.2L825.1 81L826.4 81.2L827.7 80.8L829.1 81L830.4 80.9L833 81.3L834.3 81.2L835.7 81.3L837 81.1L839.6 80.9L840.9 81L842.3 81.2L844.9 80.8L846.2 80.8L847.5 81L848.9 81.2L850.2 81.1L851.5 80.9L852.8 80.9L854.1 81.1L855.5 81.2L856.8 81.1L859.4 81.1L860.7 81L862.1 81L863.4 80.8L866 80.8L867.3 81L868.7 80.8L870 81.1L871.3 81.2L873.9 81.2L875.3 81.1L876.6 81.2L877 81.2L877 279.5 L604.6 279.5 Z" fill="#bf47aa" fill-opacity="0.106" stroke="none"/>
<path d="M604.6 279.5L607.3 81L617.9 81L619.2 81.2L621.8 81.2L623.1 81.1L624.5 81.2L627.1 81L629.7 81L631.1 81.3L632.4 81L633.7 81.3L635 81.3L636.3 81.1L637.7 81L639 81L640 81.2L640.3 81.1L641.6 81.2L642.9 81.1L644.3 81.1L645.6 81.6L646.9 82.5L648 82.6L648.2 81L649.5 81L650.9 90.1L652 86L652.2 81L653.5 82.7L654 82L654.8 81L656.1 83.6L657.5 81L658.8 82.3L660.1 84.4L661.4 81.8L662.7 81.1L664.1 83.2L665 83.1L665.4 81.2L666.7 81.9L668 82.8L669.3 84.2L670.7 81L672 81.5L673.3 85.2L674.6 81L675.9 82.4L677.3 83.3L678.6 81L679.9 82.8L680 83.7L681.2 81.3L682.5 81L683.9 81.1L685.2 82.3L686.5 81.1L687.8 84.9L689.1 82.5L690.5 81.8L691.8 81.4L693.1 81.3L694.4 82.6L695.7 81.7L697.1 85.4L698.4 82.9L699.7 81.1L700 83.5L701 81.9L702.3 82.9L703.7 82.1L705 84.5L706.3 81.1L707.6 83.8L708.9 81.6L710.3 81L711.6 85.5L712.9 81.4L714.2 87L715 83.6L715.5 82.2L716.9 86.7L718.2 86.6L719.5 85.9L720.8 81L721 81.1L722.1 83.1L723.5 89.8L723.5 84.1L724.8 82.5L725 82L726.1 84L727.4 84.3L728 93.1L728.7 87.5L730.1 85.6L731 95.9L731.4 91L732.7 90.2L734 101.9L735 90.9L735.3 102.9L736.7 94.7L738 94L738.6 98.7L739.3 109.1L740.3 111.4L740.6 122.7L741.8 140L741.9 137L743.3 149.3L743.6 158.4L744.6 148.7L745 143.6L745.9 141.6L747 133L747.2 133.6L748.5 143.9L749.9 145.3L750 129.9L751.2 144.4L752.5 126.1L753.6 138.8L753.8 149L755.1 138.9L756.5 128.9L757 132.9L757.8 127.4L759.1 136L759.5 145.8L760.4 143.4L761.7 151L762 157.4L763.1 153.2L763.5 140.3L764.4 140.6L765.4 131.5L765.7 143.8L767 125.5L768 124.2L768.3 135.1L769.7 123.4L771 127.5L772 141.4L772.3 133.2L773.6 147.9L774.9 137.7L775 145.9L776.3 145L777 151.6L777.6 140.1L778.8 135.7L778.9 121.3L780.2 120.7L781 113.1L781.5 119L782.9 111.6L784.2 105.9L785.5 117.8L786.8 107.9L788.1 103L789.5 99.4L790.5 108.1L790.8 97.6L792.1 91.9L793.4 94.7L794 98.3L796.1 88.1L797.2 83.2L797.4 83.2L798.7 84.2L800 82.2L800 81L801.3 81.8L802.7 81.4L803 81.1L804 81L805.3 80.8L806.6 81L807.9 80.8L809.3 80.8L810.6 80.9L811.9 80.8L813.2 81.2L814.5 81.3L815.9 81.1L817.2 81.3L818.5 80.8L819.8 80.7L821.1 81.2L822.5 80.8L823.8 81.2L825.1 81L826.4 81.2L827.7 80.8L829.1 81L830.4 80.9L833 81.3L834.3 81.2L835.7 81.3L837 81.1L839.6 80.9L840.9 81L842.3 81.2L844.9 80.8L846.2 80.8L847.5 81L848.9 81.2L850.2 81.1L851.5 80.9L852.8 80.9L854.1 81.1L855.5 81.2L856.8 81.1L859.4 81.1L860.7 81L862.1 81L863.4 80.8L866 80.8L867.3 81L868.7 80.8L870 81.1L871.3 81.2L873.9 81.2L875.3 81.1L876.6 81.2L877 81.2" fill="none" stroke="#ba43a9" stroke-width="2" stroke-linejoin="round"/>
</svg>
<span class="yl" style="top:35.6px">35 K</span>
<span class="yl" style="top:68.6px">30 K</span>
<span class="yl" style="top:101.6px">25 K</span>
<span class="yl" style="top:134.6px">20 K</span>
<span class="yl" style="top:167.6px">15 K</span>
<span class="yl" style="top:200.6px">10 K</span>
<span class="yl" style="top:233.6px">5 K</span>
<span class="yl" style="top:266.6px">0</span>
<span class="xl" style="left:28.8px;top:280.2px">19:30</span>
<span class="xl" style="left:108.2px;top:280.2px">20:00</span>
<span class="xl" style="left:187.6px;top:280.2px">20:30</span>
<span class="xl" style="left:267.1px;top:280.2px">21:00</span>
<span class="xl" style="left:346.5px;top:280.2px">21:30</span>
<span class="xl" style="left:425.9px;top:280.2px">22:00</span>
<span class="xl" style="left:505.3px;top:280.2px">22:30</span>
<span class="xl" style="left:584.7px;top:280.2px">23:00</span>
<span class="xl" style="left:664.2px;top:280.2px">23:30</span>
<span class="xl" style="left:743.6px;top:280.2px">00:00</span>
<span class="xl" style="left:823px;top:280.2px">00:30</span>
<ul class="legend">
<li><i class="sw" style="left:17.7px;top:310px;background:#7eb26d"></i><span class="lt" style="left:33.5px;top:304.9px">3 nodes, 36 vCPUs, 72 GB RAM</span></li>
<li><i class="sw" style="left:196.5px;top:310px;background:#eab839"></i><span class="lt" style="left:212.1px;top:304.9px">3 nodes, 16 vCPUs, 32 GB RAM</span></li>
<li><i class="sw" style="left:374.3px;top:310px;background:#6ed0e0"></i><span class="lt" style="left:390.9px;top:304.9px">5 nodes, 16 vCPUs 32 GB RAM</span></li>
<li><i class="sw" style="left:550.6px;top:310px;background:#ef843c"></i><span class="lt" style="left:567.1px;top:304.9px">7 nodes, 16 vCPUs, 32 GB RAM</span></li>
<li><i class="sw" style="left:728.6px;top:310px;background:#e24d42"></i><span class="lt" style="left:745.1px;top:304.9px">5 nodes, 8 vCPUs, 16 GB RAM</span></li>
<li><i class="sw" style="left:17.7px;top:328.9px;background:#1f78c1"></i><span class="lt" style="left:33.5px;top:323.8px">7 nodes, 8 vCPUs, 16 GB RAM</span></li>
<li><i class="sw" style="left:190.6px;top:328.9px;background:#ba43a9"></i><span class="lt" style="left:206.1px;top:323.8px">9 nodes, 8 vCPUs, 16 GB RAM</span></li>
</ul>
<span class="rz"></span>
</section>
<section class="panel" style="left:2px;top:364px">
<h2 class="title">Aggregate Consume Rate</h2>
<svg class="chart" width="907" height="348" viewBox="2 364 907 348">
<path d="M38 408.5 H887 M38 465.5 H887 M38 523.5 H887 M38 581.5 H887 M38 639.5 H887" stroke="#fff" stroke-opacity=".16" stroke-width="1" fill="none" shape-rendering="crispEdges"/>
<path d="M51.5 408 V640 M130.5 408 V640 M209.5 408 V640 M289.5 408 V640 M368.5 408 V640 M448.5 408 V640 M527.5 408 V640 M607.5 408 V640 M686.5 408 V640 M765.5 408 V640 M845.5 408 V640" stroke="#fff" stroke-opacity=".16" stroke-width="1" fill="none" shape-rendering="crispEdges"/>
<path d="M40.2 639.5L44 581.2L83.6 581.2L84.6 582.3L86.2 582.3L87.6 584.3L88.9 584.3L90.2 586.3L91.5 586.3L92.8 588.3L94.2 588.3L95.5 590.3L96.8 590.3L98.1 592.3L99.4 592.3L100.8 594.3L102.1 594.3L103.4 596.3L104.7 596.3L106 598.4L107.4 598.4L108.7 600L110 600L111.3 600.1L112.6 600.1L114 600.2L117.9 600.2L119.2 600.3L120.6 600.3L121.9 600.4L123.8 600.4L124.5 599.2L125.8 599.2L127.2 597.4L129.1 597.4L129.8 595.5L131.1 595.5L132.4 593.7L133.8 593.7L135.1 591.8L136.4 591.8L137.7 590.1L139 590.1L140.4 588.9L141.7 589.1L142.4 588.6L143 586.3L144.3 586.6L145.6 584L147 585.6L148.3 582L149 583.3L150.9 579.5L152.2 580L153.6 575.5L154.9 575.5L155.7 575.8L156.2 572.2L157.5 572.4L158.8 568.5L160.2 568.5L161.5 564.1L162.3 563.9L162.8 564.2L164.1 559.7L165.4 559L166.8 555.6L168.1 554.1L169 555.5L169.4 550.2L170.7 548.3L172 541.6L173.4 541.7L174.3 541.6L174.7 532.9L176 533L177.3 526.5L177.8 524.5L182 524.5L182.6 545.8L183.6 581.2L313.9 581.2L313.9 630L313.9 639.5 L40.2 639.5 Z" fill="#83b66e" fill-opacity="0.106" stroke="none"/>
<path d="M40.2 639.5L44 581.2L83.6 581.2L84.6 582.3L86.2 582.3L87.6 584.3L88.9 584.3L90.2 586.3L91.5 586.3L92.8 588.3L94.2 588.3L95.5 590.3L96.8 590.3L98.1 592.3L99.4 592.3L100.8 594.3L102.1 594.3L103.4 596.3L104.7 596.3L106 598.4L107.4 598.4L108.7 600L110 600L111.3 600.1L112.6 600.1L114 600.2L117.9 600.2L119.2 600.3L120.6 600.3L121.9 600.4L123.8 600.4L124.5 599.2L125.8 599.2L127.2 597.4L129.1 597.4L129.8 595.5L131.1 595.5L132.4 593.7L133.8 593.7L135.1 591.8L136.4 591.8L137.7 590.1L139 590.1L140.4 588.9L141.7 589.1L142.4 588.6L143 586.3L144.3 586.6L145.6 584L147 585.6L148.3 582L149 583.3L150.9 579.5L152.2 580L153.6 575.5L154.9 575.5L155.7 575.8L156.2 572.2L157.5 572.4L158.8 568.5L160.2 568.5L161.5 564.1L162.3 563.9L162.8 564.2L164.1 559.7L165.4 559L166.8 555.6L168.1 554.1L169 555.5L169.4 550.2L170.7 548.3L172 541.6L173.4 541.7L174.3 541.6L174.7 532.9L176 533L177.3 526.5L177.8 524.5L182 524.5L182.6 545.8L183.6 581.2L313.9 581.2L313.9 630" fill="none" stroke="#7eb26d" stroke-width="2" stroke-linejoin="round"/>
<path d="M321.8 639.5L324.8 523.5L351.2 523.5L351.7 528.5L353.8 528.5L355.2 534.6L356.5 534.6L357.8 540L359.1 540L360.4 545.3L361.8 545.3L363.1 550.7L364.4 550.7L365 555.1L367 555.1L368.4 558.4L370 558.4L371 562.6L372.3 562.6L373.6 565.7L374 566.6L375 566.6L376.3 569.6L377.6 569.2L378.5 577.8L378.9 578L380.2 575.3L381.6 576.3L382.9 575.5L384.2 578.3L385.5 576.6L386.8 584.5L388.2 583.3L389.5 581.7L390.8 582.1L392 582.2L392.1 585.1L393.4 586.8L394.8 583L396.1 585.7L397.4 582.3L398.7 582.3L400 583.7L401.4 589L402.7 589.2L404 585.3L405.3 582L405.3 587.4L406.6 581.8L408 581.5L409.3 581.1L410.6 577.8L411.9 578.7L413.2 575.4L414.6 575.5L415.4 573.1L415.9 580.9L417.2 576.8L418.5 576L419.8 570.6L421.2 568.1L422.5 568.7L423.8 565.7L425.1 569.3L426.4 563.5L427 563.2L427.8 566.5L429.1 560L430.4 561L431.7 563.2L433 558.5L433 556.9L434.4 552.9L435.7 554.5L436 555.2L437 549.5L438.3 549L439.6 553.1L440 551.9L441 553.9L442.3 547.4L443.6 549.2L444.4 544.8L444.9 544L446.2 544.4L447.6 539.9L448 536.8L448.9 535.4L450.2 536.2L451.5 536.2L452.7 528.1L452.8 528.6L454.2 533.4L455.5 528.2L456.8 530L457 529.9L458.1 519.6L459.4 519.2L460.8 520.4L461 521.1L462.1 519.5L463.4 511.3L464.7 508.1L466 507.9L466 505.4L467.4 506.8L468 510.5L468.7 513.6L469.5 513.8L470 511.6L471.3 505.5L471.5 502.2L472.6 496.3L473 494.7L474 492.9L474.5 490.2L475.3 489.9L476.6 492.2L477.9 490.5L479.2 489.9L479.5 493.1L480.6 491.3L481.9 490.3L483.2 489.9L484.5 488.6L484.6 491.5L485.8 492.2L487.2 495.6L488.5 495.4L489.6 497.4L489.8 497.7L491.1 497.3L492.4 501.1L493.8 501.4L494.6 504.5L495.1 504.9L496.4 507.5L497.7 509.9L499 510.2L499.6 510.6L500.4 514.2L501.3 517.6L501.7 516.2L503 517.3L504.3 516.8L505.6 517.3L507 517.3L508.3 517.1L509.6 518.5L509.7 518.1L510.9 518.4L512.2 519.1L513 520.7L513.6 521.3L514.9 521.1L516.2 521.8L517.5 523L518 523L518.8 523.4L520.2 523.4L521.5 523.5L595.6 523.5L595.6 618L595.6 639.5 L321.8 639.5 Z" fill="#83b66e" fill-opacity="0.106" stroke="none"/>
<path d="M321.8 639.5L324.8 523.5L351.2 523.5L351.7 528.5L353.8 528.5L355.2 534.6L356.5 534.6L357.8 540L359.1 540L360.4 545.3L361.8 545.3L363.1 550.7L364.4 550.7L365 555.1L367 555.1L368.4 558.4L370 558.4L371 562.6L372.3 562.6L373.6 565.7L374 566.6L375 566.6L376.3 569.6L377.6 569.2L378.5 577.8L378.9 578L380.2 575.3L381.6 576.3L382.9 575.5L384.2 578.3L385.5 576.6L386.8 584.5L388.2 583.3L389.5 581.7L390.8 582.1L392 582.2L392.1 585.1L393.4 586.8L394.8 583L396.1 585.7L397.4 582.3L398.7 582.3L400 583.7L401.4 589L402.7 589.2L404 585.3L405.3 582L405.3 587.4L406.6 581.8L408 581.5L409.3 581.1L410.6 577.8L411.9 578.7L413.2 575.4L414.6 575.5L415.4 573.1L415.9 580.9L417.2 576.8L418.5 576L419.8 570.6L421.2 568.1L422.5 568.7L423.8 565.7L425.1 569.3L426.4 563.5L427 563.2L427.8 566.5L429.1 560L430.4 561L431.7 563.2L433 558.5L433 556.9L434.4 552.9L435.7 554.5L436 555.2L437 549.5L438.3 549L439.6 553.1L440 551.9L441 553.9L442.3 547.4L443.6 549.2L444.4 544.8L444.9 544L446.2 544.4L447.6 539.9L448 536.8L448.9 535.4L450.2 536.2L451.5 536.2L452.7 528.1L452.8 528.6L454.2 533.4L455.5 528.2L456.8 530L457 529.9L458.1 519.6L459.4 519.2L460.8 520.4L461 521.1L462.1 519.5L463.4 511.3L464.7 508.1L466 507.9L466 505.4L467.4 506.8L468 510.5L468.7 513.6L469.5 513.8L470 511.6L471.3 505.5L471.5 502.2L472.6 496.3L473 494.7L474 492.9L474.5 490.2L475.3 489.9L476.6 492.2L477.9 490.5L479.2 489.9L479.5 493.1L480.6 491.3L481.9 490.3L483.2 489.9L484.5 488.6L484.6 491.5L485.8 492.2L487.2 495.6L488.5 495.4L489.6 497.4L489.8 497.7L491.1 497.3L492.4 501.1L493.8 501.4L494.6 504.5L495.1 504.9L496.4 507.5L497.7 509.9L499 510.2L499.6 510.6L500.4 514.2L501.3 517.6L501.7 516.2L503 517.3L504.3 516.8L505.6 517.3L507 517.3L508.3 517.1L509.6 518.5L509.7 518.1L510.9 518.4L512.2 519.1L513 520.7L513.6 521.3L514.9 521.1L516.2 521.8L517.5 523L518 523L518.8 523.4L520.2 523.4L521.5 523.5L595.6 523.5L595.6 618" fill="none" stroke="#7eb26d" stroke-width="2" stroke-linejoin="round"/>
<path d="M604.2 639.5L606.9 469.3L608.2 468.6L609.5 468.6L610.9 469.3L612.2 469.4L613.5 468.7L614.8 468.6L616.1 469.2L617.5 469.1L618.8 468.9L620.1 468.1L621.4 468.9L622.7 468.9L624.1 468.5L626.7 467.9L628 468.1L628.9 473.9L629.3 474.2L630.7 474.6L631.7 484.9L633.3 484.9L634.6 493.7L636.8 493.7L637.3 501.6L638.6 501.5L639.9 508.6L641.2 508.4L642.5 515.6L643.9 515.5L645.1 522.2L646.5 522.1L647.8 528.5L649.1 529.3L650.5 534.3L651.8 535.3L653.1 542.6L653.5 539.3L654.4 540.3L655.7 543.7L657.1 543.6L658.4 549.7L659.7 550.8L661 552.9L661.9 552.1L662.3 552L663.7 556.2L665 554.7L666.3 557.9L667.6 557.7L668.9 560.8L670.3 561.8L671.6 562.8L672.8 562.7L672.9 564.9L674.2 563.5L675.5 565.9L676.9 566L678.2 567.8L679.5 563.3L680.8 563.3L682.1 565.2L683.5 563.4L684.8 564.7L686.1 563.9L687 562.4L687.4 566.2L688.7 563.4L690.1 558.7L691.4 558.4L692 562L692.7 558.3L694 559.2L695.3 557.1L695.4 556.5L696.7 555.6L698 555.8L699.3 556.1L700.4 552.6L700.6 556.1L701.9 553.8L703.3 547.6L704.6 546.3L705.9 547.9L707.1 547.5L707.2 549.2L708.5 546.8L709.9 542.8L711.2 545.5L712.5 544.2L713.8 539L713.8 538L715.1 540.3L716.5 533.9L717.8 534L719.1 531.1L720.4 530.6L720.5 527.5L721.7 526.5L723.1 527.4L724.4 524.6L725.7 523.5L727 521.6L727.2 517.6L728.3 521L729.7 510.8L730 514.1L731 508.3L732.3 503.5L733.5 503.5L733.6 500.8L734.9 501.8L736.3 504.5L736.8 504.2L737.6 497.7L738.9 497.9L740.2 493.1L740.2 493.5L741.5 489.2L742.9 487.2L743.5 486.9L744.2 482.4L745.5 473.3L746.8 469L746.9 466.3L748.1 464.1L749.5 460.4L750.2 461.1L750.8 460.5L751.9 459.6L752.1 460.5L753.4 461.5L754.7 461.5L756.1 463.2L756.9 462.2L757.4 463L758.7 463.5L760 464.4L761.3 465.1L762.7 467.1L763.6 466.3L764 466.5L765.3 467.4L766.6 467.3L767.9 465.7L769.3 466L770.3 466.3L770.6 467.1L771.9 466.7L773.2 466.9L774.5 466.9L775.9 466.7L777 465.8L777.2 466.2L778.5 466.2L779.8 465L780.4 465.6L781.1 464.8L782.5 465L783.8 465.5L785.1 466.3L786.4 466.6L787.7 466.5L789.1 467.1L790.4 466.2L791.7 467.1L793 467.3L793.8 466.8L794.3 466.4L795.7 465.2L797 464.4L797.1 464.7L798.3 465.4L799.6 467.4L800.9 467.4L802.3 467.9L803.6 467.9L804.9 468L806.2 468.3L807.5 468.9L808.9 469L810.2 468.9L810.5 468.1L811.5 468.3L812.8 468.7L814.1 468.2L815.5 467.9L816.8 469L818.1 468.8L819.4 468.5L820.7 468.1L822.1 468.9L823.4 468.5L824.7 468.4L826 468.6L827.3 468.2L828.7 468.7L830 469L831.3 469.2L832.6 468.8L833.9 468.5L835.3 468.8L836.6 469L837.9 467.9L839.2 468.7L840.5 468.3L841.9 468.2L843.2 467.9L844.5 468.2L845.8 468.7L847.1 468.7L848.5 468.8L849.8 468.2L851.1 468.6L852.4 468.9L853.7 468.3L855.1 468.2L856.4 468.8L857.7 468.7L859 467.9L860.3 467.5L861.7 468.6L863 468.1L864.3 467.9L865.6 468.5L866.9 467.8L868.3 467.8L869.6 468.5L870.9 468.7L872.2 468.6L873.5 468.4L874.9 468.4L876.2 468.2L877 468.6L877 592L877 639.5 L604.2 639.5 Z" fill="#83b66e" fill-opacity="0.106" stroke="none"/>
<path d="M604.2 639.5L606.9 469.3L608.2 468.6L609.5 468.6L610.9 469.3L612.2 469.4L613.5 468.7L614.8 468.6L616.1 469.2L617.5 469.1L618.8 468.9L620.1 468.1L621.4 468.9L622.7 468.9L624.1 468.5L626.7 467.9L628 468.1L628.9 473.9L629.3 474.2L630.7 474.6L631.7 484.9L633.3 484.9L634.6 493.7L636.8 493.7L637.3 501.6L638.6 501.5L639.9 508.6L641.2 508.4L642.5 515.6L643.9 515.5L645.1 522.2L646.5 522.1L647.8 528.5L649.1 529.3L650.5 534.3L651.8 535.3L653.1 542.6L653.5 539.3L654.4 540.3L655.7 543.7L657.1 543.6L658.4 549.7L659.7 550.8L661 552.9L661.9 552.1L662.3 552L663.7 556.2L665 554.7L666.3 557.9L667.6 557.7L668.9 560.8L670.3 561.8L671.6 562.8L672.8 562.7L672.9 564.9L674.2 563.5L675.5 565.9L676.9 566L678.2 567.8L679.5 563.3L680.8 563.3L682.1 565.2L683.5 563.4L684.8 564.7L686.1 563.9L687 562.4L687.4 566.2L688.7 563.4L690.1 558.7L691.4 558.4L692 562L692.7 558.3L694 559.2L695.3 557.1L695.4 556.5L696.7 555.6L698 555.8L699.3 556.1L700.4 552.6L700.6 556.1L701.9 553.8L703.3 547.6L704.6 546.3L705.9 547.9L707.1 547.5L707.2 549.2L708.5 546.8L709.9 542.8L711.2 545.5L712.5 544.2L713.8 539L713.8 538L715.1 540.3L716.5 533.9L717.8 534L719.1 531.1L720.4 530.6L720.5 527.5L721.7 526.5L723.1 527.4L724.4 524.6L725.7 523.5L727 521.6L727.2 517.6L728.3 521L729.7 510.8L730 514.1L731 508.3L732.3 503.5L733.5 503.5L733.6 500.8L734.9 501.8L736.3 504.5L736.8 504.2L737.6 497.7L738.9 497.9L740.2 493.1L740.2 493.5L741.5 489.2L742.9 487.2L743.5 486.9L744.2 482.4L745.5 473.3L746.8 469L746.9 466.3L748.1 464.1L749.5 460.4L750.2 461.1L750.8 460.5L751.9 459.6L752.1 460.5L753.4 461.5L754.7 461.5L756.1 463.2L756.9 462.2L757.4 463L758.7 463.5L760 464.4L761.3 465.1L762.7 467.1L763.6 466.3L764 466.5L765.3 467.4L766.6 467.3L767.9 465.7L769.3 466L770.3 466.3L770.6 467.1L771.9 466.7L773.2 466.9L774.5 466.9L775.9 466.7L777 465.8L777.2 466.2L778.5 466.2L779.8 465L780.4 465.6L781.1 464.8L782.5 465L783.8 465.5L785.1 466.3L786.4 466.6L787.7 466.5L789.1 467.1L790.4 466.2L791.7 467.1L793 467.3L793.8 466.8L794.3 466.4L795.7 465.2L797 464.4L797.1 464.7L798.3 465.4L799.6 467.4L800.9 467.4L802.3 467.9L803.6 467.9L804.9 468L806.2 468.3L807.5 468.9L808.9 469L810.2 468.9L810.5 468.1L811.5 468.3L812.8 468.7L814.1 468.2L815.5 467.9L816.8 469L818.1 468.8L819.4 468.5L820.7 468.1L822.1 468.9L823.4 468.5L824.7 468.4L826 468.6L827.3 468.2L828.7 468.7L830 469L831.3 469.2L832.6 468.8L833.9 468.5L835.3 468.8L836.6 469L837.9 467.9L839.2 468.7L840.5 468.3L841.9 468.2L843.2 467.9L844.5 468.2L845.8 468.7L847.1 468.7L848.5 468.8L849.8 468.2L851.1 468.6L852.4 468.9L853.7 468.3L855.1 468.2L856.4 468.8L857.7 468.7L859 467.9L860.3 467.5L861.7 468.6L863 468.1L864.3 467.9L865.6 468.5L866.9 467.8L868.3 467.8L869.6 468.5L870.9 468.7L872.2 468.6L873.5 468.4L874.9 468.4L876.2 468.2L877 468.6L877 592" fill="none" stroke="#7eb26d" stroke-width="2" stroke-linejoin="round"/>
<path d="M40.1 639.5L43.9 581.2L83.5 581.2L84.6 582.3L86.1 582.3L87.5 584.3L88.8 584.3L90.1 586.3L91.4 586.3L92.7 588.3L94.1 588.3L95.4 590.3L96.7 590.3L98 592.3L99.3 592.3L100.7 594.3L102 594.3L103.3 596.3L104.6 596.3L105.9 598.4L107.3 598.4L108.6 600L109.9 600L111.2 600.1L112.5 600.1L113.9 600.2L117.8 600.2L119.1 600.3L120.5 600.3L121.8 600.4L123.8 600.4L124.4 599.2L125.7 599.2L127.1 597.4L129.1 597.4L129.7 595.5L131 595.5L132.3 593.7L133.7 593.7L135 591.8L135.8 591.8L136.3 591.9L137.6 590.5L138.9 590.3L140.3 589.2L141.6 588.8L142.4 589.1L142.9 586.6L144.2 587.1L145.5 584.5L146.9 586.3L148.2 583.1L149 583.3L149.5 584.1L150.8 581.2L152.1 580.8L153.5 576.6L154.8 578.1L155.7 577.8L156.1 572.8L157.4 573.9L158.7 569.3L160.1 570.9L161.4 566.2L162.3 566.5L162.7 566.5L164 559.6L165.3 560.2L166.7 555L168 554.8L169 555.7L169.3 549.6L170.6 551.1L171.9 544.9L173.3 543.4L174.3 543.7L174.6 534L175.9 534.2L177.2 527.9L178 524.6L180.6 524.6L181.2 541L182.5 578.4L182.6 581.2L313.9 581.2L313.9 631L313.9 639.5 L40.1 639.5 Z" fill="#efbc3a" fill-opacity="0.106" stroke="none"/>
<path d="M40.1 639.5L43.9 581.2L83.5 581.2L84.6 582.3L86.1 582.3L87.5 584.3L88.8 584.3L90.1 586.3L91.4 586.3L92.7 588.3L94.1 588.3L95.4 590.3L96.7 590.3L98 592.3L99.3 592.3L100.7 594.3L102 594.3L103.3 596.3L104.6 596.3L105.9 598.4L107.3 598.4L108.6 600L109.9 600L111.2 600.1L112.5 600.1L113.9 600.2L117.8 600.2L119.1 600.3L120.5 600.3L121.8 600.4L123.8 600.4L124.4 599.2L125.7 599.2L127.1 597.4L129.1 597.4L129.7 595.5L131 595.5L132.3 593.7L133.7 593.7L135 591.8L135.8 591.8L136.3 591.9L137.6 590.5L138.9 590.3L140.3 589.2L141.6 588.8L142.4 589.1L142.9 586.6L144.2 587.1L145.5 584.5L146.9 586.3L148.2 583.1L149 583.3L149.5 584.1L150.8 581.2L152.1 580.8L153.5 576.6L154.8 578.1L155.7 577.8L156.1 572.8L157.4 573.9L158.7 569.3L160.1 570.9L161.4 566.2L162.3 566.5L162.7 566.5L164 559.6L165.3 560.2L166.7 555L168 554.8L169 555.7L169.3 549.6L170.6 551.1L171.9 544.9L173.3 543.4L174.3 543.7L174.6 534L175.9 534.2L177.2 527.9L178 524.6L180.6 524.6L181.2 541L182.5 578.4L182.6 581.2L313.9 581.2L313.9 631" fill="none" stroke="#eab839" stroke-width="2" stroke-linejoin="round"/>
<path d="M321.7 639.5L324.7 523.5L351.1 523.5L351.7 528.5L353.7 528.5L355.1 534.6L356.4 534.6L357.7 540L359 540L360.3 545.3L361.7 545.3L363 550.7L364.3 550.7L365 555.1L366.9 555.1L368.3 558.4L369.6 558.4L370.9 561.7L372 561.7L372.2 561.8L373.5 565.1L374.9 565.8L376.2 568.9L377.5 569.4L378.8 572.9L380 571.9L380.1 572.2L381.5 576L382.8 574.3L384.1 576.8L385.4 579L386.7 578.5L388.1 580.4L389.4 581L390.7 582.9L392 584.5L392 582.2L393.3 582L394.7 584.3L396 583.1L397.3 584.3L398.6 582.1L399.9 582.4L401.3 582.6L402.6 582.4L403.9 582.3L405.2 581.5L405.3 583.4L406.5 584.4L407.9 582L409.2 579.3L410.5 578.9L411.8 577.1L413.1 574.5L414.5 574.7L415.4 574.2L415.8 574.5L417.1 572.1L418.4 570.7L419.7 570.3L421.1 567.3L422.4 567.2L423.7 564.6L425 565L426.3 564.1L427 563.1L427.7 563.5L429 558.8L430.3 558.9L431.6 553.9L432.9 553.7L434.3 549.7L435.6 550.7L436.9 546.2L437 546.8L438.2 544.1L439.5 538.4L440.9 540.4L441 540.1L442.2 534.4L443.5 533.1L444 531.8L444.8 531.7L446 526.5L446.1 532.2L447.5 527.8L448.8 529.4L449 520.6L450.1 519.4L451.4 521.9L452.7 521L452.7 525.9L454.1 522.9L454.4 523.1L455.4 515.7L456 521.1L456.7 516L457.8 512.6L458 513.8L459.3 521.1L460 515.7L460.7 523L462 534.2L462 533.6L463.3 520.4L463.5 520.3L464.6 515.6L465.9 513.2L466 515.8L467.3 513.3L468.6 513.6L469 510.7L469.9 509.9L471.2 511.5L472.5 511L472.8 508.3L473.9 512.8L474.5 514.3L476.2 514.8L476.5 513.3L477.8 513.4L479.1 512.4L480.5 514.5L481.2 514.8L481.8 513.2L483.1 516.2L484.4 516.4L484.6 517.8L485.7 517.9L487.1 517.7L488.4 518.3L489.6 519L489.7 519L491 522.6L491.3 523.6L492.3 522.8L493.7 523.1L495 524.1L496.3 524L497.6 523.8L498.9 523.2L500 524.3L500.3 523.8L501.6 523.9L502.9 523.6L504.2 523.5L505.5 524.4L506.9 523.7L508.2 524.2L509.5 523.4L510.8 524.1L512.1 524.1L513.5 524L514.8 523.8L516.1 523.5L517.4 523.3L520 524.1L520.1 523.8L521.4 523.9L522.7 523.5L525.3 523.9L526.7 524L528 523.7L531.9 523.7L533.3 523.5L534.6 523.4L535.9 523.6L537.2 523.5L581.5 523.5L582.5 527L583.4 530.5L583.4 530.4L584.4 525L584.7 524.5L585.5 523.5L595.6 523.5L595.6 619L595.6 639.5 L321.7 639.5 Z" fill="#efbc3a" fill-opacity="0.106" stroke="none"/>
<path d="M321.7 639.5L324.7 523.5L351.1 523.5L351.7 528.5L353.7 528.5L355.1 534.6L356.4 534.6L357.7 540L359 540L360.3 545.3L361.7 545.3L363 550.7L364.3 550.7L365 555.1L366.9 555.1L368.3 558.4L369.6 558.4L370.9 561.7L372 561.7L372.2 561.8L373.5 565.1L374.9 565.8L376.2 568.9L377.5 569.4L378.8 572.9L380 571.9L380.1 572.2L381.5 576L382.8 574.3L384.1 576.8L385.4 579L386.7 578.5L388.1 580.4L389.4 581L390.7 582.9L392 584.5L392 582.2L393.3 582L394.7 584.3L396 583.1L397.3 584.3L398.6 582.1L399.9 582.4L401.3 582.6L402.6 582.4L403.9 582.3L405.2 581.5L405.3 583.4L406.5 584.4L407.9 582L409.2 579.3L410.5 578.9L411.8 577.1L413.1 574.5L414.5 574.7L415.4 574.2L415.8 574.5L417.1 572.1L418.4 570.7L419.7 570.3L421.1 567.3L422.4 567.2L423.7 564.6L425 565L426.3 564.1L427 563.1L427.7 563.5L429 558.8L430.3 558.9L431.6 553.9L432.9 553.7L434.3 549.7L435.6 550.7L436.9 546.2L437 546.8L438.2 544.1L439.5 538.4L440.9 540.4L441 540.1L442.2 534.4L443.5 533.1L444 531.8L444.8 531.7L446 526.5L446.1 532.2L447.5 527.8L448.8 529.4L449 520.6L450.1 519.4L451.4 521.9L452.7 521L452.7 525.9L454.1 522.9L454.4 523.1L455.4 515.7L456 521.1L456.7 516L457.8 512.6L458 513.8L459.3 521.1L460 515.7L460.7 523L462 534.2L462 533.6L463.3 520.4L463.5 520.3L464.6 515.6L465.9 513.2L466 515.8L467.3 513.3L468.6 513.6L469 510.7L469.9 509.9L471.2 511.5L472.5 511L472.8 508.3L473.9 512.8L474.5 514.3L476.2 514.8L476.5 513.3L477.8 513.4L479.1 512.4L480.5 514.5L481.2 514.8L481.8 513.2L483.1 516.2L484.4 516.4L484.6 517.8L485.7 517.9L487.1 517.7L488.4 518.3L489.6 519L489.7 519L491 522.6L491.3 523.6L492.3 522.8L493.7 523.1L495 524.1L496.3 524L497.6 523.8L498.9 523.2L500 524.3L500.3 523.8L501.6 523.9L502.9 523.6L504.2 523.5L505.5 524.4L506.9 523.7L508.2 524.2L509.5 523.4L510.8 524.1L512.1 524.1L513.5 524L514.8 523.8L516.1 523.5L517.4 523.3L520 524.1L520.1 523.8L521.4 523.9L522.7 523.5L525.3 523.9L526.7 524L528 523.7L531.9 523.7L533.3 523.5L534.6 523.4L535.9 523.6L537.2 523.5L581.5 523.5L582.5 527L583.4 530.5L583.4 530.4L584.4 525L584.7 524.5L585.5 523.5L595.6 523.5L595.6 619" fill="none" stroke="#eab839" stroke-width="2" stroke-linejoin="round"/>
<path d="M604.1 639.5L606.8 495.5L608.1 496L609.4 496.3L610.8 495.5L612.1 496.2L613.4 496.1L614.7 496.6L616 496.6L617.4 495.9L618.7 496.2L620 496.2L621.3 496.1L622.6 496.3L624 496.3L625.3 495.7L626.6 495.7L626.7 496L627.9 497.3L629.2 500.4L630.6 499.7L631 499.6L631.9 503.2L633.2 502.7L634.5 507L635.8 506.5L636.8 506L637.2 511.2L638.5 511.1L639.8 516.5L641.1 516.1L642.4 521.9L643.8 521.8L645.1 525.9L645.1 526.4L646.4 526.1L647.7 529.5L650 529.5L650.4 533.6L651.7 533.6L653 538.6L654.3 538.6L655.6 542.8L657 542.8L658.3 547L659.6 547L660.9 551.2L662.2 551.2L663.6 554L664.9 554L666.2 556.8L667.5 556.8L668.8 559.6L670.2 559.6L671.5 562.4L672.8 562.4L674.1 562.8L686 562.8L687 561L688.6 561L690 557.4L691.3 557.4L692.6 553.7L693.9 553.7L695.2 550.2L696.6 550.2L697.9 547L700 547L700.5 544.3L701.8 544.7L703.2 542L704.5 540.5L705.8 539.1L707.1 539.1L707.1 537.5L708.4 532L709.8 535.4L711.1 533.9L712.4 533.7L713.7 527.4L713.8 525.4L715 523.6L716.4 526.2L717.7 527.9L719 522.1L720.3 524L720.5 524L721.6 524.7L723 521.9L724.3 521.2L725.6 522.1L726.9 524.3L727.2 520.4L728.2 521.8L728.9 522.1L729.6 515.9L730.1 515.2L730.9 514.4L732.2 507L733.5 507.4L733.5 506.6L734.8 506.9L736.2 504.3L737.3 503.8L737.5 502.9L738.8 504L740.1 501.1L740.2 502.8L741.4 501.3L742.8 502.5L744.1 501.3L745.4 502L746.7 501.3L748 502.1L748.5 502.7L749.4 500.8L750.7 500.2L752 501.8L753.3 499.7L753.6 499.9L754.6 500.1L756 498.5L757.3 496.5L757.7 496L758.6 495.5L759.9 497.4L760.3 496.2L761.2 496.2L762.6 496.6L763.9 496.1L765.2 495.9L766.5 496.2L767.8 495.9L769.2 496.4L770.5 495.3L771.8 495.8L773.1 497.1L774.4 496.4L775.8 496.9L777.1 496.8L778.4 497.5L779.7 498.4L780.4 498.6L781 499.6L781.6 500L782.4 510L782.4 510.5L783.3 499.5L783.7 499.2L784.5 499.1L785 499.2L786.3 498L787.6 499.6L789 498.8L790.3 497.8L791.6 497.5L792.9 497.7L794.2 497.8L795.6 499L796.9 499.1L798.2 499.1L799.5 498.4L800.8 498.5L802.2 499.8L803.5 498L804.8 499.3L806.1 499.5L807.4 498.6L808.8 499.6L810.1 499.1L811.4 499.5L812.7 499.2L814 499.4L815.4 499.8L816.7 498.9L818 499.1L819.3 499L820.6 499.8L822 500L823.3 498.3L824.6 498.9L825.9 499.1L827.2 498.2L828.6 498.3L829.9 499.3L831.2 498.9L832.5 498.4L833.8 497.8L835.2 499L836.5 497.8L837.8 499.3L839.1 498.9L840.4 499.3L841.8 499.7L843.1 499L845.7 498.2L847 497.9L848.4 499.6L849.7 499.5L851 498.4L852.3 497.9L853.6 499.1L855 498.2L856.3 498.6L857.6 498.4L858.9 497.9L860.2 499.4L861.6 498.8L862.9 498.7L864.2 499.4L865.5 498.3L866.8 498.8L868.2 499.5L869.5 499.7L870.8 500L872.1 500.2L873.4 500.2L874.8 499L876.1 499.6L877 499.2L877 609.3L877 639.5 L604.1 639.5 Z" fill="#efbc3a" fill-opacity="0.106" stroke="none"/>
<path d="M604.1 639.5L606.8 495.5L608.1 496L609.4 496.3L610.8 495.5L612.1 496.2L613.4 496.1L614.7 496.6L616 496.6L617.4 495.9L618.7 496.2L620 496.2L621.3 496.1L622.6 496.3L624 496.3L625.3 495.7L626.6 495.7L626.7 496L627.9 497.3L629.2 500.4L630.6 499.7L631 499.6L631.9 503.2L633.2 502.7L634.5 507L635.8 506.5L636.8 506L637.2 511.2L638.5 511.1L639.8 516.5L641.1 516.1L642.4 521.9L643.8 521.8L645.1 525.9L645.1 526.4L646.4 526.1L647.7 529.5L650 529.5L650.4 533.6L651.7 533.6L653 538.6L654.3 538.6L655.6 542.8L657 542.8L658.3 547L659.6 547L660.9 551.2L662.2 551.2L663.6 554L664.9 554L666.2 556.8L667.5 556.8L668.8 559.6L670.2 559.6L671.5 562.4L672.8 562.4L674.1 562.8L686 562.8L687 561L688.6 561L690 557.4L691.3 557.4L692.6 553.7L693.9 553.7L695.2 550.2L696.6 550.2L697.9 547L700 547L700.5 544.3L701.8 544.7L703.2 542L704.5 540.5L705.8 539.1L707.1 539.1L707.1 537.5L708.4 532L709.8 535.4L711.1 533.9L712.4 533.7L713.7 527.4L713.8 525.4L715 523.6L716.4 526.2L717.7 527.9L719 522.1L720.3 524L720.5 524L721.6 524.7L723 521.9L724.3 521.2L725.6 522.1L726.9 524.3L727.2 520.4L728.2 521.8L728.9 522.1L729.6 515.9L730.1 515.2L730.9 514.4L732.2 507L733.5 507.4L733.5 506.6L734.8 506.9L736.2 504.3L737.3 503.8L737.5 502.9L738.8 504L740.1 501.1L740.2 502.8L741.4 501.3L742.8 502.5L744.1 501.3L745.4 502L746.7 501.3L748 502.1L748.5 502.7L749.4 500.8L750.7 500.2L752 501.8L753.3 499.7L753.6 499.9L754.6 500.1L756 498.5L757.3 496.5L757.7 496L758.6 495.5L759.9 497.4L760.3 496.2L761.2 496.2L762.6 496.6L763.9 496.1L765.2 495.9L766.5 496.2L767.8 495.9L769.2 496.4L770.5 495.3L771.8 495.8L773.1 497.1L774.4 496.4L775.8 496.9L777.1 496.8L778.4 497.5L779.7 498.4L780.4 498.6L781 499.6L781.6 500L782.4 510L782.4 510.5L783.3 499.5L783.7 499.2L784.5 499.1L785 499.2L786.3 498L787.6 499.6L789 498.8L790.3 497.8L791.6 497.5L792.9 497.7L794.2 497.8L795.6 499L796.9 499.1L798.2 499.1L799.5 498.4L800.8 498.5L802.2 499.8L803.5 498L804.8 499.3L806.1 499.5L807.4 498.6L808.8 499.6L810.1 499.1L811.4 499.5L812.7 499.2L814 499.4L815.4 499.8L816.7 498.9L818 499.1L819.3 499L820.6 499.8L822 500L823.3 498.3L824.6 498.9L825.9 499.1L827.2 498.2L828.6 498.3L829.9 499.3L831.2 498.9L832.5 498.4L833.8 497.8L835.2 499L836.5 497.8L837.8 499.3L839.1 498.9L840.4 499.3L841.8 499.7L843.1 499L845.7 498.2L847 497.9L848.4 499.6L849.7 499.5L851 498.4L852.3 497.9L853.6 499.1L855 498.2L856.3 498.6L857.6 498.4L858.9 497.9L860.2 499.4L861.6 498.8L862.9 498.7L864.2 499.4L865.5 498.3L866.8 498.8L868.2 499.5L869.5 499.7L870.8 500L872.1 500.2L873.4 500.2L874.8 499L876.1 499.6L877 499.2L877 609.3" fill="none" stroke="#eab839" stroke-width="2" stroke-linejoin="round"/>
<path d="M40.5 639.5L44.2 581.2L83.8 581.2L84.6 582.3L86.5 582.3L87.8 584.3L89.1 584.3L90.5 586.3L91.8 586.3L93.1 588.3L94.4 588.3L95.7 590.3L97 590.3L98.4 592.3L99.7 592.3L101 594.3L102.3 594.3L103.7 596.3L105 596.3L106.3 598.4L107.6 598.4L108.9 600L110.2 600L111.6 600.1L112.9 600.1L114.2 600.2L118.2 600.2L119.5 600.3L120.8 600.3L122.1 600.4L123.8 600.4L124.8 599.2L126.1 599.2L127.4 597.4L129.1 597.4L130.1 595.5L131.4 595.5L132.7 593.7L134 593.7L135.3 591.8L136.7 591.8L138 590L139.3 590L140.6 588.1L142.4 588.1L143.2 585.9L144.6 585.9L145.9 583.5L147.2 583.5L148.5 581.1L149.8 581.1L151.2 577.9L152.5 577.9L153.8 574.8L155.7 574.8L156.4 571.1L157.8 571.1L159.1 567.2L160.4 567.2L161.7 563.2L163.1 563.2L164.4 558.2L165.7 558.2L167 553.2L169 553.2L169.7 547.4L171 547.4L172.3 540.8L174.3 540.8L174.9 532L176.2 532L177.6 524.4L177.6 524.3L182.2 524.3L182.8 547.4L183.8 581.2L313.9 581.2L313.9 629L313.9 639.5 L40.5 639.5 Z" fill="#73d4e1" fill-opacity="0.106" stroke="none"/>
<path d="M40.5 639.5L44.2 581.2L83.8 581.2L84.6 582.3L86.5 582.3L87.8 584.3L89.1 584.3L90.5 586.3L91.8 586.3L93.1 588.3L94.4 588.3L95.7 590.3L97 590.3L98.4 592.3L99.7 592.3L101 594.3L102.3 594.3L103.7 596.3L105 596.3L106.3 598.4L107.6 598.4L108.9 600L110.2 600L111.6 600.1L112.9 600.1L114.2 600.2L118.2 600.2L119.5 600.3L120.8 600.3L122.1 600.4L123.8 600.4L124.8 599.2L126.1 599.2L127.4 597.4L129.1 597.4L130.1 595.5L131.4 595.5L132.7 593.7L134 593.7L135.3 591.8L136.7 591.8L138 590L139.3 590L140.6 588.1L142.4 588.1L143.2 585.9L144.6 585.9L145.9 583.5L147.2 583.5L148.5 581.1L149.8 581.1L151.2 577.9L152.5 577.9L153.8 574.8L155.7 574.8L156.4 571.1L157.8 571.1L159.1 567.2L160.4 567.2L161.7 563.2L163.1 563.2L164.4 558.2L165.7 558.2L167 553.2L169 553.2L169.7 547.4L171 547.4L172.3 540.8L174.3 540.8L174.9 532L176.2 532L177.6 524.4L177.6 524.3L182.2 524.3L182.8 547.4L183.8 581.2L313.9 581.2L313.9 629" fill="none" stroke="#6ed0e0" stroke-width="2" stroke-linejoin="round"/>
<path d="M322.1 639.5L325.1 523.5L351.4 523.5L351.7 528.5L354.1 528.5L355.4 534.6L356.7 534.6L358.1 540L359.4 540L360.7 545.3L362 545.3L363.3 550.7L364.6 550.7L365 555.1L367.3 555.1L368.6 558.4L369.9 558.4L371.2 561.7L372.6 561.7L373.9 565L375.2 565L376.5 568.3L377.9 568.3L378.5 571.2L380.5 571.2L381.8 573.4L383.1 573.4L384.4 575.5L385.8 575.5L387.1 577.7L388.4 577.7L389.7 579.9L391.1 579.9L392 581.6L404.2 581.6L405.3 581.1L406.9 581.1L408.2 578.6L409.5 578.6L410.9 576.1L412.2 576.1L413.5 573.6L414.8 573.6L415.4 571L417.4 571L418.8 568.3L420.1 568.3L421.4 565.7L422.7 565.7L424.1 563L425.4 563L426.7 560.4L428 560.4L429.3 556L430.6 556L432 551.5L433.3 551.5L434.6 547.1L435.9 547.1L437 542.4L438.6 542.4L439.9 536.6L441.2 536.6L442.5 530.8L443.9 530.8L445.2 523.7L446.5 523.7L447.8 515.9L449.1 515.9L450.4 505.6L452 505.6L452.3 498.2L453.1 497.5L454.4 498L454.4 499.3L455.7 497.6L457.1 498.1L457.8 495.4L458.4 492.7L459.7 493.5L461 490.4L462.3 491.8L463 493.2L463.6 490.1L465 488.7L466.3 488.5L467.6 490.6L468.9 491.2L469.5 489.8L470.2 487.6L471.6 487.9L472.9 484.6L474.2 488L474.5 489.1L475.5 482.8L476.9 482.7L478 485.1L478.2 482.4L479.5 488.6L480 490.8L480.8 497.1L481.2 500.5L482.1 492.7L482.5 489L483.4 487.1L484.6 482.7L484.8 482.8L486.1 486.2L487.4 486.4L488.7 487.5L489 490.6L491.4 491.7L492.7 493.1L494 492.9L494.6 496L495.3 495.7L496.6 496.4L498 497.3L499.3 500.3L500.6 501.4L501.9 502.6L503 503.5L503.2 505.3L504.6 507.2L505.9 507.4L507.2 507.9L508.5 511.4L509.7 511.7L509.9 512.9L511.2 513.6L512.5 517.1L513.8 518.9L514.7 521.2L515.1 520.4L516.5 522L517.8 523.5L518 523.1L519.1 523L520.4 523.5L595.6 523.5L595.6 617L595.6 639.5 L322.1 639.5 Z" fill="#73d4e1" fill-opacity="0.106" stroke="none"/>
<path d="M322.1 639.5L325.1 523.5L351.4 523.5L351.7 528.5L354.1 528.5L355.4 534.6L356.7 534.6L358.1 540L359.4 540L360.7 545.3L362 545.3L363.3 550.7L364.6 550.7L365 555.1L367.3 555.1L368.6 558.4L369.9 558.4L371.2 561.7L372.6 561.7L373.9 565L375.2 565L376.5 568.3L377.9 568.3L378.5 571.2L380.5 571.2L381.8 573.4L383.1 573.4L384.4 575.5L385.8 575.5L387.1 577.7L388.4 577.7L389.7 579.9L391.1 579.9L392 581.6L404.2 581.6L405.3 581.1L406.9 581.1L408.2 578.6L409.5 578.6L410.9 576.1L412.2 576.1L413.5 573.6L414.8 573.6L415.4 571L417.4 571L418.8 568.3L420.1 568.3L421.4 565.7L422.7 565.7L424.1 563L425.4 563L426.7 560.4L428 560.4L429.3 556L430.6 556L432 551.5L433.3 551.5L434.6 547.1L435.9 547.1L437 542.4L438.6 542.4L439.9 536.6L441.2 536.6L442.5 530.8L443.9 530.8L445.2 523.7L446.5 523.7L447.8 515.9L449.1 515.9L450.4 505.6L452 505.6L452.3 498.2L453.1 497.5L454.4 498L454.4 499.3L455.7 497.6L457.1 498.1L457.8 495.4L458.4 492.7L459.7 493.5L461 490.4L462.3 491.8L463 493.2L463.6 490.1L465 488.7L466.3 488.5L467.6 490.6L468.9 491.2L469.5 489.8L470.2 487.6L471.6 487.9L472.9 484.6L474.2 488L474.5 489.1L475.5 482.8L476.9 482.7L478 485.1L478.2 482.4L479.5 488.6L480 490.8L480.8 497.1L481.2 500.5L482.1 492.7L482.5 489L483.4 487.1L484.6 482.7L484.8 482.8L486.1 486.2L487.4 486.4L488.7 487.5L489 490.6L491.4 491.7L492.7 493.1L494 492.9L494.6 496L495.3 495.7L496.6 496.4L498 497.3L499.3 500.3L500.6 501.4L501.9 502.6L503 503.5L503.2 505.3L504.6 507.2L505.9 507.4L507.2 507.9L508.5 511.4L509.7 511.7L509.9 512.9L511.2 513.6L512.5 517.1L513.8 518.9L514.7 521.2L515.1 520.4L516.5 522L517.8 523.5L518 523.1L519.1 523L520.4 523.5L595.6 523.5L595.6 617" fill="none" stroke="#6ed0e0" stroke-width="2" stroke-linejoin="round"/>
<path d="M604.5 639.5L607.1 465.5L622.4 465.5L623.5 461.3L624.3 464.4L624.6 465.5L628.3 465.5L628.9 472.3L630.9 472.3L631.7 484.3L633.6 484.3L634.9 492.8L636.8 492.8L637.5 500.7L638.8 500.7L640.1 508.2L641.5 508.2L642.8 514.5L644.1 514.5L645.1 520.6L646.8 520.6L648.1 526.4L649.4 526.4L650.7 532.2L652 532.2L653.4 537.8L654.7 537.8L656 542L657.3 542L658.6 546.2L660 546.2L661.3 550.4L662.6 550.4L663.9 553.2L665.2 553.2L666.5 556L667.9 556L669.2 558.8L670.5 558.8L671.8 561.6L673.1 561.6L674.5 562L686.4 562L687 560.2L689 560.2L690.3 556.6L691.6 556.6L693 552.9L694.3 552.9L695.4 549.4L696.9 549.4L698.2 546.2L699.5 546.2L700.9 543.1L702.2 543.1L703.5 539.8L704.8 539.8L706.1 535.5L707.5 535.5L708.8 531.2L710.1 531.2L711.4 527L712.8 527L714 521.1L715.4 521.1L716.7 516.1L718 516.2L719.4 509.7L720.5 511.1L720.7 509.5L722 502.4L723.3 502.3L724.6 498.4L726 499.4L726.8 490.7L727.3 490.9L728.6 491.6L729.9 483.8L731 484L732.5 476.6L733.9 474.8L735.1 466.7L735.2 470.2L736.5 470.2L737.8 468.3L739.1 464.4L740.2 465.3L740.5 466.3L741.8 461L743.1 457.7L744.4 455.6L745.8 451.1L746.9 453.7L747.1 449.8L748.4 448.2L749.7 449.7L751 449.9L751.9 450.5L752.4 447.1L753.6 443.3L753.7 439.9L755 441.2L756.3 438L757.6 438.1L757.7 438.5L759 437.8L760.3 441.2L760.3 440.6L761.6 442.2L762.9 441.6L765.5 444L766.9 443.8L767 443.5L768.2 444.9L769.5 443.4L770.8 446.2L772.1 446.2L773.5 447.4L774.8 447L776.1 447.4L777 446.9L777.4 446.1L778.8 446.3L780.1 446.1L781.4 445.7L782.7 446L784 445.6L785.4 446.5L785.4 446.1L786.7 446.5L788 447.2L789.3 446.2L790.6 448.2L792 447.3L793.3 447.7L793.8 448.2L794.6 449.5L797.2 450.1L798.5 449.2L799.9 450.5L801.2 450.6L802 449.7L802.5 450.4L803.8 451.5L805.1 451.3L806.5 451L807.8 452.2L809.1 452.6L810.4 453.5L810.5 453.5L811.8 455.1L813.1 456L814.4 457.8L815.7 458.4L817 458.5L818.4 458.2L819.7 459.7L820.6 460.2L821 459.8L822.3 459.5L823.6 461.2L825 461.4L826.3 462L827.3 462.1L827.6 462.4L828.9 462.1L830.2 461.9L831.5 463L832.9 463.4L834.2 463.5L835.5 464L835.6 463.6L836.8 463.4L838.1 464.3L839.5 464.9L840.8 464.7L842.1 464.9L843.4 465L844.8 465.5L845 465.3L846.1 465.4L847.4 465.3L848.7 465.4L851.4 465.2L852.7 465.3L854 465.3L855.3 465.4L856.6 465.7L858 465.4L859.3 465.3L860.6 465.4L861.9 465.6L863.2 465.4L864.5 465.6L865.9 465.7L867.2 465.7L868.5 465.5L869.8 465.5L871.1 465.4L872.5 465.4L873.8 465.6L875.1 465.3L876.4 465.5L877 465.4L877 593L877 639.5 L604.5 639.5 Z" fill="#73d4e1" fill-opacity="0.106" stroke="none"/>
<path d="M604.5 639.5L607.1 465.5L622.4 465.5L623.5 461.3L624.3 464.4L624.6 465.5L628.3 465.5L628.9 472.3L630.9 472.3L631.7 484.3L633.6 484.3L634.9 492.8L636.8 492.8L637.5 500.7L638.8 500.7L640.1 508.2L641.5 508.2L642.8 514.5L644.1 514.5L645.1 520.6L646.8 520.6L648.1 526.4L649.4 526.4L650.7 532.2L652 532.2L653.4 537.8L654.7 537.8L656 542L657.3 542L658.6 546.2L660 546.2L661.3 550.4L662.6 550.4L663.9 553.2L665.2 553.2L666.5 556L667.9 556L669.2 558.8L670.5 558.8L671.8 561.6L673.1 561.6L674.5 562L686.4 562L687 560.2L689 560.2L690.3 556.6L691.6 556.6L693 552.9L694.3 552.9L695.4 549.4L696.9 549.4L698.2 546.2L699.5 546.2L700.9 543.1L702.2 543.1L703.5 539.8L704.8 539.8L706.1 535.5L707.5 535.5L708.8 531.2L710.1 531.2L711.4 527L712.8 527L714 521.1L715.4 521.1L716.7 516.1L718 516.2L719.4 509.7L720.5 511.1L720.7 509.5L722 502.4L723.3 502.3L724.6 498.4L726 499.4L726.8 490.7L727.3 490.9L728.6 491.6L729.9 483.8L731 484L732.5 476.6L733.9 474.8L735.1 466.7L735.2 470.2L736.5 470.2L737.8 468.3L739.1 464.4L740.2 465.3L740.5 466.3L741.8 461L743.1 457.7L744.4 455.6L745.8 451.1L746.9 453.7L747.1 449.8L748.4 448.2L749.7 449.7L751 449.9L751.9 450.5L752.4 447.1L753.6 443.3L753.7 439.9L755 441.2L756.3 438L757.6 438.1L757.7 438.5L759 437.8L760.3 441.2L760.3 440.6L761.6 442.2L762.9 441.6L765.5 444L766.9 443.8L767 443.5L768.2 444.9L769.5 443.4L770.8 446.2L772.1 446.2L773.5 447.4L774.8 447L776.1 447.4L777 446.9L777.4 446.1L778.8 446.3L780.1 446.1L781.4 445.7L782.7 446L784 445.6L785.4 446.5L785.4 446.1L786.7 446.5L788 447.2L789.3 446.2L790.6 448.2L792 447.3L793.3 447.7L793.8 448.2L794.6 449.5L797.2 450.1L798.5 449.2L799.9 450.5L801.2 450.6L802 449.7L802.5 450.4L803.8 451.5L805.1 451.3L806.5 451L807.8 452.2L809.1 452.6L810.4 453.5L810.5 453.5L811.8 455.1L813.1 456L814.4 457.8L815.7 458.4L817 458.5L818.4 458.2L819.7 459.7L820.6 460.2L821 459.8L822.3 459.5L823.6 461.2L825 461.4L826.3 462L827.3 462.1L827.6 462.4L828.9 462.1L830.2 461.9L831.5 463L832.9 463.4L834.2 463.5L835.5 464L835.6 463.6L836.8 463.4L838.1 464.3L839.5 464.9L840.8 464.7L842.1 464.9L843.4 465L844.8 465.5L845 465.3L846.1 465.4L847.4 465.3L848.7 465.4L851.4 465.2L852.7 465.3L854 465.3L855.3 465.4L856.6 465.7L858 465.4L859.3 465.3L860.6 465.4L861.9 465.6L863.2 465.4L864.5 465.6L865.9 465.7L867.2 465.7L868.5 465.5L869.8 465.5L871.1 465.4L872.5 465.4L873.8 465.6L875.1 465.3L876.4 465.5L877 465.4L877 593" fill="none" stroke="#6ed0e0" stroke-width="2" stroke-linejoin="round"/>
<path d="M40.6 639.5L44.4 581.2L84 581.2L84.6 582.3L86.6 582.3L88 584.3L89.3 584.3L90.6 586.3L91.9 586.3L93.2 588.3L94.6 588.3L95.9 590.3L97.2 590.3L98.5 592.3L99.8 592.3L101.2 594.3L102.5 594.3L103.8 596.3L105.1 596.3L106.4 598.4L107.8 598.4L109.1 600L110.4 600L111.7 600.1L113 600.1L114.4 600.2L118.3 600.2L119.6 600.3L121 600.3L122.3 600.4L123.8 600.4L124.9 599.2L126.2 599.2L127.6 597.4L129.1 597.4L130.2 595.5L131.5 595.5L132.8 593.7L134.2 593.7L135.5 591.8L136.8 591.8L138.1 590L139.4 590L140.8 588.1L142.4 588.1L143.4 585.9L144.7 585.9L146 583.5L147.4 583.5L148.7 581.1L150 581.1L151.3 577.9L152.6 577.9L154 574.8L155.7 574.8L156.6 571.1L157.9 571.1L159.2 567.2L160.6 567.2L161.9 563.2L163.2 563.2L164.5 558.2L165.8 558.2L167.2 553.2L169 553.2L169.8 547.4L171.1 547.4L172.4 540.8L174.3 540.8L175.1 532L176.4 532L177.6 524.3L182.2 524.3L183 552.8L183.8 581.2L313.9 581.2L313.9 632L313.9 639.5 L40.6 639.5 Z" fill="#f4883d" fill-opacity="0.106" stroke="none"/>
<path d="M40.6 639.5L44.4 581.2L84 581.2L84.6 582.3L86.6 582.3L88 584.3L89.3 584.3L90.6 586.3L91.9 586.3L93.2 588.3L94.6 588.3L95.9 590.3L97.2 590.3L98.5 592.3L99.8 592.3L101.2 594.3L102.5 594.3L103.8 596.3L105.1 596.3L106.4 598.4L107.8 598.4L109.1 600L110.4 600L111.7 600.1L113 600.1L114.4 600.2L118.3 600.2L119.6 600.3L121 600.3L122.3 600.4L123.8 600.4L124.9 599.2L126.2 599.2L127.6 597.4L129.1 597.4L130.2 595.5L131.5 595.5L132.8 593.7L134.2 593.7L135.5 591.8L136.8 591.8L138.1 590L139.4 590L140.8 588.1L142.4 588.1L143.4 585.9L144.7 585.9L146 583.5L147.4 583.5L148.7 581.1L150 581.1L151.3 577.9L152.6 577.9L154 574.8L155.7 574.8L156.6 571.1L157.9 571.1L159.2 567.2L160.6 567.2L161.9 563.2L163.2 563.2L164.5 558.2L165.8 558.2L167.2 553.2L169 553.2L169.8 547.4L171.1 547.4L172.4 540.8L174.3 540.8L175.1 532L176.4 532L177.6 524.3L182.2 524.3L183 552.8L183.8 581.2L313.9 581.2L313.9 632" fill="none" stroke="#ef843c" stroke-width="2" stroke-linejoin="round"/>
<path d="M322.2 639.5L325.2 523.5L351.6 523.5L351.7 528.5L354.2 528.5L355.6 534.6L356.9 534.6L358.2 540L359.5 540L360.8 545.3L362.2 545.3L363.5 550.7L364.8 550.7L365 555.1L367.4 555.1L368.8 558.4L370.1 558.4L371.4 561.7L372.7 561.7L374 565L375.4 565L376.7 568.3L378 568.3L378.5 571.2L380.6 571.2L382 573.4L383.3 573.4L384.6 575.5L385.9 575.5L387.2 577.7L388.6 577.7L389.9 579.9L391.2 579.9L392 581.6L404.4 581.6L405.3 581.1L407 581.1L408.4 578.6L409.7 578.6L411 576.1L412.3 576.1L413.6 573.6L415 573.6L415.4 571L417.6 571L418.9 568.3L420.2 568.3L421.6 565.7L422.9 565.7L424.2 563L425.5 563L426.8 560.4L428.2 560.4L429.5 556L430.8 556L432.1 551.5L433.4 551.5L434.8 547.1L436.1 547.1L437 542.4L438.7 542.4L440 536.6L441.4 536.6L442.7 530.8L444 530.8L445.3 523.7L446.6 523.7L448 515.9L449.3 515.9L450.6 505.6L452 505.6L453.2 492.6L454.6 492.6L455 478.9L457.2 478.9L458.4 467.6L459.8 467.6L461.2 467.5L462.5 467.5L463.8 467.7L465.1 467.5L466.4 467.5L467.8 467.4L469.1 467.9L470 467.8L470.4 467.4L471.7 467.2L473 467.2L474.4 467.6L475.7 467.5L477 467.7L478.3 467.6L481 467.6L482.3 467.5L483.6 467.5L484.9 467.3L486.2 467.4L487.6 467.8L488.9 467.4L490.2 467.4L491.5 467.6L492.8 467.7L494.2 467.3L495.5 467.7L496.8 467.6L498.1 467.9L499.4 467.3L500.8 467.4L502.1 467.8L503.4 467.7L504.7 467.9L506 467.5L507.4 467.9L508.7 467.6L508.9 467.8L510 470.7L511.3 474.8L511.4 475L512.6 483.9L514 493.3L514.7 498.6L515.3 502.4L516.6 510.9L517.9 519.5L518 520L519.2 521.7L520.5 523.5L595.6 523.5L595.6 620L595.6 639.5 L322.2 639.5 Z" fill="#f4883d" fill-opacity="0.106" stroke="none"/>
<path d="M322.2 639.5L325.2 523.5L351.6 523.5L351.7 528.5L354.2 528.5L355.6 534.6L356.9 534.6L358.2 540L359.5 540L360.8 545.3L362.2 545.3L363.5 550.7L364.8 550.7L365 555.1L367.4 555.1L368.8 558.4L370.1 558.4L371.4 561.7L372.7 561.7L374 565L375.4 565L376.7 568.3L378 568.3L378.5 571.2L380.6 571.2L382 573.4L383.3 573.4L384.6 575.5L385.9 575.5L387.2 577.7L388.6 577.7L389.9 579.9L391.2 579.9L392 581.6L404.4 581.6L405.3 581.1L407 581.1L408.4 578.6L409.7 578.6L411 576.1L412.3 576.1L413.6 573.6L415 573.6L415.4 571L417.6 571L418.9 568.3L420.2 568.3L421.6 565.7L422.9 565.7L424.2 563L425.5 563L426.8 560.4L428.2 560.4L429.5 556L430.8 556L432.1 551.5L433.4 551.5L434.8 547.1L436.1 547.1L437 542.4L438.7 542.4L440 536.6L441.4 536.6L442.7 530.8L444 530.8L445.3 523.7L446.6 523.7L448 515.9L449.3 515.9L450.6 505.6L452 505.6L453.2 492.6L454.6 492.6L455 478.9L457.2 478.9L458.4 467.6L459.8 467.6L461.2 467.5L462.5 467.5L463.8 467.7L465.1 467.5L466.4 467.5L467.8 467.4L469.1 467.9L470 467.8L470.4 467.4L471.7 467.2L473 467.2L474.4 467.6L475.7 467.5L477 467.7L478.3 467.6L481 467.6L482.3 467.5L483.6 467.5L484.9 467.3L486.2 467.4L487.6 467.8L488.9 467.4L490.2 467.4L491.5 467.6L492.8 467.7L494.2 467.3L495.5 467.7L496.8 467.6L498.1 467.9L499.4 467.3L500.8 467.4L502.1 467.8L503.4 467.7L504.7 467.9L506 467.5L507.4 467.9L508.7 467.6L508.9 467.8L510 470.7L511.3 474.8L511.4 475L512.6 483.9L514 493.3L514.7 498.6L515.3 502.4L516.6 510.9L517.9 519.5L518 520L519.2 521.7L520.5 523.5L595.6 523.5L595.6 620" fill="none" stroke="#ef843c" stroke-width="2" stroke-linejoin="round"/>
<path d="M604.6 639.5L607 465.5L615.9 465.5L616.2 464.7L617 462.8L617.6 464.2L618.1 465.5L628.6 465.5L629.4 473.9L631.4 473.9L632.1 485.4L633.4 485.4L634.7 493.7L636.5 493.7L637.4 501.6L638.7 501.6L640 508.9L641.3 508.9L642.6 515.2L644 515.2L644.8 521.3L646.6 521.3L647.9 527.1L649.2 527.1L650.6 532.9L651.9 532.9L653.2 538.2L654.5 538.2L655.8 542.5L657.2 542.5L658.5 546.7L659.8 546.7L661.1 550.7L662.4 550.7L663.8 553.5L665.1 553.5L666.4 556.3L667.7 556.3L669 559.1L670.4 559.1L671.7 562L686.7 562L687.5 559.8L688.8 559.8L690.2 556.1L691.5 556.1L692.8 552.5L694.1 552.5L695.1 549.1L696.8 549.1L698.1 545.9L699.4 545.9L700.7 542.7L702 542.7L703.4 539.3L704.7 539.3L706 535L707.3 535L708.6 530.7L710 530.7L711.3 526.3L712.6 526.3L713.9 520.3L715.7 520.3L716.6 513.9L717.9 513.9L719.2 507.3L720.5 507.3L721.8 500L723.7 500L724.5 491.2L725.8 491.2L726.9 481.3L728.4 481.3L729.8 471.2L731.1 471.2L732.4 455.1L733.7 455.1L735 438.8L736.4 438.8L737.7 420.8L739 420.8L739.6 414.5L740.3 417L741 418L741.6 416.7L743 414.6L744.3 419.4L745.6 417.7L746.9 416.6L746.9 415L748.2 416.1L749.6 419.7L750.9 419.9L751.9 420L752.2 421.2L753.5 420L754.8 420.4L756.2 420.4L757.5 419.6L758.8 416.1L760.1 419.3L760.3 417L761.4 418.3L762.8 416.1L764.1 414L765.4 415.7L766.7 415.9L768 415.5L768.6 413.9L769.4 415.6L770.7 416.8L772 416.5L773.3 412.4L774.6 412.6L776 415L777 412.3L777.3 411.1L778.6 414.2L779.9 415.2L781.2 413.4L782 414.5L782.6 412.7L783.9 414L785.2 414.5L785.4 414.2L786.5 413.4L787.8 415.8L789.2 415.4L790.5 416L791.8 417.4L793.1 418.2L793.8 417.6L794.4 418L795.8 419.2L797.1 420.3L798.4 420.7L799.7 422L801 422.7L802 422.4L802.4 423.3L803.7 424.2L805 425L806.3 425.5L807.6 427.3L809 428.4L810.3 429.6L810.5 430L811.6 430.8L812.9 430.8L814.2 433.4L815.6 435.5L816.9 435.7L818.2 437.9L818.9 438.5L819.5 439.4L820.8 439.7L822.2 439.7L823.5 441.9L824.8 442.1L826.1 443.4L827.3 443L827.4 442.7L828.8 445.2L830.1 445.2L831.4 445.7L832.7 447.9L834 446.9L835.4 448.4L835.6 447.8L836.7 448.6L839.3 452.6L840.6 452.8L842 455.2L843.3 457.3L844 456.6L844.6 456.6L845.9 457.8L847.2 459.5L848.6 459.7L849.9 461.5L851.2 461.8L852.4 462.6L852.5 462.5L853.8 463.2L855.2 464.4L856.5 464.9L857.4 464.9L857.8 465.1L859.1 465L860.4 465.3L861.8 465.4L862 465.6L864.4 465.4L867 465.4L868.4 465.6L869.7 465.7L871 465.7L872.3 465.4L875 465.6L877 465.6L877 596L877 639.5 L604.6 639.5 Z" fill="#f4883d" fill-opacity="0.106" stroke="none"/>
<path d="M604.6 639.5L607 465.5L615.9 465.5L616.2 464.7L617 462.8L617.6 464.2L618.1 465.5L628.6 465.5L629.4 473.9L631.4 473.9L632.1 485.4L633.4 485.4L634.7 493.7L636.5 493.7L637.4 501.6L638.7 501.6L640 508.9L641.3 508.9L642.6 515.2L644 515.2L644.8 521.3L646.6 521.3L647.9 527.1L649.2 527.1L650.6 532.9L651.9 532.9L653.2 538.2L654.5 538.2L655.8 542.5L657.2 542.5L658.5 546.7L659.8 546.7L661.1 550.7L662.4 550.7L663.8 553.5L665.1 553.5L666.4 556.3L667.7 556.3L669 559.1L670.4 559.1L671.7 562L686.7 562L687.5 559.8L688.8 559.8L690.2 556.1L691.5 556.1L692.8 552.5L694.1 552.5L695.1 549.1L696.8 549.1L698.1 545.9L699.4 545.9L700.7 542.7L702 542.7L703.4 539.3L704.7 539.3L706 535L707.3 535L708.6 530.7L710 530.7L711.3 526.3L712.6 526.3L713.9 520.3L715.7 520.3L716.6 513.9L717.9 513.9L719.2 507.3L720.5 507.3L721.8 500L723.7 500L724.5 491.2L725.8 491.2L726.9 481.3L728.4 481.3L729.8 471.2L731.1 471.2L732.4 455.1L733.7 455.1L735 438.8L736.4 438.8L737.7 420.8L739 420.8L739.6 414.5L740.3 417L741 418L741.6 416.7L743 414.6L744.3 419.4L745.6 417.7L746.9 416.6L746.9 415L748.2 416.1L749.6 419.7L750.9 419.9L751.9 420L752.2 421.2L753.5 420L754.8 420.4L756.2 420.4L757.5 419.6L758.8 416.1L760.1 419.3L760.3 417L761.4 418.3L762.8 416.1L764.1 414L765.4 415.7L766.7 415.9L768 415.5L768.6 413.9L769.4 415.6L770.7 416.8L772 416.5L773.3 412.4L774.6 412.6L776 415L777 412.3L777.3 411.1L778.6 414.2L779.9 415.2L781.2 413.4L782 414.5L782.6 412.7L783.9 414L785.2 414.5L785.4 414.2L786.5 413.4L787.8 415.8L789.2 415.4L790.5 416L791.8 417.4L793.1 418.2L793.8 417.6L794.4 418L795.8 419.2L797.1 420.3L798.4 420.7L799.7 422L801 422.7L802 422.4L802.4 423.3L803.7 424.2L805 425L806.3 425.5L807.6 427.3L809 428.4L810.3 429.6L810.5 430L811.6 430.8L812.9 430.8L814.2 433.4L815.6 435.5L816.9 435.7L818.2 437.9L818.9 438.5L819.5 439.4L820.8 439.7L822.2 439.7L823.5 441.9L824.8 442.1L826.1 443.4L827.3 443L827.4 442.7L828.8 445.2L830.1 445.2L831.4 445.7L832.7 447.9L834 446.9L835.4 448.4L835.6 447.8L836.7 448.6L839.3 452.6L840.6 452.8L842 455.2L843.3 457.3L844 456.6L844.6 456.6L845.9 457.8L847.2 459.5L848.6 459.7L849.9 461.5L851.2 461.8L852.4 462.6L852.5 462.5L853.8 463.2L855.2 464.4L856.5 464.9L857.4 464.9L857.8 465.1L859.1 465L860.4 465.3L861.8 465.4L862 465.6L864.4 465.4L867 465.4L868.4 465.6L869.7 465.7L871 465.7L872.3 465.4L875 465.6L877 465.6L877 596" fill="none" stroke="#ef843c" stroke-width="2" stroke-linejoin="round"/>
<path d="M40.5 639.5L44.3 581.2L83.9 581.2L84.6 582.3L86.5 582.3L87.9 584.3L89.2 584.3L90.5 586.3L91.8 586.3L93.1 588.3L94.5 588.3L95.8 590.3L97.1 590.3L98.4 592.3L99.7 592.3L101.1 594.3L102.4 594.3L103.7 596.3L105 596.3L106.3 598.4L107.7 598.4L109 600L110.3 600L111.6 600.1L112.9 600.1L114.3 600.2L118.2 600.2L119.5 600.3L120.9 600.3L122.2 600.4L123.8 600.4L124.8 599.2L126.1 599.2L127.5 597.4L129.1 597.4L130.1 595.5L131.4 595.5L132.7 593.7L134.1 593.7L135.4 591.8L136.7 591.8L138 590L139.3 590L140.7 588.1L142.4 588.1L143.3 585.9L144.6 585.9L145.9 583.5L147.3 583.5L148.6 581.1L149.9 581.1L151.2 577.9L152.5 577.9L153.9 574.8L155.7 574.8L156.5 571.1L157.8 571.1L159.1 567.2L160.5 567.2L161.8 563.2L163.1 563.2L164.4 558.2L165.7 558.2L167.1 553.2L169 553.2L169.7 547.4L171 547.4L172.3 540.8L174.3 540.8L175 532L176.3 532L177.6 524.3L182.2 524.3L183.8 581.2L313.9 581.2L313.9 637.5L313.9 639.5 L40.5 639.5 Z" fill="#e75143" fill-opacity="0.106" stroke="none"/>
<path d="M40.5 639.5L44.3 581.2L83.9 581.2L84.6 582.3L86.5 582.3L87.9 584.3L89.2 584.3L90.5 586.3L91.8 586.3L93.1 588.3L94.5 588.3L95.8 590.3L97.1 590.3L98.4 592.3L99.7 592.3L101.1 594.3L102.4 594.3L103.7 596.3L105 596.3L106.3 598.4L107.7 598.4L109 600L110.3 600L111.6 600.1L112.9 600.1L114.3 600.2L118.2 600.2L119.5 600.3L120.9 600.3L122.2 600.4L123.8 600.4L124.8 599.2L126.1 599.2L127.5 597.4L129.1 597.4L130.1 595.5L131.4 595.5L132.7 593.7L134.1 593.7L135.4 591.8L136.7 591.8L138 590L139.3 590L140.7 588.1L142.4 588.1L143.3 585.9L144.6 585.9L145.9 583.5L147.3 583.5L148.6 581.1L149.9 581.1L151.2 577.9L152.5 577.9L153.9 574.8L155.7 574.8L156.5 571.1L157.8 571.1L159.1 567.2L160.5 567.2L161.8 563.2L163.1 563.2L164.4 558.2L165.7 558.2L167.1 553.2L169 553.2L169.7 547.4L171 547.4L172.3 540.8L174.3 540.8L175 532L176.3 532L177.6 524.3L182.2 524.3L183.8 581.2L313.9 581.2L313.9 637.5" fill="none" stroke="#e24d42" stroke-width="2" stroke-linejoin="round"/>
<path d="M322.1 639.5L325.1 523.5L351.5 523.5L351.7 528.5L354.1 528.5L355.5 534.6L356.8 534.6L358.1 540L359.4 540L360.7 545.3L362.1 545.3L363.4 550.7L364.7 550.7L365 555.1L367.3 555.1L368.7 558.4L370 558.4L371.3 561.7L372.6 561.7L373.9 565L375.3 565L376.6 568.3L377.9 568.3L378.5 571.2L380.5 571.2L381.9 573.4L383.2 573.4L384.5 575.5L385.8 575.5L387.1 577.7L388.5 577.7L389.8 579.9L391.1 579.9L392 581.6L404.3 581.6L405.3 581.1L406.9 581.1L408.3 578.6L409.6 578.6L410.9 576.1L412.2 576.1L413.5 573.6L414.9 573.6L415.4 571L417.5 571L418.8 568.3L420.1 568.3L421.5 565.7L422.8 565.7L424.1 563L425.4 563L426.7 560.4L428.1 560.4L429.4 556L430.7 556L432 551.5L433.3 551.5L434.7 547.1L436 547.1L437 542.4L438.6 542.4L439.9 536.6L441.3 536.6L442.6 530.8L443.9 530.8L445.2 523.7L446.5 523.7L447.9 515.9L449.2 515.9L450.5 505.6L452 505.6L453.1 492.6L453.5 492.6L454.5 493.4L455 485.2L455.8 484.3L456.1 484.3L457.1 485.7L458.4 484.8L459.7 486.8L460 480.8L461.1 479.4L462.4 486.4L463.7 482.3L465 488.2L466 485.9L466.3 484.4L467.7 484.1L469 481.4L470.3 487.4L471.6 486.3L472 491.1L472.9 487L474.3 485.2L475.6 484.7L476.9 490.1L478 486.4L478.2 488.2L479.5 485.7L480.9 491.2L482.2 493.6L483 489.2L483.5 490.5L484.8 488.4L486.1 490.9L486.3 491.1L487.5 487L488.8 491.4L490.1 494L491.4 496.4L492.7 497.2L493 497.2L494.1 500.5L495.4 503L496.7 504.8L498 506.2L499.3 509.5L499.6 510.8L500.7 511.1L502 512L503.3 512.7L504.6 515.7L505.9 516.2L506.4 517.8L507.3 516.6L508.6 516.5L509.9 518L511.2 517.8L511.4 518.6L512.5 518.3L513.9 520.3L515.2 521.3L516.4 522.1L516.5 521.9L517.8 522.4L519.1 523.1L520 523.5L595.6 523.5L595.6 628L595.6 639.5 L322.1 639.5 Z" fill="#e75143" fill-opacity="0.106" stroke="none"/>
<path d="M322.1 639.5L325.1 523.5L351.5 523.5L351.7 528.5L354.1 528.5L355.5 534.6L356.8 534.6L358.1 540L359.4 540L360.7 545.3L362.1 545.3L363.4 550.7L364.7 550.7L365 555.1L367.3 555.1L368.7 558.4L370 558.4L371.3 561.7L372.6 561.7L373.9 565L375.3 565L376.6 568.3L377.9 568.3L378.5 571.2L380.5 571.2L381.9 573.4L383.2 573.4L384.5 575.5L385.8 575.5L387.1 577.7L388.5 577.7L389.8 579.9L391.1 579.9L392 581.6L404.3 581.6L405.3 581.1L406.9 581.1L408.3 578.6L409.6 578.6L410.9 576.1L412.2 576.1L413.5 573.6L414.9 573.6L415.4 571L417.5 571L418.8 568.3L420.1 568.3L421.5 565.7L422.8 565.7L424.1 563L425.4 563L426.7 560.4L428.1 560.4L429.4 556L430.7 556L432 551.5L433.3 551.5L434.7 547.1L436 547.1L437 542.4L438.6 542.4L439.9 536.6L441.3 536.6L442.6 530.8L443.9 530.8L445.2 523.7L446.5 523.7L447.9 515.9L449.2 515.9L450.5 505.6L452 505.6L453.1 492.6L453.5 492.6L454.5 493.4L455 485.2L455.8 484.3L456.1 484.3L457.1 485.7L458.4 484.8L459.7 486.8L460 480.8L461.1 479.4L462.4 486.4L463.7 482.3L465 488.2L466 485.9L466.3 484.4L467.7 484.1L469 481.4L470.3 487.4L471.6 486.3L472 491.1L472.9 487L474.3 485.2L475.6 484.7L476.9 490.1L478 486.4L478.2 488.2L479.5 485.7L480.9 491.2L482.2 493.6L483 489.2L483.5 490.5L484.8 488.4L486.1 490.9L486.3 491.1L487.5 487L488.8 491.4L490.1 494L491.4 496.4L492.7 497.2L493 497.2L494.1 500.5L495.4 503L496.7 504.8L498 506.2L499.3 509.5L499.6 510.8L500.7 511.1L502 512L503.3 512.7L504.6 515.7L505.9 516.2L506.4 517.8L507.3 516.6L508.6 516.5L509.9 518L511.2 517.8L511.4 518.6L512.5 518.3L513.9 520.3L515.2 521.3L516.4 522.1L516.5 521.9L517.8 522.4L519.1 523.1L520 523.5L595.6 523.5L595.6 628" fill="none" stroke="#e24d42" stroke-width="2" stroke-linejoin="round"/>
<path d="M604.5 639.5L607.2 465.5L628.3 465.5L628.9 472.3L631 472.3L631.7 484.3L633.6 484.3L634.9 492.8L636.8 492.8L637.6 500.7L638.9 500.7L640.2 508.2L641.5 508.2L642.8 514.5L644.2 514.5L645.1 520.6L646.8 520.6L648.1 526.4L649.4 526.4L650.8 532.2L652.1 532.2L653.4 537.8L654.7 537.8L656 542L657.4 542L658.7 546.2L660 546.2L661.3 550.4L662.6 550.4L664 553.2L665.3 553.2L666.6 556L667.9 556L669.2 558.8L670.6 558.8L671.9 561.6L673.2 561.6L674.5 562L686.4 562L687 560.2L689 560.2L690.4 556.6L691.7 556.6L693 552.9L694.3 552.9L695.4 549.4L697 549.4L698.3 546.2L699.6 546.2L700.9 543.1L702.2 543.1L703.6 539.8L704.9 539.8L706.2 535.5L707.5 535.5L708.8 531.2L710.2 531.2L711.5 527L712.8 527L714.1 521L716 521L716.8 514.1L718.1 515L718.4 514.2L719.4 508.1L720.7 509.5L722 503.9L723.4 502.6L723.9 505.9L724.7 500.2L726 497.9L726.8 495.5L727.3 494.1L728.6 496.3L730 494.5L730 495.5L731.3 492.1L732.6 488L733.9 490.4L735.1 491.5L735.2 488.4L736.6 487.2L737.9 486.6L739.2 483.9L740.5 483.5L741.8 487.2L743.2 482.9L743.5 487.4L744.5 485.1L745.8 487.8L747.1 482.7L748.4 488.2L749.8 486.8L751.1 485.3L751.9 488.1L752.4 483.8L753.7 484.6L755 486.5L756.4 484L757.7 480.4L759 479.3L760.3 476.4L760.3 477.1L761.6 475.5L763 476.7L764.3 475.8L765.3 474.6L765.6 472.7L766.9 470L768.2 467.1L769.6 465.8L770.3 464.8L770.9 467.5L772.2 467.1L773.5 470.7L774.8 469.7L775.3 468.7L776.2 469.5L777.5 465.7L778.8 466.6L780.1 463L781.4 461.7L782 459.7L782.8 459.4L784.1 462.2L785.4 462.8L786.7 463L787 463.5L788 462.8L789.4 463.1L790.7 462.1L792 462.4L793.3 460.1L793.8 459.5L794.6 461.6L796 461.4L797.3 459.1L798.6 460.6L799.9 458.6L800.5 458.1L801.2 458.2L802.6 458.1L803.9 458.5L805.2 459.3L806.5 460.8L807.8 460.6L809.2 461.5L810.5 460.1L810.5 461.5L811.8 460.4L813.1 460.7L814.4 461.3L815.5 460.3L815.8 460.5L817.1 461.3L818.4 461.7L819.7 462.7L820.6 463.5L821 464.1L822.4 464.1L823.7 464.6L825 465L826.3 464.9L827.3 464.1L827.6 464.8L829 464.3L830.3 464L831.6 464.9L832.9 464.9L834.2 464.5L835.6 464.3L835.6 464L836.9 464.6L838.2 464.7L839.5 464.4L840.8 464.6L842.2 464.9L843.5 465.1L844 464.9L844.8 465.2L847.4 465.4L848.8 465.2L850 465.6L850.1 465.5L852.7 465.7L854 465.6L855.4 465.4L856.7 465.3L858 465.3L859.3 465.5L862 465.7L864.6 465.7L865.9 465.5L867.2 465.6L868.6 465.4L869.9 465.6L872.5 465.4L873.8 465.4L875.2 465.5L876.5 465.7L877 465.5L877 608.3L877 639.5 L604.5 639.5 Z" fill="#e75143" fill-opacity="0.106" stroke="none"/>
<path d="M604.5 639.5L607.2 465.5L628.3 465.5L628.9 472.3L631 472.3L631.7 484.3L633.6 484.3L634.9 492.8L636.8 492.8L637.6 500.7L638.9 500.7L640.2 508.2L641.5 508.2L642.8 514.5L644.2 514.5L645.1 520.6L646.8 520.6L648.1 526.4L649.4 526.4L650.8 532.2L652.1 532.2L653.4 537.8L654.7 537.8L656 542L657.4 542L658.7 546.2L660 546.2L661.3 550.4L662.6 550.4L664 553.2L665.3 553.2L666.6 556L667.9 556L669.2 558.8L670.6 558.8L671.9 561.6L673.2 561.6L674.5 562L686.4 562L687 560.2L689 560.2L690.4 556.6L691.7 556.6L693 552.9L694.3 552.9L695.4 549.4L697 549.4L698.3 546.2L699.6 546.2L700.9 543.1L702.2 543.1L703.6 539.8L704.9 539.8L706.2 535.5L707.5 535.5L708.8 531.2L710.2 531.2L711.5 527L712.8 527L714.1 521L716 521L716.8 514.1L718.1 515L718.4 514.2L719.4 508.1L720.7 509.5L722 503.9L723.4 502.6L723.9 505.9L724.7 500.2L726 497.9L726.8 495.5L727.3 494.1L728.6 496.3L730 494.5L730 495.5L731.3 492.1L732.6 488L733.9 490.4L735.1 491.5L735.2 488.4L736.6 487.2L737.9 486.6L739.2 483.9L740.5 483.5L741.8 487.2L743.2 482.9L743.5 487.4L744.5 485.1L745.8 487.8L747.1 482.7L748.4 488.2L749.8 486.8L751.1 485.3L751.9 488.1L752.4 483.8L753.7 484.6L755 486.5L756.4 484L757.7 480.4L759 479.3L760.3 476.4L760.3 477.1L761.6 475.5L763 476.7L764.3 475.8L765.3 474.6L765.6 472.7L766.9 470L768.2 467.1L769.6 465.8L770.3 464.8L770.9 467.5L772.2 467.1L773.5 470.7L774.8 469.7L775.3 468.7L776.2 469.5L777.5 465.7L778.8 466.6L780.1 463L781.4 461.7L782 459.7L782.8 459.4L784.1 462.2L785.4 462.8L786.7 463L787 463.5L788 462.8L789.4 463.1L790.7 462.1L792 462.4L793.3 460.1L793.8 459.5L794.6 461.6L796 461.4L797.3 459.1L798.6 460.6L799.9 458.6L800.5 458.1L801.2 458.2L802.6 458.1L803.9 458.5L805.2 459.3L806.5 460.8L807.8 460.6L809.2 461.5L810.5 460.1L810.5 461.5L811.8 460.4L813.1 460.7L814.4 461.3L815.5 460.3L815.8 460.5L817.1 461.3L818.4 461.7L819.7 462.7L820.6 463.5L821 464.1L822.4 464.1L823.7 464.6L825 465L826.3 464.9L827.3 464.1L827.6 464.8L829 464.3L830.3 464L831.6 464.9L832.9 464.9L834.2 464.5L835.6 464.3L835.6 464L836.9 464.6L838.2 464.7L839.5 464.4L840.8 464.6L842.2 464.9L843.5 465.1L844 464.9L844.8 465.2L847.4 465.4L848.8 465.2L850 465.6L850.1 465.5L852.7 465.7L854 465.6L855.4 465.4L856.7 465.3L858 465.3L859.3 465.5L862 465.7L864.6 465.7L865.9 465.5L867.2 465.6L868.6 465.4L869.9 465.6L872.5 465.4L873.8 465.4L875.2 465.5L876.5 465.7L877 465.5L877 608.3" fill="none" stroke="#e24d42" stroke-width="2" stroke-linejoin="round"/>
<path d="M40 639.5L43.8 581.2L83.4 581.2L84.6 582.3L86 582.3L87.4 584.3L88.7 584.3L90 586.3L91.3 586.3L92.6 588.3L94 588.3L95.3 590.3L96.6 590.3L97.9 592.3L99.2 592.3L100.6 594.3L101.9 594.3L103.2 596.3L104.5 596.3L105.8 598.4L107.2 598.4L108.5 600L109.8 600L111.1 600.1L112.4 600.1L113.8 600.2L117.7 600.2L119 600.3L120.4 600.3L121.7 600.4L123.8 600.4L124.3 599.2L125.6 599.2L127 597.4L129.1 597.4L129.6 595.5L130.9 595.5L132.2 593.7L133.6 593.7L134.9 591.8L136.2 591.8L137.5 590L138.8 590L140.2 588.1L142.4 588.1L142.8 585.9L144.1 585.9L145.4 583.5L146.8 583.5L148.1 581.1L149.4 581.1L150.7 577.9L152 577.9L153.4 574.8L155.7 574.8L156 571.1L157.3 571.1L158.6 567.2L160 567.2L161.3 563.2L162.6 563.2L163.9 558.2L165.2 558.2L166.6 553.2L169 553.2L169.2 547.4L170.5 547.4L171.8 540.8L174.3 540.8L174.5 532L175.8 532L177.1 526.2L177.6 524.3L182.2 524.3L182.4 531.4L183.7 578.4L183.8 581.2L313.9 581.2L313.9 635L313.9 639.5 L40 639.5 Z" fill="#247cc2" fill-opacity="0.106" stroke="none"/>
<path d="M40 639.5L43.8 581.2L83.4 581.2L84.6 582.3L86 582.3L87.4 584.3L88.7 584.3L90 586.3L91.3 586.3L92.6 588.3L94 588.3L95.3 590.3L96.6 590.3L97.9 592.3L99.2 592.3L100.6 594.3L101.9 594.3L103.2 596.3L104.5 596.3L105.8 598.4L107.2 598.4L108.5 600L109.8 600L111.1 600.1L112.4 600.1L113.8 600.2L117.7 600.2L119 600.3L120.4 600.3L121.7 600.4L123.8 600.4L124.3 599.2L125.6 599.2L127 597.4L129.1 597.4L129.6 595.5L130.9 595.5L132.2 593.7L133.6 593.7L134.9 591.8L136.2 591.8L137.5 590L138.8 590L140.2 588.1L142.4 588.1L142.8 585.9L144.1 585.9L145.4 583.5L146.8 583.5L148.1 581.1L149.4 581.1L150.7 577.9L152 577.9L153.4 574.8L155.7 574.8L156 571.1L157.3 571.1L158.6 567.2L160 567.2L161.3 563.2L162.6 563.2L163.9 558.2L165.2 558.2L166.6 553.2L169 553.2L169.2 547.4L170.5 547.4L171.8 540.8L174.3 540.8L174.5 532L175.8 532L177.1 526.2L177.6 524.3L182.2 524.3L182.4 531.4L183.7 578.4L183.8 581.2L313.9 581.2L313.9 635" fill="none" stroke="#1f78c1" stroke-width="2" stroke-linejoin="round"/>
<path d="M321.6 639.5L324.6 523.5L351 523.5L351.7 528.5L353.6 528.5L355 534.6L356.3 534.6L357.6 540L358.9 540L360.2 545.3L361.6 545.3L362.9 550.7L364.2 550.7L365 555.1L366.8 555.1L368.2 558.4L369.5 558.4L370.8 561.7L372.1 561.7L373.4 565L374.8 565L376.1 568.3L377.4 568.3L378.5 571.2L380 571.2L381.4 573.4L382.7 573.4L384 575.5L385.3 575.5L386.6 577.7L388 577.7L389.3 579.9L390.6 579.9L391.9 581.6L403.8 581.6L405.1 581.1L406.4 581.1L407.8 578.6L409.1 578.6L410.4 576.1L411.7 576.1L413 573.6L414.4 573.6L415.4 571L417 571L418.3 568.3L419.6 568.3L421 565.7L422.3 565.7L423.6 563L424.9 563L426.2 560.4L427.6 560.4L428.9 556L430.2 556L431.5 551.5L432.8 551.5L434.2 547.1L435.5 547.1L436.8 542.4L438.1 542.4L439.4 536.6L440.8 536.6L442.1 530.8L443.8 530.8L444.7 523.7L446 523.7L447.4 515.9L448.9 515.9L450 505.6L452 505.6L452.6 492.6L454 492.6L455 478.9L456.6 478.9L457.9 469.8L458.4 467.6L459.2 467.7L460.6 467.8L461.9 468L463.2 468L464 469.4L464.5 470.9L465.8 471.8L467 469.6L467.2 474L468.5 472.3L469.8 470.1L471.1 470.5L472 469.2L472.4 469.5L473.8 472.5L475.1 468.4L476.4 473L477.7 470.3L478 471.5L479 469.3L480.4 472.4L481.7 468.5L482 471.3L483 470.4L484.3 475L485.6 469.7L487 468.7L488 471.5L488.3 468.7L489.6 470.2L490.9 467.9L492 468.5L492.2 467.8L493.6 468.1L494.9 468L496.2 468.3L498.8 468.5L500.2 468.4L500.5 468.4L501.5 470.8L502.8 473.9L504.1 477.1L504.7 478.5L505.4 483L506.8 491L508 498.6L508.1 498.9L509.4 503.8L510.7 508.6L512 513.5L513 517L513.4 517.6L516 522L517.3 524.3L518 525.4L518.6 525.2L520 524.7L522.6 523.7L523 523.5L595.6 523.5L595.6 621L595.6 639.5 L321.6 639.5 Z" fill="#247cc2" fill-opacity="0.106" stroke="none"/>
<path d="M321.6 639.5L324.6 523.5L351 523.5L351.7 528.5L353.6 528.5L355 534.6L356.3 534.6L357.6 540L358.9 540L360.2 545.3L361.6 545.3L362.9 550.7L364.2 550.7L365 555.1L366.8 555.1L368.2 558.4L369.5 558.4L370.8 561.7L372.1 561.7L373.4 565L374.8 565L376.1 568.3L377.4 568.3L378.5 571.2L380 571.2L381.4 573.4L382.7 573.4L384 575.5L385.3 575.5L386.6 577.7L388 577.7L389.3 579.9L390.6 579.9L391.9 581.6L403.8 581.6L405.1 581.1L406.4 581.1L407.8 578.6L409.1 578.6L410.4 576.1L411.7 576.1L413 573.6L414.4 573.6L415.4 571L417 571L418.3 568.3L419.6 568.3L421 565.7L422.3 565.7L423.6 563L424.9 563L426.2 560.4L427.6 560.4L428.9 556L430.2 556L431.5 551.5L432.8 551.5L434.2 547.1L435.5 547.1L436.8 542.4L438.1 542.4L439.4 536.6L440.8 536.6L442.1 530.8L443.8 530.8L444.7 523.7L446 523.7L447.4 515.9L448.9 515.9L450 505.6L452 505.6L452.6 492.6L454 492.6L455 478.9L456.6 478.9L457.9 469.8L458.4 467.6L459.2 467.7L460.6 467.8L461.9 468L463.2 468L464 469.4L464.5 470.9L465.8 471.8L467 469.6L467.2 474L468.5 472.3L469.8 470.1L471.1 470.5L472 469.2L472.4 469.5L473.8 472.5L475.1 468.4L476.4 473L477.7 470.3L478 471.5L479 469.3L480.4 472.4L481.7 468.5L482 471.3L483 470.4L484.3 475L485.6 469.7L487 468.7L488 471.5L488.3 468.7L489.6 470.2L490.9 467.9L492 468.5L492.2 467.8L493.6 468.1L494.9 468L496.2 468.3L498.8 468.5L500.2 468.4L500.5 468.4L501.5 470.8L502.8 473.9L504.1 477.1L504.7 478.5L505.4 483L506.8 491L508 498.6L508.1 498.9L509.4 503.8L510.7 508.6L512 513.5L513 517L513.4 517.6L516 522L517.3 524.3L518 525.4L518.6 525.2L520 524.7L522.6 523.7L523 523.5L595.6 523.5L595.6 621" fill="none" stroke="#1f78c1" stroke-width="2" stroke-linejoin="round"/>
<path d="M604 639.5L606.7 465.5L619.6 465.5L620.6 463.2L621.6 465.5L627.8 465.5L628.9 472.3L630.5 472.3L631.7 484.3L633.6 484.3L634.4 492.8L636.8 492.8L637.1 500.7L638.4 500.7L639.7 508.2L641 508.2L642.3 514.5L643.7 514.5L645 520.6L646.3 520.6L647.6 526.4L648.9 526.4L650.3 532.2L651.6 532.2L652.9 537.8L654.2 537.8L655.5 542L656.9 542L658.2 546.2L659.5 546.2L660.8 550.4L662.1 550.4L663.5 553.2L664.8 553.2L666.1 556L667.4 556L668.7 558.8L670.1 558.8L671.4 561.6L672.8 561.6L674 562L685.9 562L687 560.2L688.5 560.2L689.9 556.6L691.2 556.6L692.5 552.9L693.8 552.9L695.1 549.4L696.5 549.4L697.8 546.2L699.1 546.2L700.4 543.1L701.7 543.1L703.1 539.8L704.4 539.8L705.7 535.5L707 535.5L708.3 531.2L709.7 531.2L711 527L712.3 527L713.6 521L716 521L716.3 515L717.6 515.3L718.9 508.7L720.2 508.7L720.5 509.1L721.5 503.5L722.9 503.6L724.2 495.5L725.5 496.2L726.8 488.2L726.8 488.7L728.1 487.7L729.5 478.5L730.7 476.9L730.8 477.4L732.1 467.3L733.4 466L734.7 456.9L735.1 457.1L736.1 457.1L737.4 448.1L738 448.3L738.7 448.3L740 443.7L740.2 442L741.3 444.5L742.7 447.2L743.5 447.7L744 448.4L745.3 447.6L746.6 445.7L747.9 449.8L749.3 446.5L750.6 449.8L751.9 451.1L753.2 451.5L754.5 452L755.5 453L755.9 453.3L756.9 456.8L757.2 456.7L758.3 450.3L758.5 452.2L759.8 450.2L760.3 448L761.1 449.6L762.5 451.3L763.8 448.7L765.1 448.5L766.4 449.2L767.7 447.7L768.6 451.6L769.1 452.6L770.4 449.1L771.7 447.5L773 447.2L774.3 447.2L775.7 447.7L777 446.7L777 448.5L778.3 447.9L779.6 446.3L780.9 443.1L782 440.7L782.3 441.6L783.6 441.9L784.9 439.2L786.2 438.6L787 438.7L787.5 440.9L788.9 441.5L790.2 445.4L790.4 444.7L791.5 445.4L792.8 446.2L794.1 447.9L795.5 448L796.8 449.8L797.1 449.5L798.1 447.9L799.4 450.5L800.7 450.4L802.1 451.2L803.4 451.1L804.7 450.9L806 451.5L807.3 451.4L808.7 451.9L810 452.5L810.5 453.9L811.3 453.3L812.6 454.3L813.9 455.4L815.3 454.8L816.6 455L817.9 455L818.9 456L819.2 456.4L820.5 457.4L821.9 457.8L823.2 459.3L824.5 459.2L825.8 459.9L827.3 461.5L828.5 461.5L829.8 461.6L831.1 461.9L832.4 462.8L833.7 462.4L835.1 462.6L835.6 462.6L836.4 463.2L837.7 462.9L839 463L840.3 463.4L841.7 463.8L844 464.7L844.3 464.3L846.9 465.1L848.3 465.1L849.6 465L850.9 465.3L852.4 465.4L853.5 465.1L854.9 465.1L856.2 465.4L857.5 465.3L860 465.7L860.1 465.7L861.5 465.5L864.1 465.5L865.4 465.4L866.7 465.5L870.7 465.5L872 465.3L873.3 465.6L874.7 465.7L876 465.5L877 465.4L877 598L877 639.5 L604 639.5 Z" fill="#247cc2" fill-opacity="0.106" stroke="none"/>
<path d="M604 639.5L606.7 465.5L619.6 465.5L620.6 463.2L621.6 465.5L627.8 465.5L628.9 472.3L630.5 472.3L631.7 484.3L633.6 484.3L634.4 492.8L636.8 492.8L637.1 500.7L638.4 500.7L639.7 508.2L641 508.2L642.3 514.5L643.7 514.5L645 520.6L646.3 520.6L647.6 526.4L648.9 526.4L650.3 532.2L651.6 532.2L652.9 537.8L654.2 537.8L655.5 542L656.9 542L658.2 546.2L659.5 546.2L660.8 550.4L662.1 550.4L663.5 553.2L664.8 553.2L666.1 556L667.4 556L668.7 558.8L670.1 558.8L671.4 561.6L672.8 561.6L674 562L685.9 562L687 560.2L688.5 560.2L689.9 556.6L691.2 556.6L692.5 552.9L693.8 552.9L695.1 549.4L696.5 549.4L697.8 546.2L699.1 546.2L700.4 543.1L701.7 543.1L703.1 539.8L704.4 539.8L705.7 535.5L707 535.5L708.3 531.2L709.7 531.2L711 527L712.3 527L713.6 521L716 521L716.3 515L717.6 515.3L718.9 508.7L720.2 508.7L720.5 509.1L721.5 503.5L722.9 503.6L724.2 495.5L725.5 496.2L726.8 488.2L726.8 488.7L728.1 487.7L729.5 478.5L730.7 476.9L730.8 477.4L732.1 467.3L733.4 466L734.7 456.9L735.1 457.1L736.1 457.1L737.4 448.1L738 448.3L738.7 448.3L740 443.7L740.2 442L741.3 444.5L742.7 447.2L743.5 447.7L744 448.4L745.3 447.6L746.6 445.7L747.9 449.8L749.3 446.5L750.6 449.8L751.9 451.1L753.2 451.5L754.5 452L755.5 453L755.9 453.3L756.9 456.8L757.2 456.7L758.3 450.3L758.5 452.2L759.8 450.2L760.3 448L761.1 449.6L762.5 451.3L763.8 448.7L765.1 448.5L766.4 449.2L767.7 447.7L768.6 451.6L769.1 452.6L770.4 449.1L771.7 447.5L773 447.2L774.3 447.2L775.7 447.7L777 446.7L777 448.5L778.3 447.9L779.6 446.3L780.9 443.1L782 440.7L782.3 441.6L783.6 441.9L784.9 439.2L786.2 438.6L787 438.7L787.5 440.9L788.9 441.5L790.2 445.4L790.4 444.7L791.5 445.4L792.8 446.2L794.1 447.9L795.5 448L796.8 449.8L797.1 449.5L798.1 447.9L799.4 450.5L800.7 450.4L802.1 451.2L803.4 451.1L804.7 450.9L806 451.5L807.3 451.4L808.7 451.9L810 452.5L810.5 453.9L811.3 453.3L812.6 454.3L813.9 455.4L815.3 454.8L816.6 455L817.9 455L818.9 456L819.2 456.4L820.5 457.4L821.9 457.8L823.2 459.3L824.5 459.2L825.8 459.9L827.3 461.5L828.5 461.5L829.8 461.6L831.1 461.9L832.4 462.8L833.7 462.4L835.1 462.6L835.6 462.6L836.4 463.2L837.7 462.9L839 463L840.3 463.4L841.7 463.8L844 464.7L844.3 464.3L846.9 465.1L848.3 465.1L849.6 465L850.9 465.3L852.4 465.4L853.5 465.1L854.9 465.1L856.2 465.4L857.5 465.3L860 465.7L860.1 465.7L861.5 465.5L864.1 465.5L865.4 465.4L866.7 465.5L870.7 465.5L872 465.3L873.3 465.6L874.7 465.7L876 465.5L877 465.4L877 598" fill="none" stroke="#1f78c1" stroke-width="2" stroke-linejoin="round"/>
<path d="M40.6 639.5L44.4 581.2L84 581.2L84.6 582.3L86.6 582.3L88 584.3L89.3 584.3L90.6 586.3L91.9 586.3L93.2 588.3L94.6 588.3L95.9 590.3L97.2 590.3L98.5 592.3L99.8 592.3L101.2 594.3L102.5 594.3L103.8 596.3L105.1 596.3L106.4 598.4L107.8 598.4L109.1 600L110.4 600L111.7 600.1L113 600.1L114.4 600.2L118.3 600.2L119.6 600.3L121 600.3L122.3 600.4L123.8 600.4L124.9 599.2L126.2 599.2L127.6 597.4L129.1 597.4L130.2 595.5L131.5 595.5L132.8 593.7L134.2 593.7L135.5 591.8L136.8 591.8L138.1 590L139.4 590L140.8 588.1L142.4 588.1L143.4 585.9L144.7 585.9L146 583.5L147.4 583.5L148.7 581.1L150 581.1L151.3 577.9L152.6 577.9L154 574.8L155.7 574.8L156.6 571.1L157.9 571.1L159.2 567.2L160.6 567.2L161.9 563.2L163.2 563.2L164.5 558.2L165.8 558.2L167.2 553.2L169 553.2L169.8 547.4L171.1 547.4L172.4 540.8L174.3 540.8L175.1 532L176.4 532L177.6 524.3L182.2 524.3L183 552.8L183.8 581.2L313.9 581.2L313.9 639.5 L40.6 639.5 Z" fill="#bf47aa" fill-opacity="0.106" stroke="none"/>
<path d="M40.6 639.5L44.4 581.2L84 581.2L84.6 582.3L86.6 582.3L88 584.3L89.3 584.3L90.6 586.3L91.9 586.3L93.2 588.3L94.6 588.3L95.9 590.3L97.2 590.3L98.5 592.3L99.8 592.3L101.2 594.3L102.5 594.3L103.8 596.3L105.1 596.3L106.4 598.4L107.8 598.4L109.1 600L110.4 600L111.7 600.1L113 600.1L114.4 600.2L118.3 600.2L119.6 600.3L121 600.3L122.3 600.4L123.8 600.4L124.9 599.2L126.2 599.2L127.6 597.4L129.1 597.4L130.2 595.5L131.5 595.5L132.8 593.7L134.2 593.7L135.5 591.8L136.8 591.8L138.1 590L139.4 590L140.8 588.1L142.4 588.1L143.4 585.9L144.7 585.9L146 583.5L147.4 583.5L148.7 581.1L150 581.1L151.3 577.9L152.6 577.9L154 574.8L155.7 574.8L156.6 571.1L157.9 571.1L159.2 567.2L160.6 567.2L161.9 563.2L163.2 563.2L164.5 558.2L165.8 558.2L167.2 553.2L169 553.2L169.8 547.4L171.1 547.4L172.4 540.8L174.3 540.8L175.1 532L176.4 532L177.6 524.3L182.2 524.3L183 552.8L183.8 581.2L313.9 581.2" fill="none" stroke="#ba43a9" stroke-width="2" stroke-linejoin="round"/>
<path d="M322.2 639.5L325.2 523.5L351.6 523.5L351.7 528.5L354.2 528.5L355.6 534.6L356.9 534.6L358.2 540L359.5 540L360.8 545.3L362.2 545.3L363.5 550.7L364.8 550.7L365 555.1L367.4 555.1L368.8 558.4L370.1 558.4L371.4 561.7L372.7 561.7L374 565L375.4 565L376.7 568.3L378 568.3L378.5 571.2L380.6 571.2L382 573.4L383.3 573.4L384.6 575.5L385.9 575.5L387.2 577.7L388.6 577.7L389.9 579.9L391.2 579.9L392 581.6L404.4 581.6L405.3 581.1L407 581.1L408.4 578.6L409.7 578.6L411 576.1L412.3 576.1L413.6 573.6L415 573.6L415.4 571L417.6 571L418.9 568.3L420.2 568.3L421.6 565.7L422.9 565.7L424.2 563L425.5 563L426.8 560.4L428.2 560.4L429.5 556L430.8 556L432.1 551.5L433.4 551.5L434.8 547.1L436.1 547.1L437 542.4L438.7 542.4L440 536.6L441.4 536.6L442.7 530.8L444 530.8L445.3 523.7L446.6 523.7L448 515.9L449.3 515.9L450.6 505.6L452 505.6L453.2 492.6L454.6 492.6L455 478.9L457.2 478.9L458.4 467.6L459.8 467.6L461.2 467.5L462.5 467.8L463.8 467.5L465.1 467.8L466.4 467.7L467.8 467.8L469.1 467.5L470 468.1L470.4 467.8L473 468L474.4 468L475.7 467.7L477 467.6L478.3 468L479.6 467.9L481 467.3L482.3 467.3L483.6 467.5L484.9 467.8L486.2 467.4L487.6 467.4L488.9 467.6L491.5 467.4L492.8 467.8L494.2 467.6L495.5 467.5L496.8 467.8L498.1 467.4L499.4 467.6L500.5 467.5L500.8 468.2L502.1 470.3L504.7 474.1L506 476.2L506.4 476.8L507.4 477.6L508.7 478.8L511.3 481L512.2 481.8L512.6 485L514 494.6L514.7 500L515.3 503.9L517.9 521.5L518 522L520 523.5L595.6 523.5L595.6 622.5L595.6 639.5 L322.2 639.5 Z" fill="#bf47aa" fill-opacity="0.106" stroke="none"/>
<path d="M322.2 639.5L325.2 523.5L351.6 523.5L351.7 528.5L354.2 528.5L355.6 534.6L356.9 534.6L358.2 540L359.5 540L360.8 545.3L362.2 545.3L363.5 550.7L364.8 550.7L365 555.1L367.4 555.1L368.8 558.4L370.1 558.4L371.4 561.7L372.7 561.7L374 565L375.4 565L376.7 568.3L378 568.3L378.5 571.2L380.6 571.2L382 573.4L383.3 573.4L384.6 575.5L385.9 575.5L387.2 577.7L388.6 577.7L389.9 579.9L391.2 579.9L392 581.6L404.4 581.6L405.3 581.1L407 581.1L408.4 578.6L409.7 578.6L411 576.1L412.3 576.1L413.6 573.6L415 573.6L415.4 571L417.6 571L418.9 568.3L420.2 568.3L421.6 565.7L422.9 565.7L424.2 563L425.5 563L426.8 560.4L428.2 560.4L429.5 556L430.8 556L432.1 551.5L433.4 551.5L434.8 547.1L436.1 547.1L437 542.4L438.7 542.4L440 536.6L441.4 536.6L442.7 530.8L444 530.8L445.3 523.7L446.6 523.7L448 515.9L449.3 515.9L450.6 505.6L452 505.6L453.2 492.6L454.6 492.6L455 478.9L457.2 478.9L458.4 467.6L459.8 467.6L461.2 467.5L462.5 467.8L463.8 467.5L465.1 467.8L466.4 467.7L467.8 467.8L469.1 467.5L470 468.1L470.4 467.8L473 468L474.4 468L475.7 467.7L477 467.6L478.3 468L479.6 467.9L481 467.3L482.3 467.3L483.6 467.5L484.9 467.8L486.2 467.4L487.6 467.4L488.9 467.6L491.5 467.4L492.8 467.8L494.2 467.6L495.5 467.5L496.8 467.8L498.1 467.4L499.4 467.6L500.5 467.5L500.8 468.2L502.1 470.3L504.7 474.1L506 476.2L506.4 476.8L507.4 477.6L508.7 478.8L511.3 481L512.2 481.8L512.6 485L514 494.6L514.7 500L515.3 503.9L517.9 521.5L518 522L520 523.5L595.6 523.5L595.6 622.5" fill="none" stroke="#ba43a9" stroke-width="2" stroke-linejoin="round"/>
<path d="M604.6 639.5L607.3 465.5L628.4 465.5L628.9 472.3L631.1 472.3L631.7 484.3L633.7 484.3L635 492.8L636.8 492.8L637.7 500.7L639 500.7L640.3 508.2L641.6 508.2L642.9 514.5L644.3 514.5L645.1 520.6L646.9 520.6L648.2 526.4L649.5 526.4L650.9 532.2L652.2 532.2L653.5 537.8L654.8 537.8L656.1 542L657.5 542L658.8 546.2L660.1 546.2L661.4 550.4L662.7 550.4L664.1 553.2L665.4 553.2L666.7 556L668 556L669.3 558.8L670.7 558.8L672 561.6L673.3 561.6L674.6 562L686.5 562L687 560.2L689.1 560.2L690.5 556.6L691.8 556.6L693.1 552.9L694.4 552.9L695.4 549.4L697.1 549.4L698.4 546.2L699.7 546.2L701 543.1L702.3 543.1L703.7 539.8L705 539.8L706.3 535.5L707.6 535.5L708.9 531.2L710.3 531.2L711.6 527L712.9 527L714.2 521L716 521L716.9 514.7L718.2 514.7L719.5 508.1L720.8 508.1L722.1 500.9L723.5 500.9L724 492.3L726.1 492.3L727.2 482.4L728.7 482.4L730.1 472.6L731.4 472.6L732.7 456.9L734 456.9L735.3 441L736.7 441L738 422.5L739.3 417.8L739.9 414.5L740.6 421.6L741 417.6L741.9 412.2L743.3 416.5L743.5 426.4L744.6 421.4L745.9 423.4L746 425.8L747.2 425.7L748.5 422.7L749.9 425.3L751.2 421.2L751.9 424.1L752.5 420.4L753.8 418.9L755.1 420.2L756.5 419.9L757.8 420.5L759.1 421.2L760.3 422.3L760.4 420.9L761.7 421.7L763.1 415.5L764.4 418.1L765.7 415.2L767 418.2L768.3 417.1L768.6 415.2L769.7 418.6L771 422.8L772.3 420.5L773.6 424.9L774.9 418.9L776.3 416.7L777 416.7L777.6 421.5L778.9 426.4L780.2 426.8L781.5 420.6L782.9 423.3L784.2 420.2L785.4 418.6L785.5 424.6L786.8 423L788.1 419.8L789.5 421.8L790.8 424.1L792.1 427.2L793.4 427.5L793.8 425.8L794.7 428.9L796.1 426.5L797.4 429.9L798.7 430.7L800 429.9L801.3 429.9L802 430.8L802.7 431.4L804 433.6L805.3 433.5L806.6 434.7L807.9 435.6L809.3 435.6L810.5 436.9L810.6 437.2L811.9 436.6L813.2 438.8L814.5 439.1L815.9 439.8L818.5 441.6L818.9 442.7L819.8 442.4L821.1 443.1L822.5 444.2L823.8 445.4L825.1 446L826.4 447.8L827.3 447.7L827.7 448.4L829.1 449.8L830.4 450.1L831.7 452.4L833 452.8L834.3 454.4L835.6 454.8L835.7 455.2L837 455.8L838.3 455.5L839.6 455.9L840.9 457.1L842.3 457.8L843.6 458.8L844 459.6L844.9 459.9L846.2 460.7L847.5 461.1L848.9 462.3L850.2 463.2L851.5 463.8L852.4 464L852.8 463.7L854.1 464.7L855.5 464.7L856 464.9L856.8 464.9L858.1 465.2L859.4 465.1L860.7 465.3L862 465.3L862.1 465.6L863.4 465.5L864.7 465.6L866 465.5L867.3 465.7L868.7 465.4L870 465.6L871.3 465.5L872.6 465.5L873.9 465.4L875.3 465.4L876.6 465.3L877 465.3L877 639.5 L604.6 639.5 Z" fill="#bf47aa" fill-opacity="0.106" stroke="none"/>
<path d="M604.6 639.5L607.3 465.5L628.4 465.5L628.9 472.3L631.1 472.3L631.7 484.3L633.7 484.3L635 492.8L636.8 492.8L637.7 500.7L639 500.7L640.3 508.2L641.6 508.2L642.9 514.5L644.3 514.5L645.1 520.6L646.9 520.6L648.2 526.4L649.5 526.4L650.9 532.2L652.2 532.2L653.5 537.8L654.8 537.8L656.1 542L657.5 542L658.8 546.2L660.1 546.2L661.4 550.4L662.7 550.4L664.1 553.2L665.4 553.2L666.7 556L668 556L669.3 558.8L670.7 558.8L672 561.6L673.3 561.6L674.6 562L686.5 562L687 560.2L689.1 560.2L690.5 556.6L691.8 556.6L693.1 552.9L694.4 552.9L695.4 549.4L697.1 549.4L698.4 546.2L699.7 546.2L701 543.1L702.3 543.1L703.7 539.8L705 539.8L706.3 535.5L707.6 535.5L708.9 531.2L710.3 531.2L711.6 527L712.9 527L714.2 521L716 521L716.9 514.7L718.2 514.7L719.5 508.1L720.8 508.1L722.1 500.9L723.5 500.9L724 492.3L726.1 492.3L727.2 482.4L728.7 482.4L730.1 472.6L731.4 472.6L732.7 456.9L734 456.9L735.3 441L736.7 441L738 422.5L739.3 417.8L739.9 414.5L740.6 421.6L741 417.6L741.9 412.2L743.3 416.5L743.5 426.4L744.6 421.4L745.9 423.4L746 425.8L747.2 425.7L748.5 422.7L749.9 425.3L751.2 421.2L751.9 424.1L752.5 420.4L753.8 418.9L755.1 420.2L756.5 419.9L757.8 420.5L759.1 421.2L760.3 422.3L760.4 420.9L761.7 421.7L763.1 415.5L764.4 418.1L765.7 415.2L767 418.2L768.3 417.1L768.6 415.2L769.7 418.6L771 422.8L772.3 420.5L773.6 424.9L774.9 418.9L776.3 416.7L777 416.7L777.6 421.5L778.9 426.4L780.2 426.8L781.5 420.6L782.9 423.3L784.2 420.2L785.4 418.6L785.5 424.6L786.8 423L788.1 419.8L789.5 421.8L790.8 424.1L792.1 427.2L793.4 427.5L793.8 425.8L794.7 428.9L796.1 426.5L797.4 429.9L798.7 430.7L800 429.9L801.3 429.9L802 430.8L802.7 431.4L804 433.6L805.3 433.5L806.6 434.7L807.9 435.6L809.3 435.6L810.5 436.9L810.6 437.2L811.9 436.6L813.2 438.8L814.5 439.1L815.9 439.8L818.5 441.6L818.9 442.7L819.8 442.4L821.1 443.1L822.5 444.2L823.8 445.4L825.1 446L826.4 447.8L827.3 447.7L827.7 448.4L829.1 449.8L830.4 450.1L831.7 452.4L833 452.8L834.3 454.4L835.6 454.8L835.7 455.2L837 455.8L838.3 455.5L839.6 455.9L840.9 457.1L842.3 457.8L843.6 458.8L844 459.6L844.9 459.9L846.2 460.7L847.5 461.1L848.9 462.3L850.2 463.2L851.5 463.8L852.4 464L852.8 463.7L854.1 464.7L855.5 464.7L856 464.9L856.8 464.9L858.1 465.2L859.4 465.1L860.7 465.3L862 465.3L862.1 465.6L863.4 465.5L864.7 465.6L866 465.5L867.3 465.7L868.7 465.4L870 465.6L871.3 465.5L872.6 465.5L873.9 465.4L875.3 465.4L876.6 465.3L877 465.3" fill="none" stroke="#ba43a9" stroke-width="2" stroke-linejoin="round"/>
</svg>
<span class="yl" style="top:35.6px">40 K</span>
<span class="yl" style="top:93.3px">30 K</span>
<span class="yl" style="top:151.1px">20 K</span>
<span class="yl" style="top:208.8px">10 K</span>
<span class="yl" style="top:266.6px">0</span>
<span class="xl" style="left:28.8px;top:280.2px">19:30</span>
<span class="xl" style="left:108.2px;top:280.2px">20:00</span>
<span class="xl" style="left:187.6px;top:280.2px">20:30</span>
<span class="xl" style="left:267.1px;top:280.2px">21:00</span>
<span class="xl" style="left:346.5px;top:280.2px">21:30</span>
<span class="xl" style="left:425.9px;top:280.2px">22:00</span>
<span class="xl" style="left:505.3px;top:280.2px">22:30</span>
<span class="xl" style="left:584.7px;top:280.2px">23:00</span>
<span class="xl" style="left:664.2px;top:280.2px">23:30</span>
<span class="xl" style="left:743.6px;top:280.2px">00:00</span>
<span class="xl" style="left:823px;top:280.2px">00:30</span>
<ul class="legend">
<li><i class="sw" style="left:17.7px;top:310px;background:#7eb26d"></i><span class="lt" style="left:33.5px;top:304.9px">3 nodes, 36 vCPUs, 72 GB RAM</span></li>
<li><i class="sw" style="left:196.5px;top:310px;background:#eab839"></i><span class="lt" style="left:212.1px;top:304.9px">3 nodes, 16 vCPUs, 32 GB RAM</span></li>
<li><i class="sw" style="left:374.3px;top:310px;background:#6ed0e0"></i><span class="lt" style="left:390.9px;top:304.9px">5 nodes, 16 vCPUs, 32 GB RAM</span></li>
<li><i class="sw" style="left:552.9px;top:310px;background:#ef843c"></i><span class="lt" style="left:569.4px;top:304.9px">7 nodes, 16 vCPUs, 32 GB RAM</span></li>
<li><i class="sw" style="left:730.9px;top:310px;background:#e24d42"></i><span class="lt" style="left:747.4px;top:304.9px">5 nodes, 8 vCPUs, 16 GB RAM</span></li>
<li><i class="sw" style="left:17.7px;top:328.9px;background:#1f78c1"></i><span class="lt" style="left:33.5px;top:323.8px">7 nodes, 8 vCPUs, 16 GB RAM</span></li>
<li><i class="sw" style="left:190.6px;top:328.9px;background:#ba43a9"></i><span class="lt" style="left:206.1px;top:323.8px">9 nodes, 8 vCPUs, 16 GB RAM</span></li>
</ul>
<span class="rz"></span>
</section>
</body></html>
